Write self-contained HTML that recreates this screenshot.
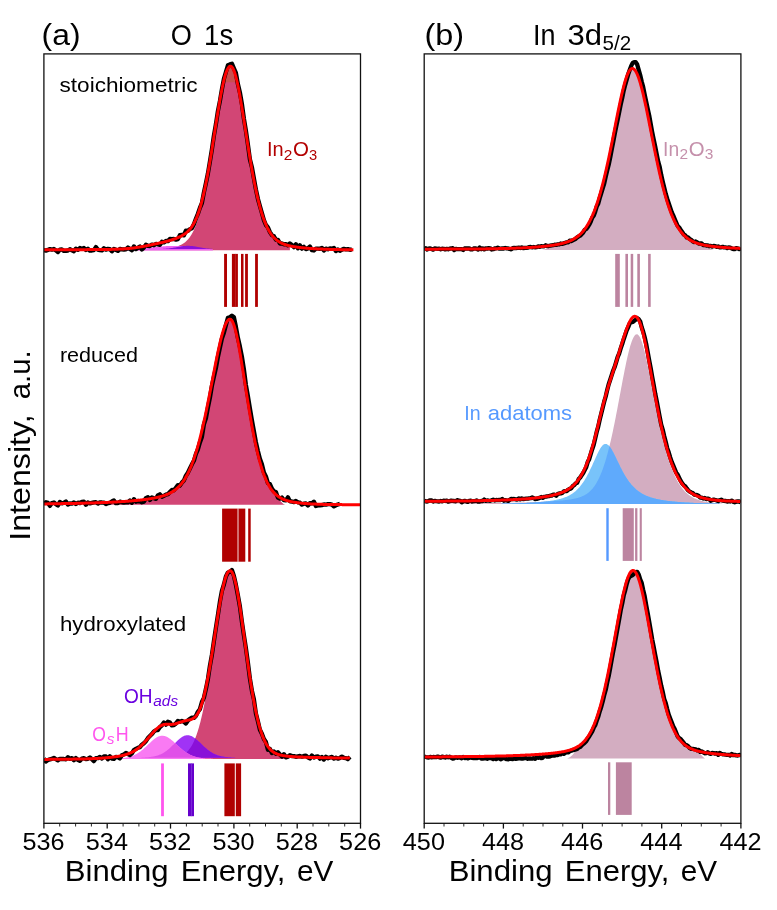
<!DOCTYPE html>
<html lang="en"><head><meta charset="utf-8"><title>XPS O 1s / In 3d5/2</title>
<style>
html,body{margin:0;padding:0;background:#fff;}
body{width:777px;height:910px;overflow:hidden;font-family:"Liberation Sans",sans-serif;}
svg{display:block;font-family:"Liberation Sans",sans-serif;}
</style></head><body>
<svg width="777" height="910" viewBox="0 0 777 910">
<rect width="777" height="910" fill="#ffffff"/>
<defs>
<clipPath id="ca"><rect x="43.9" y="53.9" width="316.6" height="769.4"/></clipPath>
<clipPath id="cb"><rect x="424.2" y="53.9" width="316.7" height="769.4"/></clipPath>
<clipPath id="top1"><rect x="150" y="50" width="160" height="32.3"/></clipPath>
<clipPath id="ov3"><path d="M148.9,758.5 L149.4,758.5 L149.9,758.5 L150.4,758.5 L150.9,758.5 L151.4,758.5 L151.9,758.5 L152.4,758.5 L152.9,758.4 L153.4,758.4 L153.9,758.4 L154.4,758.4 L154.9,758.4 L155.4,758.4 L155.9,758.4 L156.4,758.4 L156.9,758.4 L157.4,758.4 L157.9,758.4 L158.4,758.4 L158.9,758.3 L159.4,758.3 L159.9,758.3 L160.4,758.3 L160.9,758.3 L161.4,758.3 L161.9,758.3 L162.4,758.3 L162.9,758.2 L163.4,758.2 L163.9,758.2 L164.4,758.2 L164.9,758.2 L165.4,758.2 L165.9,758.1 L166.4,758.1 L166.9,758.1 L167.4,758.1 L167.9,758 L168.4,758 L168.9,758 L169.4,758 L169.9,757.9 L170.4,757.9 L170.9,757.8 L171.4,757.8 L171.9,757.7 L172.4,757.7 L172.9,757.6 L173.4,757.6 L173.9,757.5 L174.4,757.4 L174.9,757.4 L175.4,757.3 L175.9,757.2 L176.4,757.1 L176.9,757 L177.4,756.9 L177.9,756.8 L178.4,756.6 L178.9,756.5 L179.4,756.3 L179.9,756.2 L180.4,756 L180.9,755.8 L181.4,755.6 L181.9,755.4 L182.4,755.1 L182.9,754.9 L183.4,754.6 L183.9,754.3 L184.4,753.9 L184.9,753.6 L185.4,753.2 L185.9,752.8 L186.4,752.4 L186.9,751.9 L187.4,751.5 L187.9,750.9 L188.4,750.4 L188.9,749.8 L189.4,749.1 L189.9,748.5 L190.4,747.8 L190.9,747 L191.4,746.2 L191.9,745.4 L192.4,744.5 L192.9,743.5 L193.4,742.5 L193.9,741.4 L194.4,740.3 L194.9,739.1 L195.4,737.9 L195.9,736.6 L196.4,735.3 L196.9,733.8 L197.4,732.3 L197.9,730.8 L198.4,729.1 L198.9,727.4 L199.4,725.6 L199.9,723.8 L200.4,721.9 L200.9,719.8 L201.4,717.8 L201.9,715.6 L202.4,713.4 L202.9,711.1 L203.4,708.7 L203.9,706.2 L204.4,703.7 L204.9,701.1 L205.4,698.4 L205.9,695.7 L206.4,692.9 L206.9,690 L207.4,687.1 L207.9,684.1 L208.4,681 L208.9,677.9 L209.4,674.7 L209.9,671.5 L210.4,668.2 L210.9,664.9 L211.4,661.6 L211.9,658.2 L212.4,654.9 L212.9,651.5 L213.4,648 L213.9,644.6 L214.4,641.2 L214.9,637.8 L215.4,634.4 L215.9,631 L216.4,627.6 L216.9,624.3 L217.4,621 L217.9,617.8 L218.4,614.6 L218.9,611.5 L219.4,608.4 L219.9,605.5 L220.4,602.6 L220.9,599.8 L221.4,597.1 L221.9,594.5 L222.4,592 L222.9,589.7 L223.4,587.4 L223.9,585.3 L224.4,583.4 L224.9,581.5 L225.4,579.9 L225.9,578.4 L226.4,577 L226.9,575.8 L227.4,574.8 L227.9,573.9 L228.4,573.2 L228.9,572.7 L229.4,572.4 L229.9,572.2 L230.4,572.2 L230.9,572.5 L231.4,572.9 L231.9,573.6 L232.4,574.4 L232.9,575.5 L233.4,576.8 L233.9,578.2 L234.4,579.9 L234.9,581.7 L235.4,583.7 L235.9,585.9 L236.4,588.2 L236.9,590.7 L237.4,593.3 L237.9,596 L238.4,598.9 L238.9,601.9 L239.4,605 L239.9,608.2 L240.4,611.5 L240.9,614.8 L241.4,618.3 L241.9,621.7 L242.4,625.3 L242.9,628.8 L243.4,632.4 L243.9,636.1 L244.4,639.7 L244.9,643.3 L245.4,647 L245.9,650.6 L246.4,654.2 L246.9,657.8 L247.4,661.4 L247.9,664.9 L248.4,668.4 L248.9,671.8 L249.4,675.2 L249.9,678.5 L250.4,681.8 L250.9,685 L251.4,688.1 L251.9,691.2 L252.4,694.2 L252.9,697.1 L253.4,699.9 L253.9,702.6 L254.4,705.3 L254.9,707.9 L255.4,710.4 L255.9,712.8 L256.4,715.1 L256.9,717.3 L257.4,719.5 L257.9,721.5 L258.4,723.5 L258.9,725.4 L259.4,727.2 L259.9,729 L260.4,730.6 L260.9,732.2 L261.4,733.7 L261.9,735.2 L262.4,736.5 L262.9,737.8 L263.4,739 L263.9,740.2 L264.4,741.3 L264.9,742.3 L265.4,743.3 L265.9,744.2 L266.4,745.1 L266.9,745.9 L267.4,746.7 L267.9,747.4 L268.4,748.1 L268.9,748.7 L269.4,749.3 L269.9,749.9 L270.4,750.4 L270.9,750.9 L271.4,751.3 L271.9,751.8 L272.4,752.2 L272.9,752.5 L273.4,752.9 L273.9,753.2 L274.4,753.5 L274.9,753.8 L275.4,754 L275.9,754.3 L276.4,754.5 L276.9,754.7 L277.4,754.9 L277.9,755.1 L278.4,755.2 L278.9,755.4 L279.4,755.5 L279.9,755.7 L280.4,755.8 L280.9,755.9 L281.4,756 L281.9,756.1 L282.4,756.2 L282.9,756.3 L283.4,756.4 L283.9,756.5 L283.9,759 L148.9,759 Z"/></clipPath>
<clipPath id="ov3b"><path d="M141.4,757.5 L141.9,757.5 L142.4,757.5 L142.9,757.4 L143.4,757.4 L143.9,757.4 L144.4,757.4 L144.9,757.4 L145.4,757.3 L145.9,757.3 L146.4,757.3 L146.9,757.3 L147.4,757.2 L147.9,757.2 L148.4,757.2 L148.9,757.1 L149.4,757.1 L149.9,757 L150.4,757 L150.9,756.9 L151.4,756.8 L151.9,756.8 L152.4,756.7 L152.9,756.6 L153.4,756.5 L153.9,756.4 L154.4,756.3 L154.9,756.2 L155.4,756.1 L155.9,756 L156.4,755.8 L156.9,755.7 L157.4,755.6 L157.9,755.4 L158.4,755.2 L158.9,755 L159.4,754.8 L159.9,754.6 L160.4,754.4 L160.9,754.2 L161.4,754 L161.9,753.7 L162.4,753.5 L162.9,753.2 L163.4,752.9 L163.9,752.6 L164.4,752.3 L164.9,751.9 L165.4,751.6 L165.9,751.2 L166.4,750.9 L166.9,750.5 L167.4,750.1 L167.9,749.7 L168.4,749.3 L168.9,748.9 L169.4,748.4 L169.9,748 L170.4,747.5 L170.9,747.1 L171.4,746.6 L171.9,746.1 L172.4,745.6 L172.9,745.1 L173.4,744.7 L173.9,744.2 L174.4,743.7 L174.9,743.2 L175.4,742.7 L175.9,742.2 L176.4,741.7 L176.9,741.2 L177.4,740.8 L177.9,740.3 L178.4,739.8 L178.9,739.4 L179.4,739 L179.9,738.6 L180.4,738.2 L180.9,737.8 L181.4,737.4 L181.9,737.1 L182.4,736.8 L182.9,736.5 L183.4,736.2 L183.9,736 L184.4,735.8 L184.9,735.6 L185.4,735.5 L185.9,735.4 L186.4,735.3 L186.9,735.2 L187.4,735.2 L187.9,735.2 L188.4,735.2 L188.9,735.3 L189.4,735.4 L189.9,735.5 L190.4,735.7 L190.9,735.9 L191.4,736.1 L191.9,736.3 L192.4,736.6 L192.9,736.9 L193.4,737.2 L193.9,737.5 L194.4,737.9 L194.9,738.2 L195.4,738.6 L195.9,739 L196.4,739.4 L196.9,739.9 L197.4,740.3 L197.9,740.7 L198.4,741.2 L198.9,741.7 L199.4,742.1 L199.9,742.6 L200.4,743.1 L200.9,743.6 L201.4,744 L201.9,744.5 L202.4,745 L202.9,745.5 L203.4,745.9 L203.9,746.4 L204.4,746.9 L204.9,747.3 L205.4,747.8 L205.9,748.2 L206.4,748.6 L206.9,749 L207.4,749.5 L207.9,749.9 L208.4,750.2 L208.9,750.6 L209.4,751 L209.9,751.3 L210.4,751.7 L210.9,752 L211.4,752.3 L211.9,752.6 L212.4,752.9 L212.9,753.2 L213.4,753.5 L213.9,753.7 L214.4,754 L214.9,754.2 L215.4,754.4 L215.9,754.6 L216.4,754.8 L216.9,755 L217.4,755.2 L217.9,755.4 L218.4,755.5 L218.9,755.7 L219.4,755.8 L219.9,755.9 L220.4,756.1 L220.9,756.2 L221.4,756.3 L221.9,756.4 L222.4,756.5 L222.9,756.6 L223.4,756.6 L223.9,756.7 L224.4,756.8 L224.9,756.9 L225.4,756.9 L225.9,757 L226.4,757 L226.9,757.1 L227.4,757.1 L227.9,757.2 L228.4,757.2 L228.9,757.2 L229.4,757.3 L229.9,757.3 L230.4,757.3 L230.9,757.3 L231.4,757.4 L231.9,757.4 L232.4,757.4 L232.9,757.4 L233.4,757.4 L233.9,757.5 L234.4,757.5 L234.9,757.5 L234.9,757.8 L141.4,757.8 Z"/></clipPath>
<clipPath id="ov5"><path d="M446.7,503.5 L447.2,503.5 L447.7,503.5 L448.2,503.5 L448.7,503.5 L449.2,503.5 L449.7,503.5 L450.2,503.5 L450.7,503.5 L451.2,503.5 L451.7,503.5 L452.2,503.5 L452.7,503.5 L453.2,503.5 L453.7,503.5 L454.2,503.4 L454.7,503.4 L455.2,503.4 L455.7,503.4 L456.2,503.4 L456.7,503.4 L457.2,503.4 L457.7,503.4 L458.2,503.4 L458.7,503.4 L459.2,503.4 L459.7,503.4 L460.2,503.4 L460.7,503.4 L461.2,503.4 L461.7,503.4 L462.2,503.4 L462.7,503.4 L463.2,503.4 L463.7,503.4 L464.2,503.4 L464.7,503.4 L465.2,503.4 L465.7,503.4 L466.2,503.4 L466.7,503.4 L467.2,503.3 L467.7,503.3 L468.2,503.3 L468.7,503.3 L469.2,503.3 L469.7,503.3 L470.2,503.3 L470.7,503.3 L471.2,503.3 L471.7,503.3 L472.2,503.3 L472.7,503.3 L473.2,503.3 L473.7,503.3 L474.2,503.3 L474.7,503.3 L475.2,503.3 L475.7,503.3 L476.2,503.3 L476.7,503.3 L477.2,503.3 L477.7,503.2 L478.2,503.2 L478.7,503.2 L479.2,503.2 L479.7,503.2 L480.2,503.2 L480.7,503.2 L481.2,503.2 L481.7,503.2 L482.2,503.2 L482.7,503.2 L483.2,503.2 L483.7,503.2 L484.2,503.2 L484.7,503.2 L485.2,503.2 L485.7,503.2 L486.2,503.2 L486.7,503.1 L487.2,503.1 L487.7,503.1 L488.2,503.1 L488.7,503.1 L489.2,503.1 L489.7,503.1 L490.2,503.1 L490.7,503.1 L491.2,503.1 L491.7,503.1 L492.2,503.1 L492.7,503.1 L493.2,503.1 L493.7,503.1 L494.2,503 L494.7,503 L495.2,503 L495.7,503 L496.2,503 L496.7,503 L497.2,503 L497.7,503 L498.2,503 L498.7,503 L499.2,503 L499.7,503 L500.2,503 L500.7,502.9 L501.2,502.9 L501.7,502.9 L502.2,502.9 L502.7,502.9 L503.2,502.9 L503.7,502.9 L504.2,502.9 L504.7,502.9 L505.2,502.9 L505.7,502.9 L506.2,502.8 L506.7,502.8 L507.2,502.8 L507.7,502.8 L508.2,502.8 L508.7,502.8 L509.2,502.8 L509.7,502.8 L510.2,502.8 L510.7,502.8 L511.2,502.7 L511.7,502.7 L512.2,502.7 L512.7,502.7 L513.2,502.7 L513.7,502.7 L514.2,502.7 L514.7,502.7 L515.2,502.7 L515.7,502.6 L516.2,502.6 L516.7,502.6 L517.2,502.6 L517.7,502.6 L518.2,502.6 L518.7,502.6 L519.2,502.6 L519.7,502.5 L520.2,502.5 L520.7,502.5 L521.2,502.5 L521.7,502.5 L522.2,502.5 L522.7,502.5 L523.2,502.5 L523.7,502.4 L524.2,502.4 L524.7,502.4 L525.2,502.4 L525.7,502.4 L526.2,502.4 L526.7,502.4 L527.2,502.3 L527.7,502.3 L528.2,502.3 L528.7,502.3 L529.2,502.3 L529.7,502.3 L530.2,502.2 L530.7,502.2 L531.2,502.2 L531.7,502.2 L532.2,502.2 L532.7,502.2 L533.2,502.1 L533.7,502.1 L534.2,502.1 L534.7,502.1 L535.2,502.1 L535.7,502 L536.2,502 L536.7,502 L537.2,502 L537.7,502 L538.2,501.9 L538.7,501.9 L539.2,501.9 L539.7,501.9 L540.2,501.9 L540.7,501.8 L541.2,501.8 L541.7,501.8 L542.2,501.8 L542.7,501.7 L543.2,501.7 L543.7,501.7 L544.2,501.7 L544.7,501.6 L545.2,501.6 L545.7,501.6 L546.2,501.6 L546.7,501.5 L547.2,501.5 L547.7,501.5 L548.2,501.5 L548.7,501.4 L549.2,501.4 L549.7,501.4 L550.2,501.3 L550.7,501.3 L551.2,501.3 L551.7,501.2 L552.2,501.2 L552.7,501.2 L553.2,501.1 L553.7,501.1 L554.2,501.1 L554.7,501 L555.2,501 L555.7,501 L556.2,500.9 L556.7,500.9 L557.2,500.9 L557.7,500.8 L558.2,500.8 L558.7,500.7 L559.2,500.7 L559.7,500.7 L560.2,500.6 L560.7,500.6 L561.2,500.5 L561.7,500.5 L562.2,500.4 L562.7,500.4 L563.2,500.3 L563.7,500.3 L564.2,500.2 L564.7,500.2 L565.2,500.1 L565.7,500.1 L566.2,500 L566.7,499.9 L567.2,499.9 L567.7,499.8 L568.2,499.7 L568.7,499.7 L569.2,499.6 L569.7,499.5 L570.2,499.5 L570.7,499.4 L571.2,499.3 L571.7,499.2 L572.2,499.1 L572.7,499 L573.2,498.9 L573.7,498.8 L574.2,498.7 L574.7,498.6 L575.2,498.5 L575.7,498.4 L576.2,498.3 L576.7,498.2 L577.2,498 L577.7,497.9 L578.2,497.7 L578.7,497.6 L579.2,497.4 L579.7,497.3 L580.2,497.1 L580.7,496.9 L581.2,496.7 L581.7,496.5 L582.2,496.3 L582.7,496.1 L583.2,495.9 L583.7,495.6 L584.2,495.4 L584.7,495.1 L585.2,494.8 L585.7,494.5 L586.2,494.2 L586.7,493.9 L587.2,493.5 L587.7,493.2 L588.2,492.8 L588.7,492.4 L589.2,492 L589.7,491.5 L590.2,491 L590.7,490.6 L591.2,490 L591.7,489.5 L592.2,488.9 L592.7,488.4 L593.2,487.7 L593.7,487.1 L594.2,486.4 L594.7,485.7 L595.2,485 L595.7,484.2 L596.2,483.4 L596.7,482.5 L597.2,481.6 L597.7,480.7 L598.2,479.8 L598.7,478.8 L599.2,477.7 L599.7,476.6 L600.2,475.5 L600.7,474.3 L601.2,473.1 L601.7,471.9 L602.2,470.5 L602.7,469.2 L603.2,467.8 L603.7,466.3 L604.2,464.8 L604.7,463.3 L605.2,461.7 L605.7,460.1 L606.2,458.4 L606.7,456.6 L607.2,454.8 L607.7,453 L608.2,451.1 L608.7,449.1 L609.2,447.1 L609.7,445.1 L610.2,443 L610.7,440.9 L611.2,438.7 L611.7,436.4 L612.2,434.2 L612.7,431.9 L613.2,429.5 L613.7,427.1 L614.2,424.7 L614.7,422.2 L615.2,419.7 L615.7,417.2 L616.2,414.6 L616.7,412 L617.2,409.4 L617.7,406.8 L618.2,404.1 L618.7,401.5 L619.2,398.8 L619.7,396.1 L620.2,393.4 L620.7,390.8 L621.2,388.1 L621.7,385.4 L622.2,382.8 L622.7,380.1 L623.2,377.5 L623.7,374.9 L624.2,372.4 L624.7,369.8 L625.2,367.4 L625.7,364.9 L626.2,362.6 L626.7,360.2 L627.2,358 L627.7,355.8 L628.2,353.7 L628.7,351.7 L629.2,349.7 L629.7,347.9 L630.2,346.1 L630.7,344.5 L631.2,342.9 L631.7,341.5 L632.2,340.2 L632.7,339 L633.2,337.9 L633.7,337 L634.2,336.2 L634.7,335.6 L635.2,335 L635.7,334.6 L636.2,334.4 L636.7,334.3 L637.2,334.3 L637.7,334.6 L638.2,334.9 L638.7,335.4 L639.2,336.1 L639.7,336.9 L640.2,337.8 L640.7,338.9 L641.2,340.2 L641.7,341.5 L642.2,343 L642.7,344.6 L643.2,346.3 L643.7,348.1 L644.2,350 L644.7,352 L645.2,354.1 L645.7,356.3 L646.2,358.5 L646.7,360.8 L647.2,363.2 L647.7,365.6 L648.2,368.1 L648.7,370.6 L649.2,373.1 L649.7,375.7 L650.2,378.3 L650.7,380.9 L651.2,383.5 L651.7,386.1 L652.2,388.7 L652.7,391.3 L653.2,393.9 L653.7,396.5 L654.2,399.1 L654.7,401.7 L655.2,404.2 L655.7,406.8 L656.2,409.3 L656.7,411.8 L657.2,414.2 L657.7,416.6 L658.2,419 L658.7,421.4 L659.2,423.7 L659.7,426 L660.2,428.2 L660.7,430.5 L661.2,432.6 L661.7,434.8 L662.2,436.9 L662.7,438.9 L663.2,440.9 L663.7,442.9 L664.2,444.8 L664.7,446.7 L665.2,448.5 L665.7,450.3 L666.2,452.1 L666.7,453.8 L667.2,455.5 L667.7,457.1 L668.2,458.7 L668.7,460.2 L669.2,461.7 L669.7,463.2 L670.2,464.6 L670.7,466 L671.2,467.3 L671.7,468.6 L672.2,469.9 L672.7,471.1 L673.2,472.3 L673.7,473.5 L674.2,474.6 L674.7,475.7 L675.2,476.8 L675.7,477.8 L676.2,478.8 L676.7,479.7 L677.2,480.6 L677.7,481.5 L678.2,482.4 L678.7,483.2 L679.2,484 L679.7,484.8 L680.2,485.6 L680.7,486.3 L681.2,487 L681.7,487.6 L682.2,488.3 L682.7,488.9 L683.2,489.5 L683.7,490.1 L684.2,490.6 L684.7,491.2 L685.2,491.7 L685.7,492.2 L686.2,492.7 L686.7,493.1 L687.2,493.6 L687.7,494 L688.2,494.4 L688.7,494.8 L689.2,495.1 L689.7,495.5 L690.2,495.9 L690.7,496.2 L691.2,496.5 L691.7,496.8 L692.2,497.1 L692.7,497.4 L693.2,497.7 L693.7,497.9 L694.2,498.2 L694.7,498.4 L695.2,498.6 L695.7,498.8 L696.2,499.1 L696.7,499.3 L697.2,499.5 L697.7,499.6 L698.2,499.8 L698.7,500 L699.2,500.2 L699.7,500.3 L700.2,500.5 L700.7,500.6 L701.2,500.7 L701.7,500.9 L702.2,501 L702.7,501.1 L703.2,501.2 L703.7,501.4 L704.2,501.5 L704.7,501.6 L705.2,501.7 L705.7,501.8 L706.2,501.9 L706.7,501.9 L707.2,502 L707.7,502.1 L708.2,502.2 L708.7,502.3 L709.2,502.3 L709.7,502.4 L710.2,502.5 L710.7,502.5 L711.2,502.6 L711.7,502.7 L712.2,502.7 L712.7,502.8 L713.2,502.8 L713.7,502.9 L714.2,502.9 L714.7,503 L715.2,503 L715.7,503.1 L716.2,503.1 L716.7,503.1 L717.2,503.2 L717.7,503.2 L718.2,503.2 L718.7,503.3 L719.2,503.3 L719.7,503.3 L720.2,503.4 L720.7,503.4 L721.2,503.4 L721.7,503.5 L722.2,503.5 L722.2,504.1 L446.7,504.1 Z"/></clipPath>
</defs>
<path d="M95.4,249.7 L95.9,249.7 L96.4,249.7 L96.9,249.7 L97.4,249.7 L97.9,249.7 L98.4,249.7 L98.9,249.7 L99.4,249.7 L99.9,249.7 L100.4,249.7 L100.9,249.7 L101.4,249.7 L101.9,249.6 L102.4,249.6 L102.9,249.6 L103.4,249.6 L103.9,249.6 L104.4,249.6 L104.9,249.6 L105.4,249.6 L105.9,249.6 L106.4,249.6 L106.9,249.6 L107.4,249.6 L107.9,249.6 L108.4,249.6 L108.9,249.6 L109.4,249.6 L109.9,249.6 L110.4,249.6 L110.9,249.6 L111.4,249.6 L111.9,249.6 L112.4,249.5 L112.9,249.5 L113.4,249.5 L113.9,249.5 L114.4,249.5 L114.9,249.5 L115.4,249.5 L115.9,249.5 L116.4,249.5 L116.9,249.5 L117.4,249.5 L117.9,249.5 L118.4,249.5 L118.9,249.5 L119.4,249.5 L119.9,249.5 L120.4,249.5 L120.9,249.4 L121.4,249.4 L121.9,249.4 L122.4,249.4 L122.9,249.4 L123.4,249.4 L123.9,249.4 L124.4,249.4 L124.9,249.4 L125.4,249.4 L125.9,249.4 L126.4,249.4 L126.9,249.4 L127.4,249.4 L127.9,249.3 L128.4,249.3 L128.9,249.3 L129.4,249.3 L129.9,249.3 L130.4,249.3 L130.9,249.3 L131.4,249.3 L131.9,249.3 L132.4,249.3 L132.9,249.3 L133.4,249.2 L133.9,249.2 L134.4,249.2 L134.9,249.2 L135.4,249.2 L135.9,249.2 L136.4,249.2 L136.9,249.2 L137.4,249.2 L137.9,249.2 L138.4,249.1 L138.9,249.1 L139.4,249.1 L139.9,249.1 L140.4,249.1 L140.9,249.1 L141.4,249.1 L141.9,249.1 L142.4,249.1 L142.9,249 L143.4,249 L143.9,249 L144.4,249 L144.9,249 L145.4,249 L145.9,249 L146.4,248.9 L146.9,248.9 L147.4,248.9 L147.9,248.9 L148.4,248.9 L148.9,248.9 L149.4,248.9 L149.9,248.8 L150.4,248.8 L150.9,248.8 L151.4,248.8 L151.9,248.8 L152.4,248.8 L152.9,248.7 L153.4,248.7 L153.9,248.7 L154.4,248.7 L154.9,248.7 L155.4,248.6 L155.9,248.6 L156.4,248.6 L156.9,248.6 L157.4,248.6 L157.9,248.5 L158.4,248.5 L158.9,248.5 L159.4,248.5 L159.9,248.4 L160.4,248.4 L160.9,248.4 L161.4,248.4 L161.9,248.3 L162.4,248.3 L162.9,248.3 L163.4,248.2 L163.9,248.2 L164.4,248.2 L164.9,248.1 L165.4,248.1 L165.9,248.1 L166.4,248 L166.9,248 L167.4,247.9 L167.9,247.9 L168.4,247.8 L168.9,247.8 L169.4,247.7 L169.9,247.7 L170.4,247.6 L170.9,247.5 L171.4,247.5 L171.9,247.4 L172.4,247.3 L172.9,247.2 L173.4,247.1 L173.9,247.1 L174.4,247 L174.9,246.8 L175.4,246.7 L175.9,246.6 L176.4,246.5 L176.9,246.3 L177.4,246.2 L177.9,246 L178.4,245.9 L178.9,245.7 L179.4,245.5 L179.9,245.3 L180.4,245.1 L180.9,244.9 L181.4,244.6 L181.9,244.4 L182.4,244.1 L182.9,243.8 L183.4,243.5 L183.9,243.1 L184.4,242.8 L184.9,242.4 L185.4,242 L185.9,241.5 L186.4,241.1 L186.9,240.6 L187.4,240.1 L187.9,239.5 L188.4,238.9 L188.9,238.3 L189.4,237.7 L189.9,237 L190.4,236.2 L190.9,235.5 L191.4,234.7 L191.9,233.8 L192.4,232.9 L192.9,231.9 L193.4,230.9 L193.9,229.9 L194.4,228.8 L194.9,227.6 L195.4,226.4 L195.9,225.1 L196.4,223.8 L196.9,222.4 L197.4,221 L197.9,219.4 L198.4,217.9 L198.9,216.2 L199.4,214.5 L199.9,212.7 L200.4,210.9 L200.9,209 L201.4,207 L201.9,205 L202.4,202.8 L202.9,200.7 L203.4,198.4 L203.9,196.1 L204.4,193.7 L204.9,191.3 L205.4,188.7 L205.9,186.2 L206.4,183.5 L206.9,180.8 L207.4,178.1 L207.9,175.3 L208.4,172.4 L208.9,169.5 L209.4,166.5 L209.9,163.5 L210.4,160.4 L210.9,157.4 L211.4,154.2 L211.9,151.1 L212.4,147.9 L212.9,144.7 L213.4,141.5 L213.9,138.3 L214.4,135.1 L214.9,131.9 L215.4,128.6 L215.9,125.4 L216.4,122.3 L216.9,119.1 L217.4,116 L217.9,112.9 L218.4,109.8 L218.9,106.8 L219.4,103.9 L219.9,101 L220.4,98.2 L220.9,95.5 L221.4,92.9 L221.9,90.3 L222.4,87.9 L222.9,85.5 L223.4,83.3 L223.9,81.2 L224.4,79.2 L224.9,77.4 L225.4,75.6 L225.9,74.1 L226.4,72.6 L226.9,71.4 L227.4,70.3 L227.9,69.3 L228.4,68.5 L228.9,67.9 L229.4,67.4 L229.9,67.1 L230.4,67 L230.9,67.1 L231.4,67.3 L231.9,67.8 L232.4,68.4 L232.9,69.2 L233.4,70.2 L233.9,71.4 L234.4,72.7 L234.9,74.2 L235.4,75.9 L235.9,77.7 L236.4,79.7 L236.9,81.8 L237.4,84 L237.9,86.4 L238.4,88.8 L238.9,91.4 L239.4,94.1 L239.9,96.8 L240.4,99.6 L240.9,102.5 L241.4,105.5 L241.9,108.5 L242.4,111.6 L242.9,114.6 L243.4,117.8 L243.9,120.9 L244.4,124.1 L244.9,127.3 L245.4,130.5 L245.9,133.7 L246.4,136.8 L246.9,140 L247.4,143.2 L247.9,146.3 L248.4,149.4 L248.9,152.5 L249.4,155.6 L249.9,158.6 L250.4,161.5 L250.9,164.5 L251.4,167.4 L251.9,170.2 L252.4,173 L252.9,175.7 L253.4,178.4 L253.9,181 L254.4,183.6 L254.9,186.1 L255.4,188.5 L255.9,190.9 L256.4,193.2 L256.9,195.4 L257.4,197.6 L257.9,199.7 L258.4,201.8 L258.9,203.8 L259.4,205.7 L259.9,207.6 L260.4,209.4 L260.9,211.1 L261.4,212.8 L261.9,214.4 L262.4,216 L262.9,217.5 L263.4,218.9 L263.9,220.3 L264.4,221.7 L264.9,222.9 L265.4,224.2 L265.9,225.3 L266.4,226.5 L266.9,227.5 L267.4,228.5 L267.9,229.5 L268.4,230.5 L268.9,231.4 L269.4,232.2 L269.9,233 L270.4,233.8 L270.9,234.5 L271.4,235.2 L271.9,235.9 L272.4,236.5 L272.9,237.1 L273.4,237.7 L273.9,238.2 L274.4,238.7 L274.9,239.2 L275.4,239.7 L275.9,240.1 L276.4,240.6 L276.9,241 L277.4,241.3 L277.9,241.7 L278.4,242 L278.9,242.3 L279.4,242.7 L279.9,242.9 L280.4,243.2 L280.9,243.5 L281.4,243.7 L281.9,244 L282.4,244.2 L282.9,244.4 L283.4,244.6 L283.9,244.8 L284.4,245 L284.9,245.1 L285.4,245.3 L285.9,245.5 L286.4,245.6 L286.9,245.8 L287.4,245.9 L287.9,246 L288.4,246.2 L288.9,246.3 L289.4,246.4 L289.9,246.5 L289.9,250.2 L95.4,250.2 Z" fill="#d24675" stroke="none" clip-path="url(#ca)"/>
<g clip-path="url(#top1)">
<path d="M95.4,249.7 L95.9,249.7 L96.4,249.7 L96.9,249.7 L97.4,249.7 L97.9,249.7 L98.4,249.7 L98.9,249.7 L99.4,249.7 L99.9,249.7 L100.4,249.7 L100.9,249.7 L101.4,249.7 L101.9,249.6 L102.4,249.6 L102.9,249.6 L103.4,249.6 L103.9,249.6 L104.4,249.6 L104.9,249.6 L105.4,249.6 L105.9,249.6 L106.4,249.6 L106.9,249.6 L107.4,249.6 L107.9,249.6 L108.4,249.6 L108.9,249.6 L109.4,249.6 L109.9,249.6 L110.4,249.6 L110.9,249.6 L111.4,249.6 L111.9,249.6 L112.4,249.5 L112.9,249.5 L113.4,249.5 L113.9,249.5 L114.4,249.5 L114.9,249.5 L115.4,249.5 L115.9,249.5 L116.4,249.5 L116.9,249.5 L117.4,249.5 L117.9,249.5 L118.4,249.5 L118.9,249.5 L119.4,249.5 L119.9,249.5 L120.4,249.5 L120.9,249.4 L121.4,249.4 L121.9,249.4 L122.4,249.4 L122.9,249.4 L123.4,249.4 L123.9,249.4 L124.4,249.4 L124.9,249.4 L125.4,249.4 L125.9,249.4 L126.4,249.4 L126.9,249.4 L127.4,249.4 L127.9,249.3 L128.4,249.3 L128.9,249.3 L129.4,249.3 L129.9,249.3 L130.4,249.3 L130.9,249.3 L131.4,249.3 L131.9,249.3 L132.4,249.3 L132.9,249.3 L133.4,249.2 L133.9,249.2 L134.4,249.2 L134.9,249.2 L135.4,249.2 L135.9,249.2 L136.4,249.2 L136.9,249.2 L137.4,249.2 L137.9,249.2 L138.4,249.1 L138.9,249.1 L139.4,249.1 L139.9,249.1 L140.4,249.1 L140.9,249.1 L141.4,249.1 L141.9,249.1 L142.4,249.1 L142.9,249 L143.4,249 L143.9,249 L144.4,249 L144.9,249 L145.4,249 L145.9,249 L146.4,248.9 L146.9,248.9 L147.4,248.9 L147.9,248.9 L148.4,248.9 L148.9,248.9 L149.4,248.9 L149.9,248.8 L150.4,248.8 L150.9,248.8 L151.4,248.8 L151.9,248.8 L152.4,248.8 L152.9,248.7 L153.4,248.7 L153.9,248.7 L154.4,248.7 L154.9,248.7 L155.4,248.6 L155.9,248.6 L156.4,248.6 L156.9,248.6 L157.4,248.6 L157.9,248.5 L158.4,248.5 L158.9,248.5 L159.4,248.5 L159.9,248.4 L160.4,248.4 L160.9,248.4 L161.4,248.4 L161.9,248.3 L162.4,248.3 L162.9,248.3 L163.4,248.2 L163.9,248.2 L164.4,248.2 L164.9,248.1 L165.4,248.1 L165.9,248.1 L166.4,248 L166.9,248 L167.4,247.9 L167.9,247.9 L168.4,247.8 L168.9,247.8 L169.4,247.7 L169.9,247.7 L170.4,247.6 L170.9,247.5 L171.4,247.5 L171.9,247.4 L172.4,247.3 L172.9,247.2 L173.4,247.1 L173.9,247.1 L174.4,247 L174.9,246.8 L175.4,246.7 L175.9,246.6 L176.4,246.5 L176.9,246.3 L177.4,246.2 L177.9,246 L178.4,245.9 L178.9,245.7 L179.4,245.5 L179.9,245.3 L180.4,245.1 L180.9,244.9 L181.4,244.6 L181.9,244.4 L182.4,244.1 L182.9,243.8 L183.4,243.5 L183.9,243.1 L184.4,242.8 L184.9,242.4 L185.4,242 L185.9,241.5 L186.4,241.1 L186.9,240.6 L187.4,240.1 L187.9,239.5 L188.4,238.9 L188.9,238.3 L189.4,237.7 L189.9,237 L190.4,236.2 L190.9,235.5 L191.4,234.7 L191.9,233.8 L192.4,232.9 L192.9,231.9 L193.4,230.9 L193.9,229.9 L194.4,228.8 L194.9,227.6 L195.4,226.4 L195.9,225.1 L196.4,223.8 L196.9,222.4 L197.4,221 L197.9,219.4 L198.4,217.9 L198.9,216.2 L199.4,214.5 L199.9,212.7 L200.4,210.9 L200.9,209 L201.4,207 L201.9,205 L202.4,202.8 L202.9,200.7 L203.4,198.4 L203.9,196.1 L204.4,193.7 L204.9,191.3 L205.4,188.7 L205.9,186.2 L206.4,183.5 L206.9,180.8 L207.4,178.1 L207.9,175.3 L208.4,172.4 L208.9,169.5 L209.4,166.5 L209.9,163.5 L210.4,160.4 L210.9,157.4 L211.4,154.2 L211.9,151.1 L212.4,147.9 L212.9,144.7 L213.4,141.5 L213.9,138.3 L214.4,135.1 L214.9,131.9 L215.4,128.6 L215.9,125.4 L216.4,122.3 L216.9,119.1 L217.4,116 L217.9,112.9 L218.4,109.8 L218.9,106.8 L219.4,103.9 L219.9,101 L220.4,98.2 L220.9,95.5 L221.4,92.9 L221.9,90.3 L222.4,87.9 L222.9,85.5 L223.4,83.3 L223.9,81.2 L224.4,79.2 L224.9,77.4 L225.4,75.6 L225.9,74.1 L226.4,72.6 L226.9,71.4 L227.4,70.3 L227.9,69.3 L228.4,68.5 L228.9,67.9 L229.4,67.4 L229.9,67.1 L230.4,67 L230.9,67.1 L231.4,67.3 L231.9,67.8 L232.4,68.4 L232.9,69.2 L233.4,70.2 L233.9,71.4 L234.4,72.7 L234.9,74.2 L235.4,75.9 L235.9,77.7 L236.4,79.7 L236.9,81.8 L237.4,84 L237.9,86.4 L238.4,88.8 L238.9,91.4 L239.4,94.1 L239.9,96.8 L240.4,99.6 L240.9,102.5 L241.4,105.5 L241.9,108.5 L242.4,111.6 L242.9,114.6 L243.4,117.8 L243.9,120.9 L244.4,124.1 L244.9,127.3 L245.4,130.5 L245.9,133.7 L246.4,136.8 L246.9,140 L247.4,143.2 L247.9,146.3 L248.4,149.4 L248.9,152.5 L249.4,155.6 L249.9,158.6 L250.4,161.5 L250.9,164.5 L251.4,167.4 L251.9,170.2 L252.4,173 L252.9,175.7 L253.4,178.4 L253.9,181 L254.4,183.6 L254.9,186.1 L255.4,188.5 L255.9,190.9 L256.4,193.2 L256.9,195.4 L257.4,197.6 L257.9,199.7 L258.4,201.8 L258.9,203.8 L259.4,205.7 L259.9,207.6 L260.4,209.4 L260.9,211.1 L261.4,212.8 L261.9,214.4 L262.4,216 L262.9,217.5 L263.4,218.9 L263.9,220.3 L264.4,221.7 L264.9,222.9 L265.4,224.2 L265.9,225.3 L266.4,226.5 L266.9,227.5 L267.4,228.5 L267.9,229.5 L268.4,230.5 L268.9,231.4 L269.4,232.2 L269.9,233 L270.4,233.8 L270.9,234.5 L271.4,235.2 L271.9,235.9 L272.4,236.5 L272.9,237.1 L273.4,237.7 L273.9,238.2 L274.4,238.7 L274.9,239.2 L275.4,239.7 L275.9,240.1 L276.4,240.6 L276.9,241 L277.4,241.3 L277.9,241.7 L278.4,242 L278.9,242.3 L279.4,242.7 L279.9,242.9 L280.4,243.2 L280.9,243.5 L281.4,243.7 L281.9,244 L282.4,244.2 L282.9,244.4 L283.4,244.6 L283.9,244.8 L284.4,245 L284.9,245.1 L285.4,245.3 L285.9,245.5 L286.4,245.6 L286.9,245.8 L287.4,245.9 L287.9,246 L288.4,246.2 L288.9,246.3 L289.4,246.4 L289.9,246.5 L289.9,250.2 L95.4,250.2 Z" fill="#c8504f" stroke="none" clip-path="url(#ca)"/>
</g>
<path d="M120.4,249.9 L120.9,249.9 L121.4,249.9 L121.9,249.9 L122.4,249.9 L122.9,249.8 L123.4,249.8 L123.9,249.8 L124.4,249.8 L124.9,249.7 L125.4,249.7 L125.9,249.7 L126.4,249.7 L126.9,249.6 L127.4,249.6 L127.9,249.6 L128.4,249.6 L128.9,249.5 L129.4,249.5 L129.9,249.5 L130.4,249.4 L130.9,249.4 L131.4,249.4 L131.9,249.3 L132.4,249.3 L132.9,249.3 L133.4,249.2 L133.9,249.2 L134.4,249.1 L134.9,249.1 L135.4,249.1 L135.9,249 L136.4,249 L136.9,248.9 L137.4,248.9 L137.9,248.8 L138.4,248.8 L138.9,248.8 L139.4,248.7 L139.9,248.7 L140.4,248.6 L140.9,248.6 L141.4,248.5 L141.9,248.5 L142.4,248.4 L142.9,248.4 L143.4,248.3 L143.9,248.3 L144.4,248.2 L144.9,248.2 L145.4,248.1 L145.9,248.1 L146.4,248 L146.9,248 L147.4,247.9 L147.9,247.8 L148.4,247.8 L148.9,247.7 L149.4,247.7 L149.9,247.6 L150.4,247.6 L150.9,247.5 L151.4,247.5 L151.9,247.4 L152.4,247.4 L152.9,247.3 L153.4,247.3 L153.9,247.2 L154.4,247.2 L154.9,247.1 L155.4,247.1 L155.9,247 L156.4,247 L156.9,246.9 L157.4,246.9 L157.9,246.8 L158.4,246.8 L158.9,246.7 L159.4,246.7 L159.9,246.6 L160.4,246.6 L160.9,246.5 L161.4,246.5 L161.9,246.5 L162.4,246.4 L162.9,246.4 L163.4,246.3 L163.9,246.3 L164.4,246.3 L164.9,246.2 L165.4,246.2 L165.9,246.2 L166.4,246.1 L166.9,246.1 L167.4,246.1 L167.9,246.1 L168.4,246 L168.9,246 L169.4,246 L169.9,246 L170.4,246 L170.9,246 L171.4,245.9 L171.9,245.9 L172.4,245.9 L172.9,245.9 L173.4,245.9 L173.9,245.9 L174.4,245.9 L174.9,245.9 L175.4,245.9 L175.9,245.9 L176.4,245.9 L176.9,245.9 L177.4,245.9 L177.9,245.9 L178.4,246 L178.9,246 L179.4,246 L179.9,246 L180.4,246 L180.9,246.1 L181.4,246.1 L181.9,246.1 L182.4,246.1 L182.9,246.2 L183.4,246.2 L183.9,246.3 L184.4,246.3 L184.9,246.3 L185.4,246.4 L185.9,246.4 L186.4,246.5 L186.9,246.5 L187.4,246.6 L187.9,246.6 L188.4,246.7 L188.9,246.7 L189.4,246.8 L189.9,246.8 L190.4,246.9 L190.9,246.9 L191.4,247 L191.9,247 L192.4,247.1 L192.9,247.2 L193.4,247.2 L193.9,247.3 L194.4,247.3 L194.9,247.4 L195.4,247.5 L195.9,247.5 L196.4,247.6 L196.9,247.6 L197.4,247.7 L197.9,247.8 L198.4,247.8 L198.9,247.9 L199.4,248 L199.9,248 L200.4,248.1 L200.9,248.1 L201.4,248.2 L201.9,248.3 L202.4,248.3 L202.9,248.4 L203.4,248.4 L203.9,248.5 L204.4,248.5 L204.9,248.6 L205.4,248.7 L205.9,248.7 L206.4,248.8 L206.9,248.8 L207.4,248.9 L207.9,248.9 L208.4,249 L208.9,249 L209.4,249.1 L209.9,249.1 L210.4,249.2 L210.9,249.2 L211.4,249.2 L211.9,249.3 L212.4,249.3 L212.9,249.4 L212.9,250.4 L120.4,250.4 Z" fill="#f060f0" stroke="none" clip-path="url(#ca)"/>
<path d="M161.9,248.9 L162.4,248.9 L162.9,248.9 L163.4,248.8 L163.9,248.8 L164.4,248.8 L164.9,248.7 L165.4,248.7 L165.9,248.7 L166.4,248.6 L166.9,248.6 L167.4,248.5 L167.9,248.5 L168.4,248.4 L168.9,248.4 L169.4,248.3 L169.9,248.2 L170.4,248.2 L170.9,248.1 L171.4,248 L171.9,248 L172.4,247.9 L172.9,247.8 L173.4,247.7 L173.9,247.6 L174.4,247.6 L174.9,247.5 L175.4,247.4 L175.9,247.3 L176.4,247.2 L176.9,247.1 L177.4,247 L177.9,246.9 L178.4,246.8 L178.9,246.8 L179.4,246.7 L179.9,246.6 L180.4,246.5 L180.9,246.4 L181.4,246.3 L181.9,246.3 L182.4,246.2 L182.9,246.1 L183.4,246.1 L183.9,246 L184.4,246 L184.9,245.9 L185.4,245.9 L185.9,245.9 L186.4,245.8 L186.9,245.8 L187.4,245.8 L187.9,245.8 L188.4,245.8 L188.9,245.8 L189.4,245.8 L189.9,245.9 L190.4,245.9 L190.9,245.9 L191.4,246 L191.9,246 L192.4,246.1 L192.9,246.1 L193.4,246.2 L193.9,246.3 L194.4,246.3 L194.9,246.4 L195.4,246.5 L195.9,246.6 L196.4,246.7 L196.9,246.8 L197.4,246.9 L197.9,247 L198.4,247.1 L198.9,247.2 L199.4,247.2 L199.9,247.3 L200.4,247.4 L200.9,247.5 L201.4,247.6 L201.9,247.7 L202.4,247.8 L202.9,247.9 L203.4,247.9 L203.9,248 L204.4,248.1 L204.9,248.2 L205.4,248.2 L205.9,248.3 L206.4,248.4 L206.9,248.4 L207.4,248.5 L207.9,248.5 L208.4,248.6 L208.9,248.6 L209.4,248.7 L209.9,248.7 L210.4,248.7 L210.9,248.8 L211.4,248.8 L211.9,248.8 L212.4,248.9 L212.9,248.9 L212.9,249.1 L161.9,249.1 Z" fill="#8a10d8" stroke="none" clip-path="url(#ca)"/>
<path d="M43.9,250.2 L45.9,250.6 L47.9,249.9 L49.9,249.1 L51.9,249.7 L53.9,249 L55.9,250.4 L57.9,252 L59.9,249.7 L61.9,249.5 L63.9,250.9 L65.9,250.8 L67.9,250.5 L69.9,249.2 L71.9,250.3 L73.9,251.2 L75.9,248.7 L77.9,249.8 L79.9,248 L81.9,248.7 L83.9,248 L85.9,250 L87.9,248.7 L89.9,250.7 L91.9,250.5 L93.9,250.1 L95.9,247.1 L97.9,249.6 L99.9,250.2 L101.9,250.4 L103.9,248.3 L105.9,249.6 L107.9,248.9 L109.9,249.1 L111.9,251.3 L113.9,248.9 L115.9,249.8 L117.9,250.9 L119.9,248.9 L121.9,249.4 L123.9,249.5 L125.9,249.3 L127.9,247.5 L129.9,248.9 L131.9,250.3 L133.9,246.4 L135.9,249.1 L137.9,247.9 L139.9,246.6 L141.9,249.5 L143.9,247.6 L145.9,244.7 L147.9,245.8 L149.9,246 L151.9,244.6 L153.9,245.3 L155.9,243.9 L157.9,244.4 L159.9,244.9 L161.9,241.8 L163.9,242.4 L165.9,241 L167.9,241.2 L169.9,239 L171.9,239.2 L173.9,239 L175.9,239.6 L177.9,239.1 L179.9,235.1 L181.9,234.8 L183.9,235.4 L185.9,230.6 L187.9,230.8 L189.9,229.1 L191.9,228.2 L193.9,224.2 L195.9,218.8 L197.9,213.8 L199.9,207.9 L201.9,203.1 L203.9,192.4 L205.9,183.2 L207.9,173.5 L209.9,161.6 L211.9,149.3 L213.9,135.6 L215.9,124.2 L217.9,111.1 L219.9,101.1 L221.9,89.4 L223.9,78.9 L225.9,72 L227.9,65.3 L229.9,64.4 L231.9,63.7 L233.9,68.3 L235.9,72.8 L237.9,84.1 L239.9,92.4 L241.9,103.9 L243.9,118.6 L245.9,130.6 L247.9,144.5 L249.9,159.4 L251.9,167.2 L253.9,178.4 L255.9,189.4 L257.9,198.8 L259.9,206 L261.9,213 L263.9,220.1 L265.9,225 L267.9,227.4 L269.9,232.1 L271.9,235.2 L273.9,236.2 L275.9,239.8 L277.9,239.9 L279.9,243.5 L281.9,243.5 L283.9,244.3 L285.9,244.1 L287.9,245.3 L289.9,243.4 L291.9,244.9 L293.9,247.1 L295.9,244.3 L297.9,248.3 L299.9,245.3 L301.9,248.7 L303.9,246.9 L305.9,249.1 L307.9,248.4 L309.9,246.5 L311.9,250.1 L313.9,250.5 L315.9,248.7 L317.9,248.6 L319.9,248.8 L321.9,247.9 L323.9,250.5 L325.9,248.6 L327.9,249.3 L329.9,248.4 L331.9,248.7 L333.9,247.9 L335.9,251.1 L337.9,249.4 L339.9,250.8 L341.9,249.7 L343.9,248.8 L345.9,249.3 L347.9,249.1 L349.9,249.8 L351.9,249.4" fill="none" stroke="#000" stroke-width="4.3" stroke-linejoin="round" stroke-linecap="butt" clip-path="url(#ca)"/>
<path d="M43.9,249.8 L44.4,249.8 L44.9,249.8 L45.4,249.8 L45.9,249.8 L46.4,249.8 L46.9,249.8 L47.4,249.8 L47.9,249.8 L48.4,249.8 L48.9,249.8 L49.4,249.8 L49.9,249.8 L50.4,249.8 L50.9,249.8 L51.4,249.8 L51.9,249.8 L52.4,249.8 L52.9,249.8 L53.4,249.8 L53.9,249.8 L54.4,249.8 L54.9,249.8 L55.4,249.8 L55.9,249.8 L56.4,249.8 L56.9,249.8 L57.4,249.8 L57.9,249.8 L58.4,249.8 L58.9,249.8 L59.4,249.8 L59.9,249.8 L60.4,249.8 L60.9,249.8 L61.4,249.8 L61.9,249.8 L62.4,249.8 L62.9,249.8 L63.4,249.8 L63.9,249.8 L64.4,249.8 L64.9,249.8 L65.4,249.8 L65.9,249.8 L66.4,249.8 L66.9,249.8 L67.4,249.8 L67.9,249.7 L68.4,249.7 L68.9,249.7 L69.4,249.7 L69.9,249.7 L70.4,249.7 L70.9,249.7 L71.4,249.7 L71.9,249.7 L72.4,249.7 L72.9,249.7 L73.4,249.7 L73.9,249.7 L74.4,249.7 L74.9,249.7 L75.4,249.7 L75.9,249.7 L76.4,249.7 L76.9,249.7 L77.4,249.7 L77.9,249.7 L78.4,249.7 L78.9,249.7 L79.4,249.7 L79.9,249.7 L80.4,249.7 L80.9,249.7 L81.4,249.7 L81.9,249.7 L82.4,249.7 L82.9,249.7 L83.4,249.7 L83.9,249.7 L84.4,249.7 L84.9,249.7 L85.4,249.7 L85.9,249.7 L86.4,249.7 L86.9,249.6 L87.4,249.6 L87.9,249.6 L88.4,249.6 L88.9,249.6 L89.4,249.6 L89.9,249.6 L90.4,249.6 L90.9,249.6 L91.4,249.6 L91.9,249.6 L92.4,249.6 L92.9,249.6 L93.4,249.6 L93.9,249.6 L94.4,249.6 L94.9,249.6 L95.4,249.6 L95.9,249.6 L96.4,249.6 L96.9,249.6 L97.4,249.6 L97.9,249.6 L98.4,249.6 L98.9,249.5 L99.4,249.5 L99.9,249.5 L100.4,249.5 L100.9,249.5 L101.4,249.5 L101.9,249.5 L102.4,249.5 L102.9,249.5 L103.4,249.5 L103.9,249.5 L104.4,249.5 L104.9,249.5 L105.4,249.5 L105.9,249.5 L106.4,249.5 L106.9,249.4 L107.4,249.4 L107.9,249.4 L108.4,249.4 L108.9,249.4 L109.4,249.4 L109.9,249.4 L110.4,249.4 L110.9,249.4 L111.4,249.4 L111.9,249.3 L112.4,249.3 L112.9,249.3 L113.4,249.3 L113.9,249.3 L114.4,249.3 L114.9,249.3 L115.4,249.3 L115.9,249.2 L116.4,249.2 L116.9,249.2 L117.4,249.2 L117.9,249.2 L118.4,249.1 L118.9,249.1 L119.4,249.1 L119.9,249.1 L120.4,249.1 L120.9,249 L121.4,249 L121.9,249 L122.4,248.9 L122.9,248.9 L123.4,248.9 L123.9,248.9 L124.4,248.8 L124.9,248.8 L125.4,248.8 L125.9,248.7 L126.4,248.7 L126.9,248.6 L127.4,248.6 L127.9,248.6 L128.4,248.5 L128.9,248.5 L129.4,248.4 L129.9,248.4 L130.4,248.3 L130.9,248.3 L131.4,248.2 L131.9,248.2 L132.4,248.1 L132.9,248 L133.4,248 L133.9,247.9 L134.4,247.9 L134.9,247.8 L135.4,247.7 L135.9,247.6 L136.4,247.6 L136.9,247.5 L137.4,247.4 L137.9,247.3 L138.4,247.3 L138.9,247.2 L139.4,247.1 L139.9,247 L140.4,246.9 L140.9,246.8 L141.4,246.8 L141.9,246.7 L142.4,246.6 L142.9,246.5 L143.4,246.4 L143.9,246.3 L144.4,246.2 L144.9,246.1 L145.4,246 L145.9,245.9 L146.4,245.8 L146.9,245.7 L147.4,245.6 L147.9,245.5 L148.4,245.4 L148.9,245.3 L149.4,245.2 L149.9,245.1 L150.4,245 L150.9,244.9 L151.4,244.8 L151.9,244.7 L152.4,244.5 L152.9,244.4 L153.4,244.3 L153.9,244.2 L154.4,244.1 L154.9,244 L155.4,243.9 L155.9,243.8 L156.4,243.7 L156.9,243.6 L157.4,243.5 L157.9,243.4 L158.4,243.2 L158.9,243.1 L159.4,243 L159.9,242.9 L160.4,242.8 L160.9,242.7 L161.4,242.6 L161.9,242.5 L162.4,242.3 L162.9,242.2 L163.4,242.1 L163.9,242 L164.4,241.9 L164.9,241.7 L165.4,241.6 L165.9,241.5 L166.4,241.4 L166.9,241.2 L167.4,241.1 L167.9,241 L168.4,240.8 L168.9,240.7 L169.4,240.6 L169.9,240.4 L170.4,240.3 L170.9,240.1 L171.4,240 L171.9,239.8 L172.4,239.7 L172.9,239.5 L173.4,239.3 L173.9,239.2 L174.4,239 L174.9,238.8 L175.4,238.6 L175.9,238.5 L176.4,238.3 L176.9,238.1 L177.4,237.9 L177.9,237.7 L178.4,237.4 L178.9,237.2 L179.4,237 L179.9,236.8 L180.4,236.5 L180.9,236.3 L181.4,236 L181.9,235.7 L182.4,235.4 L182.9,235.2 L183.4,234.8 L183.9,234.5 L184.4,234.2 L184.9,233.8 L185.4,233.5 L185.9,233.1 L186.4,232.7 L186.9,232.3 L187.4,231.8 L187.9,231.4 L188.4,230.9 L188.9,230.3 L189.4,229.8 L189.9,229.2 L190.4,228.6 L190.9,228 L191.4,227.3 L191.9,226.6 L192.4,225.8 L192.9,225 L193.4,224.2 L193.9,223.3 L194.4,222.3 L194.9,221.4 L195.4,220.3 L195.9,219.2 L196.4,218.1 L196.9,216.9 L197.4,215.6 L197.9,214.2 L198.4,212.8 L198.9,211.4 L199.4,209.9 L199.9,208.3 L200.4,206.6 L200.9,204.8 L201.4,203 L201.9,201.2 L202.4,199.2 L202.9,197.2 L203.4,195.1 L203.9,192.9 L204.4,190.7 L204.9,188.4 L205.4,186 L205.9,183.5 L206.4,181 L206.9,178.4 L207.4,175.8 L207.9,173.1 L208.4,170.3 L208.9,167.5 L209.4,164.6 L209.9,161.7 L210.4,158.7 L210.9,155.7 L211.4,152.7 L211.9,149.6 L212.4,146.5 L212.9,143.3 L213.4,140.2 L213.9,137 L214.4,133.8 L214.9,130.7 L215.4,127.5 L215.9,124.3 L216.4,121.2 L216.9,118 L217.4,114.9 L217.9,111.9 L218.4,108.9 L218.9,105.9 L219.4,103 L219.9,100.1 L220.4,97.3 L220.9,94.6 L221.4,92 L221.9,89.5 L222.4,87 L222.9,84.7 L223.4,82.5 L223.9,80.4 L224.4,78.4 L224.9,76.5 L225.4,74.8 L225.9,73.3 L226.4,71.8 L226.9,70.6 L227.4,69.4 L227.9,68.5 L228.4,67.7 L228.9,67.1 L229.4,66.6 L229.9,66.3 L230.4,66.2 L230.9,66.3 L231.4,66.5 L231.9,67 L232.4,67.6 L232.9,68.4 L233.4,69.4 L233.9,70.6 L234.4,71.9 L234.9,73.4 L235.4,75.1 L235.9,76.9 L236.4,78.9 L236.9,81 L237.4,83.2 L237.9,85.6 L238.4,88 L238.9,90.6 L239.4,93.3 L239.9,96 L240.4,98.8 L240.9,101.7 L241.4,104.7 L241.9,107.7 L242.4,110.8 L242.9,113.8 L243.4,117 L243.9,120.1 L244.4,123.3 L244.9,126.5 L245.4,129.7 L245.9,132.9 L246.4,136.1 L246.9,139.2 L247.4,142.4 L247.9,145.5 L248.4,148.6 L248.9,151.7 L249.4,154.8 L249.9,157.8 L250.4,160.8 L250.9,163.7 L251.4,166.6 L251.9,169.4 L252.4,172.2 L252.9,174.9 L253.4,177.6 L253.9,180.2 L254.4,182.8 L254.9,185.3 L255.4,187.7 L255.9,190.1 L256.4,192.4 L256.9,194.7 L257.4,196.9 L257.9,199 L258.4,201 L258.9,203 L259.4,205 L259.9,206.8 L260.4,208.6 L260.9,210.4 L261.4,212.1 L261.9,213.7 L262.4,215.2 L262.9,216.8 L263.4,218.2 L263.9,219.6 L264.4,220.9 L264.9,222.2 L265.4,223.4 L265.9,224.6 L266.4,225.7 L266.9,226.8 L267.4,227.8 L267.9,228.8 L268.4,229.7 L268.9,230.6 L269.4,231.5 L269.9,232.3 L270.4,233.1 L270.9,233.8 L271.4,234.5 L271.9,235.2 L272.4,235.8 L272.9,236.4 L273.4,237 L273.9,237.5 L274.4,238.1 L274.9,238.5 L275.4,239 L275.9,239.5 L276.4,239.9 L276.9,240.3 L277.4,240.7 L277.9,241 L278.4,241.4 L278.9,241.7 L279.4,242 L279.9,242.3 L280.4,242.6 L280.9,242.8 L281.4,243.1 L281.9,243.3 L282.4,243.5 L282.9,243.8 L283.4,244 L283.9,244.2 L284.4,244.3 L284.9,244.5 L285.4,244.7 L285.9,244.8 L286.4,245 L286.9,245.1 L287.4,245.3 L287.9,245.4 L288.4,245.6 L288.9,245.7 L289.4,245.8 L289.9,245.9 L290.4,246 L290.9,246.1 L291.4,246.2 L291.9,246.3 L292.4,246.4 L292.9,246.5 L293.4,246.6 L293.9,246.7 L294.4,246.8 L294.9,246.8 L295.4,246.9 L295.9,247 L296.4,247.1 L296.9,247.1 L297.4,247.2 L297.9,247.3 L298.4,247.3 L298.9,247.4 L299.4,247.5 L299.9,247.5 L300.4,247.6 L300.9,247.6 L301.4,247.7 L301.9,247.7 L302.4,247.8 L302.9,247.8 L303.4,247.9 L303.9,247.9 L304.4,248 L304.9,248 L305.4,248.1 L305.9,248.1 L306.4,248.2 L306.9,248.2 L307.4,248.2 L307.9,248.3 L308.4,248.3 L308.9,248.4 L309.4,248.4 L309.9,248.4 L310.4,248.5 L310.9,248.5 L311.4,248.5 L311.9,248.6 L312.4,248.6 L312.9,248.6 L313.4,248.7 L313.9,248.7 L314.4,248.7 L314.9,248.7 L315.4,248.8 L315.9,248.8 L316.4,248.8 L316.9,248.9 L317.4,248.9 L317.9,248.9 L318.4,248.9 L318.9,249 L319.4,249 L319.9,249 L320.4,249 L320.9,249 L321.4,249.1 L321.9,249.1 L322.4,249.1 L322.9,249.1 L323.4,249.2 L323.9,249.2 L324.4,249.2 L324.9,249.2 L325.4,249.2 L325.9,249.2 L326.4,249.3 L326.9,249.3 L327.4,249.3 L327.9,249.3 L328.4,249.3 L328.9,249.3 L329.4,249.4 L329.9,249.4 L330.4,249.4 L330.9,249.4 L331.4,249.4 L331.9,249.4 L332.4,249.5 L332.9,249.5 L333.4,249.5 L333.9,249.5 L334.4,249.5 L334.9,249.5 L335.4,249.5 L335.9,249.5 L336.4,249.6 L336.9,249.6 L337.4,249.6 L337.9,249.6 L338.4,249.6 L338.9,249.6 L339.4,249.6 L339.9,249.6 L340.4,249.6 L340.9,249.7 L341.4,249.7 L341.9,249.7 L342.4,249.7 L342.9,249.7 L343.4,249.7 L343.9,249.7 L344.4,249.7 L344.9,249.7 L345.4,249.7 L345.9,249.7 L346.4,249.7 L346.9,249.8 L347.4,249.8 L347.9,249.8 L348.4,249.8 L348.9,249.8 L349.4,249.8 L349.9,249.8 L350.4,249.8 L350.9,249.8 L351.4,249.8 L351.9,249.8 L352.4,249.8 L352.9,249.8 L353.4,249.8" fill="none" stroke="#ff0000" stroke-width="3" stroke-linejoin="round" stroke-linecap="butt" clip-path="url(#ca)"/>
<rect x="224.1" y="253.9" width="2.9" height="53" fill="#b00000"/>
<rect x="231.9" y="253.9" width="6" height="53" fill="#b00000"/>
<rect x="241" y="253.9" width="2.5" height="53" fill="#b00000"/>
<rect x="245.1" y="253.9" width="2.8" height="53" fill="#b00000"/>
<rect x="255.1" y="253.9" width="2.8" height="53" fill="#b00000"/>
<rect x="235.1" y="253.9" width="0.5" height="53" fill="#c43c3c"/>
<path d="M102.9,504.7 L103.4,504.7 L103.9,504.7 L104.4,504.7 L104.9,504.6 L105.4,504.6 L105.9,504.6 L106.4,504.5 L106.9,504.5 L107.4,504.4 L107.9,504.4 L108.4,504.3 L108.9,504.3 L109.4,504.2 L109.9,504.2 L110.4,504.1 L110.9,504 L111.4,504 L111.9,503.9 L112.4,503.8 L112.9,503.7 L113.4,503.7 L113.9,503.6 L114.4,503.5 L114.9,503.4 L115.4,503.4 L115.9,503.3 L116.4,503.2 L116.9,503.1 L117.4,503 L117.9,502.9 L118.4,502.8 L118.9,502.8 L119.4,502.7 L119.9,502.6 L120.4,502.5 L120.9,502.4 L121.4,502.3 L121.9,502.3 L122.4,502.2 L122.9,502.1 L123.4,502 L123.9,502 L124.4,501.9 L124.9,501.8 L125.4,501.7 L125.9,501.7 L126.4,501.6 L126.9,501.6 L127.4,501.5 L127.9,501.5 L128.4,501.5 L128.9,501.4 L129.4,501.4 L129.9,501.3 L130.4,501.3 L130.9,501.3 L131.4,501.2 L131.9,501.2 L132.4,501.1 L132.9,501.1 L133.4,501 L133.9,501 L134.4,500.9 L134.9,500.9 L135.4,500.9 L135.9,500.8 L136.4,500.8 L136.9,500.7 L137.4,500.7 L137.9,500.6 L138.4,500.6 L138.9,500.5 L139.4,500.5 L139.9,500.4 L140.4,500.3 L140.9,500.3 L141.4,500.2 L141.9,500.2 L142.4,500.1 L142.9,500.1 L143.4,500 L143.9,499.9 L144.4,499.9 L144.9,499.8 L145.4,499.7 L145.9,499.7 L146.4,499.6 L146.9,499.5 L147.4,499.5 L147.9,499.4 L148.4,499.3 L148.9,499.2 L149.4,499.2 L149.9,499.1 L150.4,499 L150.9,498.9 L151.4,498.8 L151.9,498.8 L152.4,498.7 L152.9,498.6 L153.4,498.5 L153.9,498.4 L154.4,498.3 L154.9,498.2 L155.4,498.1 L155.9,498 L156.4,497.9 L156.9,497.8 L157.4,497.7 L157.9,497.6 L158.4,497.5 L158.9,497.3 L159.4,497.2 L159.9,497.1 L160.4,497 L160.9,496.8 L161.4,496.7 L161.9,496.5 L162.4,496.4 L162.9,496.2 L163.4,496.1 L163.9,495.9 L164.4,495.7 L164.9,495.6 L165.4,495.4 L165.9,495.2 L166.4,495 L166.9,494.8 L167.4,494.6 L167.9,494.4 L168.4,494.2 L168.9,493.9 L169.4,493.7 L169.9,493.4 L170.4,493.2 L170.9,492.9 L171.4,492.6 L171.9,492.4 L172.4,492 L172.9,491.7 L173.4,491.4 L173.9,491.1 L174.4,490.7 L174.9,490.4 L175.4,490 L175.9,489.6 L176.4,489.2 L176.9,488.7 L177.4,488.3 L177.9,487.8 L178.4,487.3 L178.9,486.8 L179.4,486.3 L179.9,485.8 L180.4,485.2 L180.9,484.6 L181.4,484 L181.9,483.4 L182.4,482.7 L182.9,482.1 L183.4,481.4 L183.9,480.6 L184.4,479.9 L184.9,479.1 L185.4,478.3 L185.9,477.4 L186.4,476.5 L186.9,475.6 L187.4,474.7 L187.9,473.7 L188.4,472.7 L188.9,471.7 L189.4,470.6 L189.9,469.5 L190.4,468.3 L190.9,467.1 L191.4,465.9 L191.9,464.6 L192.4,463.3 L192.9,462 L193.4,460.6 L193.9,459.2 L194.4,457.7 L194.9,456.2 L195.4,454.7 L195.9,453.1 L196.4,451.5 L196.9,449.8 L197.4,448.1 L197.9,446.4 L198.4,444.6 L198.9,442.7 L199.4,440.9 L199.9,438.9 L200.4,437 L200.9,435 L201.4,432.9 L201.9,430.9 L202.4,428.7 L202.9,426.6 L203.4,424.4 L203.9,422.2 L204.4,419.9 L204.9,417.6 L205.4,415.3 L205.9,412.9 L206.4,410.5 L206.9,408.1 L207.4,405.7 L207.9,403.2 L208.4,400.7 L208.9,398.2 L209.4,395.7 L209.9,393.1 L210.4,390.6 L210.9,388 L211.4,385.4 L211.9,382.9 L212.4,380.3 L212.9,377.7 L213.4,375.1 L213.9,372.5 L214.4,370 L214.9,367.4 L215.4,364.9 L215.9,362.4 L216.4,359.9 L216.9,357.4 L217.4,355 L217.9,352.6 L218.4,350.3 L218.9,348 L219.4,345.8 L219.9,343.6 L220.4,341.5 L220.9,339.5 L221.4,337.5 L221.9,335.6 L222.4,333.8 L222.9,332.1 L223.4,330.4 L223.9,328.9 L224.4,327.5 L224.9,326.2 L225.4,325 L225.9,323.9 L226.4,322.9 L226.9,322 L227.4,321.3 L227.9,320.7 L228.4,320.2 L228.9,319.8 L229.4,319.6 L229.9,319.5 L230.4,319.6 L230.9,319.8 L231.4,320.3 L231.9,320.9 L232.4,321.7 L232.9,322.8 L233.4,324 L233.9,325.3 L234.4,326.9 L234.9,328.6 L235.4,330.4 L235.9,332.4 L236.4,334.6 L236.9,336.8 L237.4,339.2 L237.9,341.7 L238.4,344.3 L238.9,347 L239.4,349.8 L239.9,352.7 L240.4,355.6 L240.9,358.6 L241.4,361.6 L241.9,364.7 L242.4,367.8 L242.9,370.9 L243.4,374.1 L243.9,377.3 L244.4,380.5 L244.9,383.6 L245.4,386.8 L245.9,390 L246.4,393.2 L246.9,396.3 L247.4,399.5 L247.9,402.6 L248.4,405.6 L248.9,408.7 L249.4,411.7 L249.9,414.6 L250.4,417.5 L250.9,420.4 L251.4,423.2 L251.9,426 L252.4,428.7 L252.9,431.4 L253.4,434 L253.9,436.5 L254.4,439 L254.9,441.5 L255.4,443.8 L255.9,446.1 L256.4,448.4 L256.9,450.6 L257.4,452.7 L257.9,454.8 L258.4,456.8 L258.9,458.7 L259.4,460.6 L259.9,462.4 L260.4,464.2 L260.9,465.9 L261.4,467.6 L261.9,469.1 L262.4,470.7 L262.9,472.2 L263.4,473.6 L263.9,474.9 L264.4,476.3 L264.9,477.5 L265.4,478.7 L265.9,479.9 L266.4,481 L266.9,482.1 L267.4,483.1 L267.9,484.1 L268.4,485 L268.9,485.9 L269.4,486.8 L269.9,487.6 L270.4,488.4 L270.9,489.1 L271.4,489.8 L271.9,490.5 L272.4,491.1 L272.9,491.8 L273.4,492.3 L273.9,492.9 L274.4,493.4 L274.9,493.9 L275.4,494.4 L275.9,494.9 L276.4,495.4 L276.9,495.9 L277.4,496.6 L277.9,497.3 L278.4,498 L278.9,498.7 L279.4,499.5 L279.9,500.2 L280.4,500.9 L280.9,501.5 L281.4,502.1 L281.9,502.6 L282.4,503.1 L282.9,503.6 L283.4,503.9 L283.9,504.2 L284.4,504.5 L284.9,504.6 L284.9,504.8 L102.9,504.8 Z" fill="#d24675" stroke="none" clip-path="url(#ca)"/>
<path d="M43.9,503.5 L45.9,502.2 L47.9,502.9 L49.9,505.9 L51.9,503 L53.9,502.5 L55.9,504.2 L57.9,505.5 L59.9,501.9 L61.9,503.4 L63.9,502.8 L65.9,501.4 L67.9,504.5 L69.9,503.5 L71.9,503.6 L73.9,502.5 L75.9,504 L77.9,502.7 L79.9,503.1 L81.9,501.9 L83.9,501.7 L85.9,504.8 L87.9,502.5 L89.9,503.4 L91.9,502.9 L93.9,502.4 L95.9,502.2 L97.9,503.6 L99.9,502.3 L101.9,502.5 L103.9,502.6 L105.9,504 L107.9,503.2 L109.9,502.8 L111.9,501.5 L113.9,500.4 L115.9,503.2 L117.9,503.1 L119.9,501.6 L121.9,502.3 L123.9,502.5 L125.9,502.4 L127.9,502.4 L129.9,500.5 L131.9,502.8 L133.9,499.2 L135.9,501.7 L137.9,501 L139.9,501.3 L141.9,502.3 L143.9,501.6 L145.9,498.1 L147.9,497.1 L149.9,500 L151.9,497.4 L153.9,498.3 L155.9,498.9 L157.9,495.4 L159.9,494.3 L161.9,496.7 L163.9,495.8 L165.9,494.7 L167.9,494.2 L169.9,492 L171.9,490 L173.9,490.3 L175.9,487.7 L177.9,485.1 L179.9,485.7 L181.9,482.6 L183.9,480.5 L185.9,475.7 L187.9,472.7 L189.9,468.5 L191.9,464.3 L193.9,460.8 L195.9,454 L197.9,449.3 L199.9,442.4 L201.9,436.9 L203.9,424.4 L205.9,418.3 L207.9,407.7 L209.9,397.9 L211.9,385.9 L213.9,376.8 L215.9,368 L217.9,357 L219.9,347.8 L221.9,338.6 L223.9,332.8 L225.9,325.1 L227.9,317.8 L229.9,317.2 L231.9,315.6 L233.9,317.2 L235.9,326.8 L237.9,337.8 L239.9,346.6 L241.9,356.7 L243.9,369.4 L245.9,384.8 L247.9,396.2 L249.9,408.4 L251.9,420 L253.9,431.1 L255.9,442.2 L257.9,451 L259.9,458.7 L261.9,464.3 L263.9,472.5 L265.9,476.4 L267.9,483.1 L269.9,484 L271.9,488.6 L273.9,491.4 L275.9,492 L277.9,497.6 L279.9,498.7 L281.9,497.5 L283.9,500.1 L285.9,500.4 L287.9,497.3 L289.9,501.4 L291.9,501.5 L293.9,502.1 L295.9,501 L297.9,502.3 L299.9,502.7 L301.9,504.6 L303.9,503.7 L305.9,503.5 L307.9,505.5 L309.9,503.1 L311.9,503.4 L313.9,501.7 L315.9,506 L317.9,505.4 L319.9,505.4 L321.9,505.1 L323.9,504.5 L325.9,504.7 L327.9,504.1 L329.9,504.2 L331.9,504.6 L333.9,506.4 L335.9,505.3 L337.9,504.5 L339.9,503.9" fill="none" stroke="#000" stroke-width="4.3" stroke-linejoin="round" stroke-linecap="butt" clip-path="url(#ca)"/>
<path d="M43.9,503.9 L44.4,503.9 L44.9,503.9 L45.4,503.9 L45.9,503.9 L46.4,503.9 L46.9,503.9 L47.4,503.9 L47.9,503.8 L48.4,503.8 L48.9,503.8 L49.4,503.8 L49.9,503.8 L50.4,503.8 L50.9,503.8 L51.4,503.8 L51.9,503.8 L52.4,503.8 L52.9,503.8 L53.4,503.8 L53.9,503.8 L54.4,503.8 L54.9,503.7 L55.4,503.7 L55.9,503.7 L56.4,503.7 L56.9,503.7 L57.4,503.7 L57.9,503.7 L58.4,503.7 L58.9,503.7 L59.4,503.7 L59.9,503.7 L60.4,503.7 L60.9,503.7 L61.4,503.6 L61.9,503.6 L62.4,503.6 L62.9,503.6 L63.4,503.6 L63.9,503.6 L64.4,503.6 L64.9,503.6 L65.4,503.6 L65.9,503.6 L66.4,503.6 L66.9,503.5 L67.4,503.5 L67.9,503.5 L68.4,503.5 L68.9,503.5 L69.4,503.5 L69.9,503.5 L70.4,503.5 L70.9,503.5 L71.4,503.5 L71.9,503.4 L72.4,503.4 L72.9,503.4 L73.4,503.4 L73.9,503.4 L74.4,503.4 L74.9,503.4 L75.4,503.4 L75.9,503.4 L76.4,503.4 L76.9,503.3 L77.4,503.3 L77.9,503.3 L78.4,503.3 L78.9,503.3 L79.4,503.3 L79.9,503.3 L80.4,503.3 L80.9,503.2 L81.4,503.2 L81.9,503.2 L82.4,503.2 L82.9,503.2 L83.4,503.2 L83.9,503.2 L84.4,503.2 L84.9,503.1 L85.4,503.1 L85.9,503.1 L86.4,503.1 L86.9,503.1 L87.4,503.1 L87.9,503.1 L88.4,503 L88.9,503 L89.4,503 L89.9,503 L90.4,503 L90.9,503 L91.4,503 L91.9,502.9 L92.4,502.9 L92.9,502.9 L93.4,502.9 L93.9,502.9 L94.4,502.9 L94.9,502.9 L95.4,502.8 L95.9,502.8 L96.4,502.8 L96.9,502.8 L97.4,502.8 L97.9,502.7 L98.4,502.7 L98.9,502.7 L99.4,502.7 L99.9,502.7 L100.4,502.7 L100.9,502.6 L101.4,502.6 L101.9,502.6 L102.4,502.6 L102.9,502.6 L103.4,502.5 L103.9,502.5 L104.4,502.5 L104.9,502.5 L105.4,502.5 L105.9,502.4 L106.4,502.4 L106.9,502.4 L107.4,502.4 L107.9,502.4 L108.4,502.3 L108.9,502.3 L109.4,502.3 L109.9,502.3 L110.4,502.2 L110.9,502.2 L111.4,502.2 L111.9,502.2 L112.4,502.1 L112.9,502.1 L113.4,502.1 L113.9,502.1 L114.4,502 L114.9,502 L115.4,502 L115.9,502 L116.4,501.9 L116.9,501.9 L117.4,501.9 L117.9,501.8 L118.4,501.8 L118.9,501.8 L119.4,501.8 L119.9,501.7 L120.4,501.7 L120.9,501.7 L121.4,501.6 L121.9,501.6 L122.4,501.6 L122.9,501.5 L123.4,501.5 L123.9,501.5 L124.4,501.4 L124.9,501.4 L125.4,501.4 L125.9,501.3 L126.4,501.3 L126.9,501.3 L127.4,501.2 L127.9,501.2 L128.4,501.2 L128.9,501.1 L129.4,501.1 L129.9,501 L130.4,501 L130.9,501 L131.4,500.9 L131.9,500.9 L132.4,500.8 L132.9,500.8 L133.4,500.7 L133.9,500.7 L134.4,500.6 L134.9,500.6 L135.4,500.6 L135.9,500.5 L136.4,500.5 L136.9,500.4 L137.4,500.4 L137.9,500.3 L138.4,500.3 L138.9,500.2 L139.4,500.2 L139.9,500.1 L140.4,500 L140.9,500 L141.4,499.9 L141.9,499.9 L142.4,499.8 L142.9,499.8 L143.4,499.7 L143.9,499.6 L144.4,499.6 L144.9,499.5 L145.4,499.4 L145.9,499.4 L146.4,499.3 L146.9,499.2 L147.4,499.2 L147.9,499.1 L148.4,499 L148.9,498.9 L149.4,498.9 L149.9,498.8 L150.4,498.7 L150.9,498.6 L151.4,498.5 L151.9,498.5 L152.4,498.4 L152.9,498.3 L153.4,498.2 L153.9,498.1 L154.4,498 L154.9,497.9 L155.4,497.8 L155.9,497.7 L156.4,497.6 L156.9,497.5 L157.4,497.4 L157.9,497.3 L158.4,497.2 L158.9,497 L159.4,496.9 L159.9,496.8 L160.4,496.7 L160.9,496.5 L161.4,496.4 L161.9,496.2 L162.4,496.1 L162.9,495.9 L163.4,495.8 L163.9,495.6 L164.4,495.4 L164.9,495.3 L165.4,495.1 L165.9,494.9 L166.4,494.7 L166.9,494.5 L167.4,494.3 L167.9,494.1 L168.4,493.9 L168.9,493.6 L169.4,493.4 L169.9,493.1 L170.4,492.9 L170.9,492.6 L171.4,492.3 L171.9,492.1 L172.4,491.7 L172.9,491.4 L173.4,491.1 L173.9,490.8 L174.4,490.4 L174.9,490.1 L175.4,489.7 L175.9,489.3 L176.4,488.9 L176.9,488.4 L177.4,488 L177.9,487.5 L178.4,487 L178.9,486.5 L179.4,486 L179.9,485.5 L180.4,484.9 L180.9,484.3 L181.4,483.7 L181.9,483.1 L182.4,482.4 L182.9,481.8 L183.4,481.1 L183.9,480.3 L184.4,479.6 L184.9,478.8 L185.4,478 L185.9,477.1 L186.4,476.2 L186.9,475.3 L187.4,474.4 L187.9,473.4 L188.4,472.4 L188.9,471.4 L189.4,470.3 L189.9,469.2 L190.4,468 L190.9,466.8 L191.4,465.6 L191.9,464.3 L192.4,463 L192.9,461.7 L193.4,460.3 L193.9,458.9 L194.4,457.4 L194.9,455.9 L195.4,454.4 L195.9,452.8 L196.4,451.2 L196.9,449.5 L197.4,447.8 L197.9,446.1 L198.4,444.3 L198.9,442.4 L199.4,440.6 L199.9,438.6 L200.4,436.7 L200.9,434.7 L201.4,432.6 L201.9,430.6 L202.4,428.4 L202.9,426.3 L203.4,424.1 L203.9,421.9 L204.4,419.6 L204.9,417.3 L205.4,415 L205.9,412.6 L206.4,410.2 L206.9,407.8 L207.4,405.4 L207.9,402.9 L208.4,400.4 L208.9,397.9 L209.4,395.4 L209.9,392.8 L210.4,390.3 L210.9,387.7 L211.4,385.1 L211.9,382.6 L212.4,380 L212.9,377.4 L213.4,374.8 L213.9,372.2 L214.4,369.7 L214.9,367.1 L215.4,364.6 L215.9,362.1 L216.4,359.6 L216.9,357.1 L217.4,354.7 L217.9,352.3 L218.4,350 L218.9,347.7 L219.4,345.5 L219.9,343.3 L220.4,341.2 L220.9,339.2 L221.4,337.2 L221.9,335.3 L222.4,333.5 L222.9,331.8 L223.4,330.1 L223.9,328.6 L224.4,327.2 L224.9,325.9 L225.4,324.7 L225.9,323.6 L226.4,322.6 L226.9,321.7 L227.4,321 L227.9,320.4 L228.4,319.9 L228.9,319.5 L229.4,319.3 L229.9,319.2 L230.4,319.3 L230.9,319.5 L231.4,320 L231.9,320.6 L232.4,321.4 L232.9,322.5 L233.4,323.7 L233.9,325 L234.4,326.6 L234.9,328.3 L235.4,330.1 L235.9,332.1 L236.4,334.3 L236.9,336.5 L237.4,338.9 L237.9,341.4 L238.4,344 L238.9,346.7 L239.4,349.5 L239.9,352.4 L240.4,355.3 L240.9,358.3 L241.4,361.3 L241.9,364.4 L242.4,367.5 L242.9,370.6 L243.4,373.8 L243.9,377 L244.4,380.2 L244.9,383.3 L245.4,386.5 L245.9,389.7 L246.4,392.9 L246.9,396 L247.4,399.2 L247.9,402.3 L248.4,405.3 L248.9,408.4 L249.4,411.4 L249.9,414.3 L250.4,417.2 L250.9,420.1 L251.4,422.9 L251.9,425.7 L252.4,428.4 L252.9,431.1 L253.4,433.7 L253.9,436.2 L254.4,438.7 L254.9,441.2 L255.4,443.5 L255.9,445.8 L256.4,448.1 L256.9,450.3 L257.4,452.4 L257.9,454.5 L258.4,456.5 L258.9,458.4 L259.4,460.3 L259.9,462.1 L260.4,463.9 L260.9,465.6 L261.4,467.3 L261.9,468.8 L262.4,470.4 L262.9,471.9 L263.4,473.3 L263.9,474.6 L264.4,476 L264.9,477.2 L265.4,478.4 L265.9,479.6 L266.4,480.7 L266.9,481.8 L267.4,482.8 L267.9,483.8 L268.4,484.7 L268.9,485.6 L269.4,486.5 L269.9,487.3 L270.4,488.1 L270.9,488.8 L271.4,489.5 L271.9,490.2 L272.4,490.8 L272.9,491.5 L273.4,492 L273.9,492.6 L274.4,493.1 L274.9,493.6 L275.4,494.1 L275.9,494.6 L276.4,495 L276.9,495.4 L277.4,495.8 L277.9,496.2 L278.4,496.6 L278.9,496.9 L279.4,497.2 L279.9,497.5 L280.4,497.8 L280.9,498.1 L281.4,498.4 L281.9,498.6 L282.4,498.9 L282.9,499.1 L283.4,499.3 L283.9,499.5 L284.4,499.7 L284.9,499.9 L285.4,500.1 L285.9,500.3 L286.4,500.4 L286.9,500.6 L287.4,500.7 L287.9,500.9 L288.4,501 L288.9,501.1 L289.4,501.3 L289.9,501.4 L290.4,501.5 L290.9,501.6 L291.4,501.7 L291.9,501.8 L292.4,501.9 L292.9,502 L293.4,502.1 L293.9,502.2 L294.4,502.3 L294.9,502.3 L295.4,502.4 L295.9,502.5 L296.4,502.6 L296.9,502.6 L297.4,502.7 L297.9,502.8 L298.4,502.8 L298.9,502.9 L299.4,503 L299.9,503 L300.4,503.1 L300.9,503.1 L301.4,503.2 L301.9,503.2 L302.4,503.3 L302.9,503.3 L303.4,503.4 L303.9,503.4 L304.4,503.4 L304.9,503.5 L305.4,503.5 L305.9,503.6 L306.4,503.6 L306.9,503.6 L307.4,503.7 L307.9,503.7 L308.4,503.7 L308.9,503.8 L309.4,503.8 L309.9,503.8 L310.4,503.9 L310.9,503.9 L311.4,503.9 L311.9,503.9 L312.4,504 L312.9,504 L313.4,504 L313.9,504 L314.4,504.1 L314.9,504.1 L315.4,504.1 L315.9,504.1 L316.4,504.1 L316.9,504.2 L317.4,504.2 L317.9,504.2 L318.4,504.2 L318.9,504.2 L319.4,504.3 L319.9,504.3 L320.4,504.3 L320.9,504.3 L321.4,504.3 L321.9,504.3 L322.4,504.3 L322.9,504.4 L323.4,504.4 L323.9,504.4 L324.4,504.4 L324.9,504.4 L325.4,504.4 L325.9,504.4 L326.4,504.4 L326.9,504.5 L327.4,504.5 L327.9,504.5 L328.4,504.5 L328.9,504.5 L329.4,504.5 L329.9,504.5 L330.4,504.5 L330.9,504.5 L331.4,504.5 L331.9,504.5 L332.4,504.5 L332.9,504.6 L333.4,504.6 L333.9,504.6 L334.4,504.6 L334.9,504.6 L335.4,504.6 L335.9,504.6 L336.4,504.6 L336.9,504.6 L337.4,504.6 L337.9,504.6 L338.4,504.6 L338.9,504.6 L339.4,504.6 L339.9,504.6 L340.4,504.6 L340.9,504.6 L341.4,504.6 L341.9,504.6 L342.4,504.7 L342.9,504.7 L343.4,504.7 L343.9,504.7 L344.4,504.7 L344.9,504.7 L345.4,504.7 L345.9,504.7 L346.4,504.7 L346.9,504.7 L347.4,504.7 L347.9,504.7 L348.4,504.7 L348.9,504.7 L349.4,504.7 L349.9,504.7 L350.4,504.7 L350.9,504.7 L351.4,504.7 L351.9,504.7 L352.4,504.7 L352.9,504.7 L353.4,504.7 L353.9,504.7 L354.4,504.7 L354.9,504.7 L355.4,504.7 L355.9,504.7 L356.4,504.7 L356.9,504.7 L357.4,504.7 L357.9,504.7 L358.4,504.7 L358.9,504.7 L359.4,504.7 L359.9,504.7 L360.4,504.7" fill="none" stroke="#ff0000" stroke-width="3" stroke-linejoin="round" stroke-linecap="butt" clip-path="url(#ca)"/>
<rect x="222.1" y="508.6" width="15.1" height="53.1" fill="#b00000"/>
<rect x="238.6" y="508.6" width="6.7" height="53.1" fill="#b00000"/>
<rect x="248.2" y="508.6" width="2.5" height="53.1" fill="#b00000"/>
<rect x="237.2" y="508.6" width="1.4" height="53.1" fill="#cc5555"/>
<path d="M148.9,758.5 L149.4,758.5 L149.9,758.5 L150.4,758.5 L150.9,758.5 L151.4,758.5 L151.9,758.5 L152.4,758.5 L152.9,758.4 L153.4,758.4 L153.9,758.4 L154.4,758.4 L154.9,758.4 L155.4,758.4 L155.9,758.4 L156.4,758.4 L156.9,758.4 L157.4,758.4 L157.9,758.4 L158.4,758.4 L158.9,758.3 L159.4,758.3 L159.9,758.3 L160.4,758.3 L160.9,758.3 L161.4,758.3 L161.9,758.3 L162.4,758.3 L162.9,758.2 L163.4,758.2 L163.9,758.2 L164.4,758.2 L164.9,758.2 L165.4,758.2 L165.9,758.1 L166.4,758.1 L166.9,758.1 L167.4,758.1 L167.9,758 L168.4,758 L168.9,758 L169.4,758 L169.9,757.9 L170.4,757.9 L170.9,757.8 L171.4,757.8 L171.9,757.7 L172.4,757.7 L172.9,757.6 L173.4,757.6 L173.9,757.5 L174.4,757.4 L174.9,757.4 L175.4,757.3 L175.9,757.2 L176.4,757.1 L176.9,757 L177.4,756.9 L177.9,756.8 L178.4,756.6 L178.9,756.5 L179.4,756.3 L179.9,756.2 L180.4,756 L180.9,755.8 L181.4,755.6 L181.9,755.4 L182.4,755.1 L182.9,754.9 L183.4,754.6 L183.9,754.3 L184.4,753.9 L184.9,753.6 L185.4,753.2 L185.9,752.8 L186.4,752.4 L186.9,751.9 L187.4,751.5 L187.9,750.9 L188.4,750.4 L188.9,749.8 L189.4,749.1 L189.9,748.5 L190.4,747.8 L190.9,747 L191.4,746.2 L191.9,745.4 L192.4,744.5 L192.9,743.5 L193.4,742.5 L193.9,741.4 L194.4,740.3 L194.9,739.1 L195.4,737.9 L195.9,736.6 L196.4,735.3 L196.9,733.8 L197.4,732.3 L197.9,730.8 L198.4,729.1 L198.9,727.4 L199.4,725.6 L199.9,723.8 L200.4,721.9 L200.9,719.8 L201.4,717.8 L201.9,715.6 L202.4,713.4 L202.9,711.1 L203.4,708.7 L203.9,706.2 L204.4,703.7 L204.9,701.1 L205.4,698.4 L205.9,695.7 L206.4,692.9 L206.9,690 L207.4,687.1 L207.9,684.1 L208.4,681 L208.9,677.9 L209.4,674.7 L209.9,671.5 L210.4,668.2 L210.9,664.9 L211.4,661.6 L211.9,658.2 L212.4,654.9 L212.9,651.5 L213.4,648 L213.9,644.6 L214.4,641.2 L214.9,637.8 L215.4,634.4 L215.9,631 L216.4,627.6 L216.9,624.3 L217.4,621 L217.9,617.8 L218.4,614.6 L218.9,611.5 L219.4,608.4 L219.9,605.5 L220.4,602.6 L220.9,599.8 L221.4,597.1 L221.9,594.5 L222.4,592 L222.9,589.7 L223.4,587.4 L223.9,585.3 L224.4,583.4 L224.9,581.5 L225.4,579.9 L225.9,578.4 L226.4,577 L226.9,575.8 L227.4,574.8 L227.9,573.9 L228.4,573.2 L228.9,572.7 L229.4,572.4 L229.9,572.2 L230.4,572.2 L230.9,572.5 L231.4,572.9 L231.9,573.6 L232.4,574.4 L232.9,575.5 L233.4,576.8 L233.9,578.2 L234.4,579.9 L234.9,581.7 L235.4,583.7 L235.9,585.9 L236.4,588.2 L236.9,590.7 L237.4,593.3 L237.9,596 L238.4,598.9 L238.9,601.9 L239.4,605 L239.9,608.2 L240.4,611.5 L240.9,614.8 L241.4,618.3 L241.9,621.7 L242.4,625.3 L242.9,628.8 L243.4,632.4 L243.9,636.1 L244.4,639.7 L244.9,643.3 L245.4,647 L245.9,650.6 L246.4,654.2 L246.9,657.8 L247.4,661.4 L247.9,664.9 L248.4,668.4 L248.9,671.8 L249.4,675.2 L249.9,678.5 L250.4,681.8 L250.9,685 L251.4,688.1 L251.9,691.2 L252.4,694.2 L252.9,697.1 L253.4,699.9 L253.9,702.6 L254.4,705.3 L254.9,707.9 L255.4,710.4 L255.9,712.8 L256.4,715.1 L256.9,717.3 L257.4,719.5 L257.9,721.5 L258.4,723.5 L258.9,725.4 L259.4,727.2 L259.9,729 L260.4,730.6 L260.9,732.2 L261.4,733.7 L261.9,735.2 L262.4,736.5 L262.9,737.8 L263.4,739 L263.9,740.2 L264.4,741.3 L264.9,742.3 L265.4,743.3 L265.9,744.2 L266.4,745.1 L266.9,745.9 L267.4,746.7 L267.9,747.4 L268.4,748.1 L268.9,748.7 L269.4,749.3 L269.9,749.9 L270.4,750.4 L270.9,750.9 L271.4,751.3 L271.9,751.8 L272.4,752.2 L272.9,752.5 L273.4,752.9 L273.9,753.2 L274.4,753.5 L274.9,753.8 L275.4,754 L275.9,754.3 L276.4,754.5 L276.9,754.7 L277.4,754.9 L277.9,755.1 L278.4,755.2 L278.9,755.4 L279.4,755.5 L279.9,755.7 L280.4,755.8 L280.9,755.9 L281.4,756 L281.9,756.1 L282.4,756.2 L282.9,756.3 L283.4,756.4 L283.9,756.5 L283.9,759 L148.9,759 Z" fill="#d24675" stroke="none" clip-path="url(#ca)"/>
<path d="M141.4,757.5 L141.9,757.5 L142.4,757.5 L142.9,757.4 L143.4,757.4 L143.9,757.4 L144.4,757.4 L144.9,757.4 L145.4,757.3 L145.9,757.3 L146.4,757.3 L146.9,757.3 L147.4,757.2 L147.9,757.2 L148.4,757.2 L148.9,757.1 L149.4,757.1 L149.9,757 L150.4,757 L150.9,756.9 L151.4,756.8 L151.9,756.8 L152.4,756.7 L152.9,756.6 L153.4,756.5 L153.9,756.4 L154.4,756.3 L154.9,756.2 L155.4,756.1 L155.9,756 L156.4,755.8 L156.9,755.7 L157.4,755.6 L157.9,755.4 L158.4,755.2 L158.9,755 L159.4,754.8 L159.9,754.6 L160.4,754.4 L160.9,754.2 L161.4,754 L161.9,753.7 L162.4,753.5 L162.9,753.2 L163.4,752.9 L163.9,752.6 L164.4,752.3 L164.9,751.9 L165.4,751.6 L165.9,751.2 L166.4,750.9 L166.9,750.5 L167.4,750.1 L167.9,749.7 L168.4,749.3 L168.9,748.9 L169.4,748.4 L169.9,748 L170.4,747.5 L170.9,747.1 L171.4,746.6 L171.9,746.1 L172.4,745.6 L172.9,745.1 L173.4,744.7 L173.9,744.2 L174.4,743.7 L174.9,743.2 L175.4,742.7 L175.9,742.2 L176.4,741.7 L176.9,741.2 L177.4,740.8 L177.9,740.3 L178.4,739.8 L178.9,739.4 L179.4,739 L179.9,738.6 L180.4,738.2 L180.9,737.8 L181.4,737.4 L181.9,737.1 L182.4,736.8 L182.9,736.5 L183.4,736.2 L183.9,736 L184.4,735.8 L184.9,735.6 L185.4,735.5 L185.9,735.4 L186.4,735.3 L186.9,735.2 L187.4,735.2 L187.9,735.2 L188.4,735.2 L188.9,735.3 L189.4,735.4 L189.9,735.5 L190.4,735.7 L190.9,735.9 L191.4,736.1 L191.9,736.3 L192.4,736.6 L192.9,736.9 L193.4,737.2 L193.9,737.5 L194.4,737.9 L194.9,738.2 L195.4,738.6 L195.9,739 L196.4,739.4 L196.9,739.9 L197.4,740.3 L197.9,740.7 L198.4,741.2 L198.9,741.7 L199.4,742.1 L199.9,742.6 L200.4,743.1 L200.9,743.6 L201.4,744 L201.9,744.5 L202.4,745 L202.9,745.5 L203.4,745.9 L203.9,746.4 L204.4,746.9 L204.9,747.3 L205.4,747.8 L205.9,748.2 L206.4,748.6 L206.9,749 L207.4,749.5 L207.9,749.9 L208.4,750.2 L208.9,750.6 L209.4,751 L209.9,751.3 L210.4,751.7 L210.9,752 L211.4,752.3 L211.9,752.6 L212.4,752.9 L212.9,753.2 L213.4,753.5 L213.9,753.7 L214.4,754 L214.9,754.2 L215.4,754.4 L215.9,754.6 L216.4,754.8 L216.9,755 L217.4,755.2 L217.9,755.4 L218.4,755.5 L218.9,755.7 L219.4,755.8 L219.9,755.9 L220.4,756.1 L220.9,756.2 L221.4,756.3 L221.9,756.4 L222.4,756.5 L222.9,756.6 L223.4,756.6 L223.9,756.7 L224.4,756.8 L224.9,756.9 L225.4,756.9 L225.9,757 L226.4,757 L226.9,757.1 L227.4,757.1 L227.9,757.2 L228.4,757.2 L228.9,757.2 L229.4,757.3 L229.9,757.3 L230.4,757.3 L230.9,757.3 L231.4,757.4 L231.9,757.4 L232.4,757.4 L232.9,757.4 L233.4,757.4 L233.9,757.5 L234.4,757.5 L234.9,757.5 L234.9,757.8 L141.4,757.8 Z" fill="#a033f5" stroke="none" clip-path="url(#ca)"/>
<g clip-path="url(#ov3)">
<path d="M141.4,757.5 L141.9,757.5 L142.4,757.5 L142.9,757.4 L143.4,757.4 L143.9,757.4 L144.4,757.4 L144.9,757.4 L145.4,757.3 L145.9,757.3 L146.4,757.3 L146.9,757.3 L147.4,757.2 L147.9,757.2 L148.4,757.2 L148.9,757.1 L149.4,757.1 L149.9,757 L150.4,757 L150.9,756.9 L151.4,756.8 L151.9,756.8 L152.4,756.7 L152.9,756.6 L153.4,756.5 L153.9,756.4 L154.4,756.3 L154.9,756.2 L155.4,756.1 L155.9,756 L156.4,755.8 L156.9,755.7 L157.4,755.6 L157.9,755.4 L158.4,755.2 L158.9,755 L159.4,754.8 L159.9,754.6 L160.4,754.4 L160.9,754.2 L161.4,754 L161.9,753.7 L162.4,753.5 L162.9,753.2 L163.4,752.9 L163.9,752.6 L164.4,752.3 L164.9,751.9 L165.4,751.6 L165.9,751.2 L166.4,750.9 L166.9,750.5 L167.4,750.1 L167.9,749.7 L168.4,749.3 L168.9,748.9 L169.4,748.4 L169.9,748 L170.4,747.5 L170.9,747.1 L171.4,746.6 L171.9,746.1 L172.4,745.6 L172.9,745.1 L173.4,744.7 L173.9,744.2 L174.4,743.7 L174.9,743.2 L175.4,742.7 L175.9,742.2 L176.4,741.7 L176.9,741.2 L177.4,740.8 L177.9,740.3 L178.4,739.8 L178.9,739.4 L179.4,739 L179.9,738.6 L180.4,738.2 L180.9,737.8 L181.4,737.4 L181.9,737.1 L182.4,736.8 L182.9,736.5 L183.4,736.2 L183.9,736 L184.4,735.8 L184.9,735.6 L185.4,735.5 L185.9,735.4 L186.4,735.3 L186.9,735.2 L187.4,735.2 L187.9,735.2 L188.4,735.2 L188.9,735.3 L189.4,735.4 L189.9,735.5 L190.4,735.7 L190.9,735.9 L191.4,736.1 L191.9,736.3 L192.4,736.6 L192.9,736.9 L193.4,737.2 L193.9,737.5 L194.4,737.9 L194.9,738.2 L195.4,738.6 L195.9,739 L196.4,739.4 L196.9,739.9 L197.4,740.3 L197.9,740.7 L198.4,741.2 L198.9,741.7 L199.4,742.1 L199.9,742.6 L200.4,743.1 L200.9,743.6 L201.4,744 L201.9,744.5 L202.4,745 L202.9,745.5 L203.4,745.9 L203.9,746.4 L204.4,746.9 L204.9,747.3 L205.4,747.8 L205.9,748.2 L206.4,748.6 L206.9,749 L207.4,749.5 L207.9,749.9 L208.4,750.2 L208.9,750.6 L209.4,751 L209.9,751.3 L210.4,751.7 L210.9,752 L211.4,752.3 L211.9,752.6 L212.4,752.9 L212.9,753.2 L213.4,753.5 L213.9,753.7 L214.4,754 L214.9,754.2 L215.4,754.4 L215.9,754.6 L216.4,754.8 L216.9,755 L217.4,755.2 L217.9,755.4 L218.4,755.5 L218.9,755.7 L219.4,755.8 L219.9,755.9 L220.4,756.1 L220.9,756.2 L221.4,756.3 L221.9,756.4 L222.4,756.5 L222.9,756.6 L223.4,756.6 L223.9,756.7 L224.4,756.8 L224.9,756.9 L225.4,756.9 L225.9,757 L226.4,757 L226.9,757.1 L227.4,757.1 L227.9,757.2 L228.4,757.2 L228.9,757.2 L229.4,757.3 L229.9,757.3 L230.4,757.3 L230.9,757.3 L231.4,757.4 L231.9,757.4 L232.4,757.4 L232.9,757.4 L233.4,757.4 L233.9,757.5 L234.4,757.5 L234.9,757.5 L234.9,757.8 L141.4,757.8 Z" fill="#8a10d8" stroke="none" clip-path="url(#ca)"/>
</g>
<path d="M112.9,758.7 L113.4,758.7 L113.9,758.7 L114.4,758.7 L114.9,758.6 L115.4,758.6 L115.9,758.6 L116.4,758.6 L116.9,758.6 L117.4,758.5 L117.9,758.5 L118.4,758.5 L118.9,758.5 L119.4,758.4 L119.9,758.4 L120.4,758.4 L120.9,758.3 L121.4,758.3 L121.9,758.2 L122.4,758.2 L122.9,758.1 L123.4,758.1 L123.9,758 L124.4,757.9 L124.9,757.9 L125.4,757.8 L125.9,757.7 L126.4,757.6 L126.9,757.5 L127.4,757.4 L127.9,757.3 L128.4,757.2 L128.9,757.1 L129.4,756.9 L129.9,756.8 L130.4,756.6 L130.9,756.5 L131.4,756.3 L131.9,756.1 L132.4,755.9 L132.9,755.7 L133.4,755.5 L133.9,755.3 L134.4,755.1 L134.9,754.8 L135.4,754.6 L135.9,754.3 L136.4,754 L136.9,753.8 L137.4,753.5 L137.9,753.1 L138.4,752.8 L138.9,752.5 L139.4,752.1 L139.9,751.8 L140.4,751.4 L140.9,751 L141.4,750.6 L141.9,750.2 L142.4,749.8 L142.9,749.4 L143.4,749 L143.9,748.5 L144.4,748.1 L144.9,747.6 L145.4,747.2 L145.9,746.7 L146.4,746.2 L146.9,745.8 L147.4,745.3 L147.9,744.8 L148.4,744.3 L148.9,743.8 L149.4,743.4 L149.9,742.9 L150.4,742.4 L150.9,741.9 L151.4,741.5 L151.9,741 L152.4,740.6 L152.9,740.2 L153.4,739.7 L153.9,739.3 L154.4,739 L154.9,738.6 L155.4,738.2 L155.9,737.9 L156.4,737.6 L156.9,737.3 L157.4,737 L157.9,736.7 L158.4,736.5 L158.9,736.3 L159.4,736.2 L159.9,736 L160.4,735.9 L160.9,735.8 L161.4,735.7 L161.9,735.7 L162.4,735.7 L162.9,735.7 L163.4,735.8 L163.9,735.9 L164.4,736 L164.9,736.1 L165.4,736.3 L165.9,736.4 L166.4,736.6 L166.9,736.9 L167.4,737.1 L167.9,737.4 L168.4,737.7 L168.9,738 L169.4,738.4 L169.9,738.7 L170.4,739.1 L170.9,739.5 L171.4,739.9 L171.9,740.3 L172.4,740.7 L172.9,741.1 L173.4,741.6 L173.9,742 L174.4,742.5 L174.9,742.9 L175.4,743.4 L175.9,743.8 L176.4,744.3 L176.9,744.8 L177.4,745.2 L177.9,745.7 L178.4,746.2 L178.9,746.6 L179.4,747.1 L179.9,747.5 L180.4,748 L180.9,748.4 L181.4,748.8 L181.9,749.3 L182.4,749.7 L182.9,750.1 L183.4,750.5 L183.9,750.9 L184.4,751.2 L184.9,751.6 L185.4,752 L185.9,752.3 L186.4,752.6 L186.9,753 L187.4,753.3 L187.9,753.6 L188.4,753.8 L188.9,754.1 L189.4,754.4 L189.9,754.6 L190.4,754.9 L190.9,755.1 L191.4,755.3 L191.9,755.6 L192.4,755.8 L192.9,755.9 L193.4,756.1 L193.9,756.3 L194.4,756.5 L194.9,756.6 L195.4,756.8 L195.9,756.9 L196.4,757 L196.9,757.2 L197.4,757.3 L197.9,757.4 L198.4,757.5 L198.9,757.6 L199.4,757.7 L199.9,757.7 L200.4,757.8 L200.9,757.9 L201.4,758 L201.9,758 L202.4,758.1 L202.9,758.1 L203.4,758.2 L203.9,758.2 L204.4,758.3 L204.9,758.3 L205.4,758.4 L205.9,758.4 L206.4,758.4 L206.9,758.5 L207.4,758.5 L207.9,758.5 L208.4,758.5 L208.9,758.6 L209.4,758.6 L209.9,758.6 L210.4,758.6 L210.9,758.6 L211.4,758.7 L211.9,758.7 L212.4,758.7 L212.9,758.7 L212.9,759 L112.9,759 Z" fill="#f97af3" stroke="none" clip-path="url(#ca)"/>
<g clip-path="url(#ov3b)">
<path d="M112.9,758.7 L113.4,758.7 L113.9,758.7 L114.4,758.7 L114.9,758.6 L115.4,758.6 L115.9,758.6 L116.4,758.6 L116.9,758.6 L117.4,758.5 L117.9,758.5 L118.4,758.5 L118.9,758.5 L119.4,758.4 L119.9,758.4 L120.4,758.4 L120.9,758.3 L121.4,758.3 L121.9,758.2 L122.4,758.2 L122.9,758.1 L123.4,758.1 L123.9,758 L124.4,757.9 L124.9,757.9 L125.4,757.8 L125.9,757.7 L126.4,757.6 L126.9,757.5 L127.4,757.4 L127.9,757.3 L128.4,757.2 L128.9,757.1 L129.4,756.9 L129.9,756.8 L130.4,756.6 L130.9,756.5 L131.4,756.3 L131.9,756.1 L132.4,755.9 L132.9,755.7 L133.4,755.5 L133.9,755.3 L134.4,755.1 L134.9,754.8 L135.4,754.6 L135.9,754.3 L136.4,754 L136.9,753.8 L137.4,753.5 L137.9,753.1 L138.4,752.8 L138.9,752.5 L139.4,752.1 L139.9,751.8 L140.4,751.4 L140.9,751 L141.4,750.6 L141.9,750.2 L142.4,749.8 L142.9,749.4 L143.4,749 L143.9,748.5 L144.4,748.1 L144.9,747.6 L145.4,747.2 L145.9,746.7 L146.4,746.2 L146.9,745.8 L147.4,745.3 L147.9,744.8 L148.4,744.3 L148.9,743.8 L149.4,743.4 L149.9,742.9 L150.4,742.4 L150.9,741.9 L151.4,741.5 L151.9,741 L152.4,740.6 L152.9,740.2 L153.4,739.7 L153.9,739.3 L154.4,739 L154.9,738.6 L155.4,738.2 L155.9,737.9 L156.4,737.6 L156.9,737.3 L157.4,737 L157.9,736.7 L158.4,736.5 L158.9,736.3 L159.4,736.2 L159.9,736 L160.4,735.9 L160.9,735.8 L161.4,735.7 L161.9,735.7 L162.4,735.7 L162.9,735.7 L163.4,735.8 L163.9,735.9 L164.4,736 L164.9,736.1 L165.4,736.3 L165.9,736.4 L166.4,736.6 L166.9,736.9 L167.4,737.1 L167.9,737.4 L168.4,737.7 L168.9,738 L169.4,738.4 L169.9,738.7 L170.4,739.1 L170.9,739.5 L171.4,739.9 L171.9,740.3 L172.4,740.7 L172.9,741.1 L173.4,741.6 L173.9,742 L174.4,742.5 L174.9,742.9 L175.4,743.4 L175.9,743.8 L176.4,744.3 L176.9,744.8 L177.4,745.2 L177.9,745.7 L178.4,746.2 L178.9,746.6 L179.4,747.1 L179.9,747.5 L180.4,748 L180.9,748.4 L181.4,748.8 L181.9,749.3 L182.4,749.7 L182.9,750.1 L183.4,750.5 L183.9,750.9 L184.4,751.2 L184.9,751.6 L185.4,752 L185.9,752.3 L186.4,752.6 L186.9,753 L187.4,753.3 L187.9,753.6 L188.4,753.8 L188.9,754.1 L189.4,754.4 L189.9,754.6 L190.4,754.9 L190.9,755.1 L191.4,755.3 L191.9,755.6 L192.4,755.8 L192.9,755.9 L193.4,756.1 L193.9,756.3 L194.4,756.5 L194.9,756.6 L195.4,756.8 L195.9,756.9 L196.4,757 L196.9,757.2 L197.4,757.3 L197.9,757.4 L198.4,757.5 L198.9,757.6 L199.4,757.7 L199.9,757.7 L200.4,757.8 L200.9,757.9 L201.4,758 L201.9,758 L202.4,758.1 L202.9,758.1 L203.4,758.2 L203.9,758.2 L204.4,758.3 L204.9,758.3 L205.4,758.4 L205.9,758.4 L206.4,758.4 L206.9,758.5 L207.4,758.5 L207.9,758.5 L208.4,758.5 L208.9,758.6 L209.4,758.6 L209.9,758.6 L210.4,758.6 L210.9,758.6 L211.4,758.7 L211.9,758.7 L212.4,758.7 L212.9,758.7 L212.9,759 L112.9,759 Z" fill="#e050e8" stroke="none" clip-path="url(#ca)"/>
</g>
<path d="M43.9,758.6 L45.9,761.4 L47.9,760 L49.9,759.4 L51.9,758.9 L53.9,757.9 L55.9,759.2 L57.9,760.4 L59.9,758.8 L61.9,759 L63.9,759 L65.9,759.4 L67.9,757.2 L69.9,758.9 L71.9,758.1 L73.9,760.2 L75.9,758.1 L77.9,759.8 L79.9,760.9 L81.9,758.6 L83.9,758.2 L85.9,759.1 L87.9,758.8 L89.9,757.5 L91.9,759.2 L93.9,761.1 L95.9,758.2 L97.9,758.1 L99.9,756.9 L101.9,758.5 L103.9,756.4 L105.9,756.4 L107.9,759.2 L109.9,756.3 L111.9,758.6 L113.9,758.9 L115.9,757 L117.9,757.1 L119.9,758.4 L121.9,755.3 L123.9,754.4 L125.9,752.9 L127.9,754 L129.9,755 L131.9,753.4 L133.9,750 L135.9,748.8 L137.9,747.8 L139.9,747.2 L141.9,744.7 L143.9,743.2 L145.9,741.2 L147.9,738.1 L149.9,736.1 L151.9,734.1 L153.9,731.5 L155.9,730.2 L157.9,730.1 L159.9,727.1 L161.9,725.3 L163.9,722.4 L165.9,724.7 L167.9,721.8 L169.9,722.6 L171.9,725.4 L173.9,725.1 L175.9,723.5 L177.9,720.9 L179.9,721.9 L181.9,720.9 L183.9,721.9 L185.9,723.5 L187.9,720.5 L189.9,718.8 L191.9,717.7 L193.9,717.9 L195.9,715.9 L197.9,711.8 L199.9,709.2 L201.9,702 L203.9,697.8 L205.9,689.1 L207.9,679.1 L209.9,665.8 L211.9,654.8 L213.9,641.1 L215.9,627.7 L217.9,615 L219.9,601.7 L221.9,590.8 L223.9,584.5 L225.9,576.5 L227.9,572.6 L229.9,572 L231.9,570 L233.9,575.9 L235.9,584.8 L237.9,595.3 L239.9,606.5 L241.9,621.8 L243.9,635.2 L245.9,648 L247.9,662.6 L249.9,678.5 L251.9,690.7 L253.9,699.3 L255.9,713.5 L257.9,721.3 L259.9,729.7 L261.9,733.8 L263.9,739 L265.9,742 L267.9,749.8 L269.9,748.9 L271.9,753 L273.9,751.6 L275.9,753.7 L277.9,752.2 L279.9,754.5 L281.9,756.6 L283.9,754.2 L285.9,757.4 L287.9,756.7 L289.9,755.1 L291.9,756 L293.9,756.1 L295.9,756.8 L297.9,756.3 L299.9,756 L301.9,756.7 L303.9,755.9 L305.9,755.6 L307.9,757.3 L309.9,758.5 L311.9,755.5 L313.9,757.5 L315.9,756.7 L317.9,756.4 L319.9,758.7 L321.9,757 L323.9,759.6 L325.9,756.8 L327.9,758.3 L329.9,757.5 L331.9,756.9 L333.9,758.6 L335.9,757.7 L337.9,758.7 L339.9,757.9 L341.9,756.6 L343.9,757.9 L345.9,758.1 L347.9,759.2 L349.9,756.9" fill="none" stroke="#000" stroke-width="4.3" stroke-linejoin="round" stroke-linecap="butt" clip-path="url(#ca)"/>
<path d="M43.9,759.4 L44.4,759.4 L44.9,759.4 L45.4,759.4 L45.9,759.4 L46.4,759.4 L46.9,759.4 L47.4,759.4 L47.9,759.4 L48.4,759.4 L48.9,759.3 L49.4,759.3 L49.9,759.3 L50.4,759.3 L50.9,759.3 L51.4,759.3 L51.9,759.3 L52.4,759.3 L52.9,759.3 L53.4,759.3 L53.9,759.3 L54.4,759.3 L54.9,759.3 L55.4,759.3 L55.9,759.3 L56.4,759.3 L56.9,759.3 L57.4,759.3 L57.9,759.3 L58.4,759.3 L58.9,759.3 L59.4,759.3 L59.9,759.3 L60.4,759.3 L60.9,759.3 L61.4,759.3 L61.9,759.3 L62.4,759.3 L62.9,759.3 L63.4,759.3 L63.9,759.3 L64.4,759.2 L64.9,759.2 L65.4,759.2 L65.9,759.2 L66.4,759.2 L66.9,759.2 L67.4,759.2 L67.9,759.2 L68.4,759.2 L68.9,759.2 L69.4,759.2 L69.9,759.2 L70.4,759.2 L70.9,759.2 L71.4,759.2 L71.9,759.2 L72.4,759.2 L72.9,759.1 L73.4,759.1 L73.9,759.1 L74.4,759.1 L74.9,759.1 L75.4,759.1 L75.9,759.1 L76.4,759.1 L76.9,759.1 L77.4,759.1 L77.9,759.1 L78.4,759.1 L78.9,759 L79.4,759 L79.9,759 L80.4,759 L80.9,759 L81.4,759 L81.9,759 L82.4,759 L82.9,759 L83.4,758.9 L83.9,758.9 L84.4,758.9 L84.9,758.9 L85.4,758.9 L85.9,758.9 L86.4,758.9 L86.9,758.8 L87.4,758.8 L87.9,758.8 L88.4,758.8 L88.9,758.8 L89.4,758.8 L89.9,758.7 L90.4,758.7 L90.9,758.7 L91.4,758.7 L91.9,758.7 L92.4,758.6 L92.9,758.6 L93.4,758.6 L93.9,758.6 L94.4,758.6 L94.9,758.5 L95.4,758.5 L95.9,758.5 L96.4,758.5 L96.9,758.4 L97.4,758.4 L97.9,758.4 L98.4,758.3 L98.9,758.3 L99.4,758.3 L99.9,758.3 L100.4,758.2 L100.9,758.2 L101.4,758.2 L101.9,758.1 L102.4,758.1 L102.9,758 L103.4,758 L103.9,758 L104.4,757.9 L104.9,757.9 L105.4,757.9 L105.9,757.8 L106.4,757.8 L106.9,757.7 L107.4,757.7 L107.9,757.6 L108.4,757.6 L108.9,757.5 L109.4,757.5 L109.9,757.4 L110.4,757.4 L110.9,757.3 L111.4,757.3 L111.9,757.2 L112.4,757.1 L112.9,757.1 L113.4,757 L113.9,757 L114.4,756.9 L114.9,756.8 L115.4,756.7 L115.9,756.7 L116.4,756.6 L116.9,756.5 L117.4,756.4 L117.9,756.4 L118.4,756.3 L118.9,756.2 L119.4,756.1 L119.9,756 L120.4,755.9 L120.9,755.8 L121.4,755.7 L121.9,755.6 L122.4,755.5 L122.9,755.4 L123.4,755.2 L123.9,755.1 L124.4,755 L124.9,754.9 L125.4,754.7 L125.9,754.6 L126.4,754.4 L126.9,754.3 L127.4,754.1 L127.9,753.9 L128.4,753.7 L128.9,753.5 L129.4,753.3 L129.9,753.1 L130.4,752.9 L130.9,752.7 L131.4,752.5 L131.9,752.2 L132.4,752 L132.9,751.7 L133.4,751.4 L133.9,751.2 L134.4,750.9 L134.9,750.6 L135.4,750.2 L135.9,749.9 L136.4,749.6 L136.9,749.2 L137.4,748.9 L137.9,748.5 L138.4,748.1 L138.9,747.7 L139.4,747.3 L139.9,746.8 L140.4,746.4 L140.9,745.9 L141.4,745.5 L141.9,745 L142.4,744.5 L142.9,744 L143.4,743.5 L143.9,743 L144.4,742.4 L144.9,741.9 L145.4,741.3 L145.9,740.8 L146.4,740.2 L146.9,739.6 L147.4,739.1 L147.9,738.5 L148.4,737.9 L148.9,737.3 L149.4,736.7 L149.9,736.1 L150.4,735.6 L150.9,735 L151.4,734.4 L151.9,733.8 L152.4,733.2 L152.9,732.7 L153.4,732.1 L153.9,731.6 L154.4,731.1 L154.9,730.5 L155.4,730 L155.9,729.5 L156.4,729.1 L156.9,728.6 L157.4,728.2 L157.9,727.8 L158.4,727.4 L158.9,727 L159.4,726.6 L159.9,726.3 L160.4,726 L160.9,725.7 L161.4,725.5 L161.9,725.2 L162.4,725 L162.9,724.8 L163.4,724.7 L163.9,724.5 L164.4,724.4 L164.9,724.4 L165.4,724.3 L165.9,724.3 L166.4,724.2 L166.9,724.2 L167.4,724.2 L167.9,724.3 L168.4,724.3 L168.9,724.3 L169.4,724.3 L169.9,724.3 L170.4,724.4 L170.9,724.4 L171.4,724.4 L171.9,724.4 L172.4,724.3 L172.9,724.3 L173.4,724.2 L173.9,724.2 L174.4,724.1 L174.9,724 L175.4,723.8 L175.9,723.7 L176.4,723.5 L176.9,723.4 L177.4,723.2 L177.9,723 L178.4,722.9 L178.9,722.7 L179.4,722.5 L179.9,722.4 L180.4,722.2 L180.9,722 L181.4,721.9 L181.9,721.7 L182.4,721.6 L182.9,721.4 L183.4,721.3 L183.9,721.1 L184.4,721 L184.9,720.9 L185.4,720.8 L185.9,720.6 L186.4,720.5 L186.9,720.4 L187.4,720.3 L187.9,720.2 L188.4,720.1 L188.9,720 L189.4,719.9 L189.9,719.8 L190.4,719.6 L190.9,719.5 L191.4,719.3 L191.9,719.1 L192.4,718.9 L192.9,718.6 L193.4,718.3 L193.9,718 L194.4,717.6 L194.9,717.2 L195.4,716.7 L195.9,716.1 L196.4,715.5 L196.9,714.8 L197.4,714.1 L197.9,713.2 L198.4,712.3 L198.9,711.3 L199.4,710.2 L199.9,709.1 L200.4,707.8 L200.9,706.5 L201.4,705 L201.9,703.5 L202.4,701.9 L202.9,700.1 L203.4,698.3 L203.9,696.4 L204.4,694.4 L204.9,692.3 L205.4,690.1 L205.9,687.8 L206.4,685.4 L206.9,682.9 L207.4,680.4 L207.9,677.7 L208.4,675 L208.9,672.2 L209.4,669.4 L209.9,666.4 L210.4,663.4 L210.9,660.4 L211.4,657.3 L211.9,654.2 L212.4,651 L212.9,647.8 L213.4,644.5 L213.9,641.3 L214.4,638 L214.9,634.7 L215.4,631.5 L215.9,628.2 L216.4,625 L216.9,621.7 L217.4,618.5 L217.9,615.4 L218.4,612.3 L218.9,609.2 L219.4,606.3 L219.9,603.4 L220.4,600.5 L220.9,597.8 L221.4,595.1 L221.9,592.6 L222.4,590.1 L222.9,587.8 L223.4,585.6 L223.9,583.6 L224.4,581.6 L224.9,579.8 L225.4,578.2 L225.9,576.7 L226.4,575.4 L226.9,574.2 L227.4,573.2 L227.9,572.3 L228.4,571.7 L228.9,571.2 L229.4,570.9 L229.9,570.7 L230.4,570.8 L230.9,571 L231.4,571.5 L231.9,572.1 L232.4,573 L232.9,574.1 L233.4,575.4 L233.9,576.8 L234.4,578.5 L234.9,580.3 L235.4,582.4 L235.9,584.5 L236.4,586.9 L236.9,589.4 L237.4,592 L237.9,594.8 L238.4,597.7 L238.9,600.7 L239.4,603.8 L239.9,607 L240.4,610.3 L240.9,613.6 L241.4,617.1 L241.9,620.5 L242.4,624.1 L242.9,627.7 L243.4,631.3 L243.9,634.9 L244.4,638.5 L244.9,642.2 L245.4,645.8 L245.9,649.5 L246.4,653.1 L246.9,656.7 L247.4,660.3 L247.9,663.8 L248.4,667.3 L248.9,670.7 L249.4,674.1 L249.9,677.5 L250.4,680.7 L250.9,683.9 L251.4,687.1 L251.9,690.1 L252.4,693.1 L252.9,696 L253.4,698.9 L253.9,701.6 L254.4,704.3 L254.9,706.9 L255.4,709.4 L255.9,711.8 L256.4,714.1 L256.9,716.4 L257.4,718.5 L257.9,720.6 L258.4,722.6 L258.9,724.5 L259.4,726.3 L259.9,728.1 L260.4,729.7 L260.9,731.3 L261.4,732.8 L261.9,734.3 L262.4,735.6 L262.9,736.9 L263.4,738.2 L263.9,739.3 L264.4,740.4 L264.9,741.5 L265.4,742.5 L265.9,743.4 L266.4,744.3 L266.9,745.1 L267.4,745.9 L267.9,746.6 L268.4,747.3 L268.9,747.9 L269.4,748.5 L269.9,749.1 L270.4,749.6 L270.9,750.1 L271.4,750.6 L271.9,751 L272.4,751.4 L272.9,751.8 L273.4,752.1 L273.9,752.4 L274.4,752.7 L274.9,753 L275.4,753.3 L275.9,753.5 L276.4,753.7 L276.9,754 L277.4,754.2 L277.9,754.3 L278.4,754.5 L278.9,754.7 L279.4,754.8 L279.9,755 L280.4,755.1 L280.9,755.2 L281.4,755.3 L281.9,755.4 L282.4,755.5 L282.9,755.6 L283.4,755.7 L283.9,755.8 L284.4,755.8 L284.9,755.9 L285.4,756 L285.9,756 L286.4,756.1 L286.9,756.2 L287.4,756.2 L287.9,756.3 L288.4,756.3 L288.9,756.4 L289.4,756.4 L289.9,756.4 L290.4,756.5 L290.9,756.5 L291.4,756.6 L291.9,756.6 L292.4,756.6 L292.9,756.7 L293.4,756.7 L293.9,756.7 L294.4,756.8 L294.9,756.8 L295.4,756.8 L295.9,756.8 L296.4,756.9 L296.9,756.9 L297.4,756.9 L297.9,756.9 L298.4,757 L298.9,757 L299.4,757 L299.9,757 L300.4,757 L300.9,757.1 L301.4,757.1 L301.9,757.1 L302.4,757.1 L302.9,757.1 L303.4,757.2 L303.9,757.2 L304.4,757.2 L304.9,757.2 L305.4,757.2 L305.9,757.3 L306.4,757.3 L306.9,757.3 L307.4,757.3 L307.9,757.3 L308.4,757.3 L308.9,757.4 L309.4,757.4 L309.9,757.4 L310.4,757.4 L310.9,757.4 L311.4,757.4 L311.9,757.4 L312.4,757.5 L312.9,757.5 L313.4,757.5 L313.9,757.5 L314.4,757.5 L314.9,757.5 L315.4,757.5 L315.9,757.5 L316.4,757.6 L316.9,757.6 L317.4,757.6 L317.9,757.6 L318.4,757.6 L318.9,757.6 L319.4,757.6 L319.9,757.6 L320.4,757.6 L320.9,757.7 L321.4,757.7 L321.9,757.7 L322.4,757.7 L322.9,757.7 L323.4,757.7 L323.9,757.7 L324.4,757.7 L324.9,757.7 L325.4,757.7 L325.9,757.7 L326.4,757.8 L326.9,757.8 L327.4,757.8 L327.9,757.8 L328.4,757.8 L328.9,757.8 L329.4,757.8 L329.9,757.8 L330.4,757.8 L330.9,757.8 L331.4,757.8 L331.9,757.8 L332.4,757.9 L332.9,757.9 L333.4,757.9 L333.9,757.9 L334.4,757.9 L334.9,757.9 L335.4,757.9 L335.9,757.9 L336.4,757.9 L336.9,757.9 L337.4,757.9 L337.9,757.9 L338.4,757.9 L338.9,757.9 L339.4,757.9 L339.9,757.9 L340.4,758 L340.9,758 L341.4,758 L341.9,758 L342.4,758 L342.9,758 L343.4,758 L343.9,758 L344.4,758 L344.9,758 L345.4,758 L345.9,758 L346.4,758 L346.9,758 L347.4,758 L347.9,758 L348.4,758 L348.9,758 L349.4,758 L349.9,758.1" fill="none" stroke="#ff0000" stroke-width="3" stroke-linejoin="round" stroke-linecap="butt" clip-path="url(#ca)"/>
<rect x="224.4" y="763.4" width="10.4" height="52.8" fill="#b00000"/>
<rect x="235.8" y="763.4" width="5.3" height="52.8" fill="#b00000"/>
<rect x="161.1" y="763.4" width="2.8" height="52.8" fill="#ff55ee"/>
<rect x="188" y="763.4" width="6" height="52.8" fill="#6600cc"/>
<rect x="191.1" y="763.4" width="0.6" height="52.8" fill="#8844e0"/>
<path d="M541.2,250 L541.7,250 L542.2,249.9 L542.7,249.8 L543.2,249.7 L543.7,249.6 L544.2,249.5 L544.7,249.4 L545.2,249.2 L545.7,249 L546.2,248.9 L546.7,248.7 L547.2,248.5 L547.7,248.3 L548.2,248.1 L548.7,247.8 L549.2,247.6 L549.7,247.4 L550.2,247.2 L550.7,246.9 L551.2,246.7 L551.7,246.5 L552.2,246.3 L552.7,246.1 L553.2,245.9 L553.7,245.7 L554.2,245.5 L554.7,245.3 L555.2,245.2 L555.7,245.1 L556.2,245 L556.7,244.9 L557.2,244.8 L557.7,244.7 L558.2,244.6 L558.7,244.5 L559.2,244.4 L559.7,244.3 L560.2,244.2 L560.7,244.1 L561.2,244 L561.7,243.9 L562.2,243.7 L562.7,243.6 L563.2,243.5 L563.7,243.3 L564.2,243.2 L564.7,243 L565.2,242.9 L565.7,242.7 L566.2,242.6 L566.7,242.4 L567.2,242.2 L567.7,242.1 L568.2,241.9 L568.7,241.7 L569.2,241.5 L569.7,241.3 L570.2,241.1 L570.7,240.9 L571.2,240.6 L571.7,240.4 L572.2,240.1 L572.7,239.9 L573.2,239.6 L573.7,239.3 L574.2,239 L574.7,238.7 L575.2,238.4 L575.7,238.1 L576.2,237.8 L576.7,237.4 L577.2,237.1 L577.7,236.7 L578.2,236.3 L578.7,235.9 L579.2,235.4 L579.7,235 L580.2,234.5 L580.7,234.1 L581.2,233.6 L581.7,233 L582.2,232.5 L582.7,231.9 L583.2,231.4 L583.7,230.7 L584.2,230.1 L584.7,229.5 L585.2,228.8 L585.7,228.1 L586.2,227.4 L586.7,226.6 L587.2,225.8 L587.7,225 L588.2,224.2 L588.7,223.3 L589.2,222.4 L589.7,221.5 L590.2,220.5 L590.7,219.5 L591.2,218.5 L591.7,217.4 L592.2,216.3 L592.7,215.2 L593.2,214 L593.7,212.8 L594.2,211.6 L594.7,210.3 L595.2,209 L595.7,207.6 L596.2,206.2 L596.7,204.8 L597.2,203.3 L597.7,201.8 L598.2,200.2 L598.7,198.6 L599.2,197 L599.7,195.3 L600.2,193.6 L600.7,191.8 L601.2,190 L601.7,188.2 L602.2,186.3 L602.7,184.4 L603.2,182.5 L603.7,180.5 L604.2,178.4 L604.7,176.3 L605.2,174.2 L605.7,172.1 L606.2,169.9 L606.7,167.7 L607.2,165.4 L607.7,163.2 L608.2,160.9 L608.7,158.5 L609.2,156.1 L609.7,153.8 L610.2,151.3 L610.7,148.9 L611.2,146.4 L611.7,144 L612.2,141.5 L612.7,138.9 L613.2,136.4 L613.7,133.9 L614.2,131.4 L614.7,128.8 L615.2,126.3 L615.7,123.7 L616.2,121.2 L616.7,118.7 L617.2,116.2 L617.7,113.7 L618.2,111.2 L618.7,108.8 L619.2,106.3 L619.7,104 L620.2,101.6 L620.7,99.3 L621.2,97 L621.7,94.8 L622.2,92.7 L622.7,90.6 L623.2,88.6 L623.7,86.6 L624.2,84.8 L624.7,83 L625.2,81.3 L625.7,79.7 L626.2,78.1 L626.7,76.7 L627.2,75.4 L627.7,74.2 L628.2,73.1 L628.7,72.1 L629.2,71.3 L629.7,70.6 L630.2,69.9 L630.7,69.5 L631.2,69.1 L631.7,68.9 L632.2,68.8 L632.7,68.8 L633.2,69 L633.7,69.3 L634.2,69.7 L634.7,70.2 L635.2,70.8 L635.7,71.6 L636.2,72.4 L636.7,73.4 L637.2,74.5 L637.7,75.7 L638.2,76.9 L638.7,78.3 L639.2,79.8 L639.7,81.4 L640.2,83 L640.7,84.8 L641.2,86.6 L641.7,88.5 L642.2,90.4 L642.7,92.4 L643.2,94.5 L643.7,96.7 L644.2,98.9 L644.7,101.1 L645.2,103.4 L645.7,105.7 L646.2,108.1 L646.7,110.5 L647.2,112.9 L647.7,115.4 L648.2,117.9 L648.7,120.3 L649.2,122.9 L649.7,125.4 L650.2,127.9 L650.7,130.4 L651.2,133 L651.7,135.5 L652.2,138 L652.7,140.5 L653.2,143.1 L653.7,145.6 L654.2,148 L654.7,150.5 L655.2,153 L655.7,155.4 L656.2,157.8 L656.7,160.2 L657.2,162.5 L657.7,164.9 L658.2,167.2 L658.7,169.4 L659.2,171.7 L659.7,173.9 L660.2,176 L660.7,178.2 L661.2,180.3 L661.7,182.3 L662.2,184.4 L662.7,186.4 L663.2,188.3 L663.7,190.2 L664.2,192.1 L664.7,193.9 L665.2,195.7 L665.7,197.4 L666.2,199.1 L666.7,200.8 L667.2,202.4 L667.7,204 L668.2,205.5 L668.7,207 L669.2,208.5 L669.7,209.9 L670.2,211.2 L670.7,212.6 L671.2,213.9 L671.7,215.1 L672.2,216.3 L672.7,217.5 L673.2,218.7 L673.7,219.8 L674.2,220.8 L674.7,221.9 L675.2,222.9 L675.7,223.8 L676.2,224.8 L676.7,225.7 L677.2,226.5 L677.7,227.4 L678.2,228.2 L678.7,229 L679.2,229.7 L679.7,230.4 L680.2,231.1 L680.7,231.8 L681.2,232.4 L681.7,233.1 L682.2,233.6 L682.7,234.2 L683.2,234.8 L683.7,235.3 L684.2,235.8 L684.7,236.3 L685.2,236.7 L685.7,237.2 L686.2,237.6 L686.7,238 L687.2,238.4 L687.7,238.8 L688.2,239.1 L688.7,239.5 L689.2,239.8 L689.7,240.1 L690.2,240.4 L690.7,240.7 L691.2,241 L691.7,241.3 L692.2,241.5 L692.7,241.8 L693.2,242 L693.7,242.2 L694.2,242.5 L694.7,242.7 L695.2,242.9 L695.7,243.1 L696.2,243.2 L696.7,243.4 L697.2,243.6 L697.7,243.7 L698.2,243.9 L698.7,244.1 L699.2,244.2 L699.7,244.3 L700.2,244.5 L700.7,244.6 L701.2,244.7 L701.7,244.8 L702.2,245 L702.7,245.1 L703.2,245.3 L703.7,245.5 L704.2,245.7 L704.7,245.9 L705.2,246.2 L705.7,246.4 L706.2,246.7 L706.7,247 L707.2,247.2 L707.7,247.5 L708.2,247.7 L708.7,248 L709.2,248.2 L709.7,248.5 L710.2,248.7 L710.7,248.9 L711.2,249.1 L711.7,249.3 L712.2,249.5 L712.7,249.6 L713.2,249.8 L713.7,249.9 L714.2,250 L714.7,250 L714.7,250.1 L541.2,250.1 Z" fill="#d3adc1" stroke="none" clip-path="url(#cb)"/>
<path d="M424.2,249.2 L425.7,248.3 L427.2,249.5 L428.7,248.6 L430.2,248.3 L431.7,249.1 L433.2,249.7 L434.7,248.4 L436.2,248.6 L437.7,248.8 L439.2,248.6 L440.7,249.3 L442.2,248.7 L443.7,248.8 L445.2,249.4 L446.7,248.8 L448.2,249.3 L449.7,248.6 L451.2,248.5 L452.7,248.2 L454.2,250 L455.7,248.9 L457.2,249.2 L458.7,249.1 L460.2,249.2 L461.7,249.1 L463.2,250 L464.7,248.5 L466.2,248.3 L467.7,248.5 L469.2,248.4 L470.7,249.4 L472.2,249.4 L473.7,248.5 L475.2,248.3 L476.7,248.8 L478.2,249.6 L479.7,247.5 L481.2,249.2 L482.7,248.4 L484.2,249.4 L485.7,248.3 L487.2,248.7 L488.7,248.1 L490.2,248.3 L491.7,249.5 L493.2,249.2 L494.7,248.5 L496.2,248.3 L497.7,247.7 L499.2,248.5 L500.7,248.6 L502.2,248.5 L503.7,248.5 L505.2,248 L506.7,248.4 L508.2,248.4 L509.7,249 L511.2,249.3 L512.7,248.2 L514.2,247.9 L515.7,248.2 L517.2,247.8 L518.7,247.7 L520.2,248 L521.7,247.4 L523.2,248.2 L524.7,247.8 L526.2,247.9 L527.7,247.6 L529.2,247.2 L530.7,247 L532.2,247.3 L533.7,247 L535.2,247.3 L536.7,247.1 L538.2,246.3 L539.7,246.9 L541.2,246.1 L542.7,246.3 L544.2,246.3 L545.7,245.3 L547.2,246.2 L548.7,246 L550.2,245.7 L551.7,245.4 L553.2,245.2 L554.7,244.7 L556.2,244.8 L557.7,244.4 L559.2,244.4 L560.7,243.5 L562.2,243.8 L563.7,243.4 L565.2,242.9 L566.7,242.3 L568.2,242.3 L569.7,240.6 L571.2,241.1 L572.7,240.3 L574.2,239.6 L575.7,238.8 L577.2,237.3 L578.7,236.4 L580.2,235.6 L581.7,234.2 L583.2,232.5 L584.7,229.9 L586.2,229 L587.7,227.2 L589.2,224.7 L590.7,221.7 L592.2,217.8 L593.7,215.8 L595.2,211.7 L596.7,206.6 L598.2,203.8 L599.7,198.2 L601.2,193.3 L602.7,188.3 L604.2,183.6 L605.7,176.7 L607.2,170.6 L608.7,164.7 L610.2,157.6 L611.7,149.5 L613.2,142 L614.7,134 L616.2,126.6 L617.7,119.6 L619.2,112.1 L620.7,104.6 L622.2,98.1 L623.7,90.6 L625.2,84.8 L626.7,79.6 L628.2,74.3 L629.7,70 L631.2,65.9 L632.7,62.9 L634.2,62.1 L635.7,62.2 L637.2,64.5 L638.7,69.9 L640.2,75.1 L641.7,81.5 L643.2,87.1 L644.7,94.7 L646.2,101.6 L647.7,108.7 L649.2,115.4 L650.7,123.9 L652.2,132.1 L653.7,139.4 L655.2,146.4 L656.7,154.1 L658.2,161.7 L659.7,166.9 L661.2,174.8 L662.7,181.5 L664.2,187.6 L665.7,193.7 L667.2,198.7 L668.7,203.2 L670.2,207.7 L671.7,212.1 L673.2,215.3 L674.7,219 L676.2,222.6 L677.7,226 L679.2,227.5 L680.7,229.8 L682.2,232 L683.7,234.4 L685.2,235.3 L686.7,237.4 L688.2,237.5 L689.7,239 L691.2,239.9 L692.7,241.3 L694.2,242.1 L695.7,241.5 L697.2,242.4 L698.7,243.6 L700.2,243.5 L701.7,243.5 L703.2,245.1 L704.7,245.2 L706.2,245.5 L707.7,245.3 L709.2,246.3 L710.7,245.8 L712.2,246.7 L713.7,245.9 L715.2,246.1 L716.7,246.8 L718.2,246.5 L719.7,247.3 L721.2,247.3 L722.7,246.8 L724.2,247.4 L725.7,247.3 L727.2,248.1 L728.7,247.4 L730.2,247.6 L731.7,248.5 L733.2,249.1 L734.7,249.1 L736.2,248.2 L737.7,248.3 L739.2,249.1 L740.7,248.3" fill="none" stroke="#000" stroke-width="4.3" stroke-linejoin="round" stroke-linecap="butt" clip-path="url(#cb)"/>
<path d="M424.2,249.2 L424.7,249.2 L425.2,249.2 L425.7,249.2 L426.2,249.2 L426.7,249.2 L427.2,249.2 L427.7,249.2 L428.2,249.2 L428.7,249.2 L429.2,249.2 L429.7,249.2 L430.2,249.2 L430.7,249.2 L431.2,249.2 L431.7,249.2 L432.2,249.2 L432.7,249.2 L433.2,249.2 L433.7,249.2 L434.2,249.2 L434.7,249.2 L435.2,249.2 L435.7,249.2 L436.2,249.2 L436.7,249.2 L437.2,249.2 L437.7,249.2 L438.2,249.2 L438.7,249.1 L439.2,249.1 L439.7,249.1 L440.2,249.1 L440.7,249.1 L441.2,249.1 L441.7,249.1 L442.2,249.1 L442.7,249.1 L443.2,249.1 L443.7,249.1 L444.2,249.1 L444.7,249.1 L445.2,249.1 L445.7,249.1 L446.2,249.1 L446.7,249.1 L447.2,249.1 L447.7,249.1 L448.2,249.1 L448.7,249.1 L449.2,249.1 L449.7,249.1 L450.2,249.1 L450.7,249.1 L451.2,249.1 L451.7,249.1 L452.2,249.1 L452.7,249.1 L453.2,249.1 L453.7,249.1 L454.2,249.1 L454.7,249.1 L455.2,249.1 L455.7,249.1 L456.2,249.1 L456.7,249.1 L457.2,249.1 L457.7,249.1 L458.2,249.1 L458.7,249.1 L459.2,249.1 L459.7,249.1 L460.2,249.1 L460.7,249.1 L461.2,249.1 L461.7,249.1 L462.2,249.1 L462.7,249.1 L463.2,249.1 L463.7,249.1 L464.2,249.1 L464.7,249 L465.2,249 L465.7,249 L466.2,249 L466.7,249 L467.2,249 L467.7,249 L468.2,249 L468.7,249 L469.2,249 L469.7,249 L470.2,249 L470.7,249 L471.2,249 L471.7,249 L472.2,249 L472.7,249 L473.2,249 L473.7,249 L474.2,249 L474.7,249 L475.2,249 L475.7,249 L476.2,249 L476.7,249 L477.2,249 L477.7,248.9 L478.2,248.9 L478.7,248.9 L479.2,248.9 L479.7,248.9 L480.2,248.9 L480.7,248.9 L481.2,248.9 L481.7,248.9 L482.2,248.9 L482.7,248.9 L483.2,248.9 L483.7,248.9 L484.2,248.9 L484.7,248.9 L485.2,248.9 L485.7,248.9 L486.2,248.8 L486.7,248.8 L487.2,248.8 L487.7,248.8 L488.2,248.8 L488.7,248.8 L489.2,248.8 L489.7,248.8 L490.2,248.8 L490.7,248.8 L491.2,248.8 L491.7,248.8 L492.2,248.8 L492.7,248.8 L493.2,248.7 L493.7,248.7 L494.2,248.7 L494.7,248.7 L495.2,248.7 L495.7,248.7 L496.2,248.7 L496.7,248.7 L497.2,248.7 L497.7,248.7 L498.2,248.6 L498.7,248.6 L499.2,248.6 L499.7,248.6 L500.2,248.6 L500.7,248.6 L501.2,248.6 L501.7,248.6 L502.2,248.6 L502.7,248.5 L503.2,248.5 L503.7,248.5 L504.2,248.5 L504.7,248.5 L505.2,248.5 L505.7,248.5 L506.2,248.5 L506.7,248.4 L507.2,248.4 L507.7,248.4 L508.2,248.4 L508.7,248.4 L509.2,248.4 L509.7,248.4 L510.2,248.3 L510.7,248.3 L511.2,248.3 L511.7,248.3 L512.2,248.3 L512.7,248.3 L513.2,248.2 L513.7,248.2 L514.2,248.2 L514.7,248.2 L515.2,248.2 L515.7,248.2 L516.2,248.1 L516.7,248.1 L517.2,248.1 L517.7,248.1 L518.2,248.1 L518.7,248 L519.2,248 L519.7,248 L520.2,248 L520.7,248 L521.2,247.9 L521.7,247.9 L522.2,247.9 L522.7,247.9 L523.2,247.8 L523.7,247.8 L524.2,247.8 L524.7,247.8 L525.2,247.7 L525.7,247.7 L526.2,247.7 L526.7,247.7 L527.2,247.6 L527.7,247.6 L528.2,247.6 L528.7,247.5 L529.2,247.5 L529.7,247.5 L530.2,247.5 L530.7,247.4 L531.2,247.4 L531.7,247.4 L532.2,247.3 L532.7,247.3 L533.2,247.3 L533.7,247.2 L534.2,247.2 L534.7,247.2 L535.2,247.1 L535.7,247.1 L536.2,247 L536.7,247 L537.2,247 L537.7,246.9 L538.2,246.9 L538.7,246.8 L539.2,246.8 L539.7,246.8 L540.2,246.7 L540.7,246.7 L541.2,246.6 L541.7,246.6 L542.2,246.5 L542.7,246.5 L543.2,246.4 L543.7,246.4 L544.2,246.3 L544.7,246.3 L545.2,246.2 L545.7,246.2 L546.2,246.1 L546.7,246.1 L547.2,246 L547.7,245.9 L548.2,245.9 L548.7,245.8 L549.2,245.7 L549.7,245.7 L550.2,245.6 L550.7,245.6 L551.2,245.5 L551.7,245.4 L552.2,245.3 L552.7,245.3 L553.2,245.2 L553.7,245.1 L554.2,245 L554.7,245 L555.2,244.9 L555.7,244.8 L556.2,244.7 L556.7,244.6 L557.2,244.5 L557.7,244.4 L558.2,244.3 L558.7,244.2 L559.2,244.1 L559.7,244 L560.2,243.9 L560.7,243.8 L561.2,243.7 L561.7,243.6 L562.2,243.4 L562.7,243.3 L563.2,243.2 L563.7,243 L564.2,242.9 L564.7,242.7 L565.2,242.6 L565.7,242.4 L566.2,242.3 L566.7,242.1 L567.2,241.9 L567.7,241.8 L568.2,241.6 L568.7,241.4 L569.2,241.2 L569.7,241 L570.2,240.8 L570.7,240.6 L571.2,240.3 L571.7,240.1 L572.2,239.8 L572.7,239.6 L573.2,239.3 L573.7,239 L574.2,238.7 L574.7,238.4 L575.2,238.1 L575.7,237.8 L576.2,237.5 L576.7,237.1 L577.2,236.8 L577.7,236.4 L578.2,236 L578.7,235.6 L579.2,235.1 L579.7,234.7 L580.2,234.2 L580.7,233.8 L581.2,233.3 L581.7,232.7 L582.2,232.2 L582.7,231.6 L583.2,231.1 L583.7,230.4 L584.2,229.8 L584.7,229.2 L585.2,228.5 L585.7,227.8 L586.2,227.1 L586.7,226.3 L587.2,225.5 L587.7,224.7 L588.2,223.9 L588.7,223 L589.2,222.1 L589.7,221.2 L590.2,220.2 L590.7,219.2 L591.2,218.2 L591.7,217.1 L592.2,216 L592.7,214.9 L593.2,213.7 L593.7,212.5 L594.2,211.3 L594.7,210 L595.2,208.7 L595.7,207.3 L596.2,205.9 L596.7,204.5 L597.2,203 L597.7,201.5 L598.2,199.9 L598.7,198.3 L599.2,196.7 L599.7,195 L600.2,193.3 L600.7,191.5 L601.2,189.7 L601.7,187.9 L602.2,186 L602.7,184.1 L603.2,182.2 L603.7,180.2 L604.2,178.1 L604.7,176 L605.2,173.9 L605.7,171.8 L606.2,169.6 L606.7,167.4 L607.2,165.1 L607.7,162.9 L608.2,160.6 L608.7,158.2 L609.2,155.8 L609.7,153.5 L610.2,151 L610.7,148.6 L611.2,146.1 L611.7,143.7 L612.2,141.2 L612.7,138.6 L613.2,136.1 L613.7,133.6 L614.2,131.1 L614.7,128.5 L615.2,126 L615.7,123.4 L616.2,120.9 L616.7,118.4 L617.2,115.9 L617.7,113.4 L618.2,110.9 L618.7,108.5 L619.2,106 L619.7,103.7 L620.2,101.3 L620.7,99 L621.2,96.7 L621.7,94.5 L622.2,92.4 L622.7,90.3 L623.2,88.3 L623.7,86.3 L624.2,84.5 L624.7,82.7 L625.2,81 L625.7,79.4 L626.2,77.8 L626.7,76.4 L627.2,75.1 L627.7,73.9 L628.2,72.8 L628.7,71.8 L629.2,71 L629.7,70.3 L630.2,69.6 L630.7,69.2 L631.2,68.8 L631.7,68.6 L632.2,68.5 L632.7,68.5 L633.2,68.7 L633.7,69 L634.2,69.4 L634.7,69.9 L635.2,70.5 L635.7,71.3 L636.2,72.1 L636.7,73.1 L637.2,74.2 L637.7,75.4 L638.2,76.6 L638.7,78 L639.2,79.5 L639.7,81.1 L640.2,82.7 L640.7,84.5 L641.2,86.3 L641.7,88.2 L642.2,90.1 L642.7,92.1 L643.2,94.2 L643.7,96.4 L644.2,98.6 L644.7,100.8 L645.2,103.1 L645.7,105.4 L646.2,107.8 L646.7,110.2 L647.2,112.6 L647.7,115.1 L648.2,117.6 L648.7,120 L649.2,122.6 L649.7,125.1 L650.2,127.6 L650.7,130.1 L651.2,132.7 L651.7,135.2 L652.2,137.7 L652.7,140.2 L653.2,142.8 L653.7,145.3 L654.2,147.7 L654.7,150.2 L655.2,152.7 L655.7,155.1 L656.2,157.5 L656.7,159.9 L657.2,162.2 L657.7,164.6 L658.2,166.9 L658.7,169.1 L659.2,171.4 L659.7,173.6 L660.2,175.7 L660.7,177.9 L661.2,180 L661.7,182 L662.2,184.1 L662.7,186.1 L663.2,188 L663.7,189.9 L664.2,191.8 L664.7,193.6 L665.2,195.4 L665.7,197.1 L666.2,198.8 L666.7,200.5 L667.2,202.1 L667.7,203.7 L668.2,205.2 L668.7,206.7 L669.2,208.2 L669.7,209.6 L670.2,210.9 L670.7,212.3 L671.2,213.6 L671.7,214.8 L672.2,216 L672.7,217.2 L673.2,218.4 L673.7,219.5 L674.2,220.5 L674.7,221.6 L675.2,222.6 L675.7,223.5 L676.2,224.5 L676.7,225.4 L677.2,226.2 L677.7,227.1 L678.2,227.9 L678.7,228.7 L679.2,229.4 L679.7,230.1 L680.2,230.8 L680.7,231.5 L681.2,232.1 L681.7,232.8 L682.2,233.3 L682.7,233.9 L683.2,234.5 L683.7,235 L684.2,235.5 L684.7,236 L685.2,236.4 L685.7,236.9 L686.2,237.3 L686.7,237.7 L687.2,238.1 L687.7,238.5 L688.2,238.8 L688.7,239.2 L689.2,239.5 L689.7,239.8 L690.2,240.1 L690.7,240.4 L691.2,240.7 L691.7,241 L692.2,241.2 L692.7,241.5 L693.2,241.7 L693.7,241.9 L694.2,242.2 L694.7,242.4 L695.2,242.6 L695.7,242.8 L696.2,242.9 L696.7,243.1 L697.2,243.3 L697.7,243.4 L698.2,243.6 L698.7,243.8 L699.2,243.9 L699.7,244 L700.2,244.2 L700.7,244.3 L701.2,244.4 L701.7,244.5 L702.2,244.7 L702.7,244.8 L703.2,244.9 L703.7,245 L704.2,245.1 L704.7,245.2 L705.2,245.3 L705.7,245.4 L706.2,245.5 L706.7,245.5 L707.2,245.6 L707.7,245.7 L708.2,245.8 L708.7,245.9 L709.2,245.9 L709.7,246 L710.2,246.1 L710.7,246.1 L711.2,246.2 L711.7,246.3 L712.2,246.3 L712.7,246.4 L713.2,246.4 L713.7,246.5 L714.2,246.6 L714.7,246.6 L715.2,246.7 L715.7,246.7 L716.2,246.8 L716.7,246.8 L717.2,246.9 L717.7,246.9 L718.2,247 L718.7,247 L719.2,247.1 L719.7,247.1 L720.2,247.2 L720.7,247.2 L721.2,247.2 L721.7,247.3 L722.2,247.3 L722.7,247.4 L723.2,247.4 L723.7,247.4 L724.2,247.5 L724.7,247.5 L725.2,247.6 L725.7,247.6 L726.2,247.6 L726.7,247.7 L727.2,247.7 L727.7,247.7 L728.2,247.8 L728.7,247.8 L729.2,247.8 L729.7,247.9 L730.2,247.9 L730.7,247.9 L731.2,247.9 L731.7,248 L732.2,248 L732.7,248 L733.2,248.1 L733.7,248.1 L734.2,248.1 L734.7,248.1 L735.2,248.2 L735.7,248.2 L736.2,248.2 L736.7,248.2 L737.2,248.3 L737.7,248.3 L738.2,248.3 L738.7,248.3 L739.2,248.4 L739.7,248.4 L740.2,248.4 L740.7,248.4" fill="none" stroke="#ff0000" stroke-width="3" stroke-linejoin="round" stroke-linecap="butt" clip-path="url(#cb)"/>
<rect x="615.2" y="253.9" width="4.6" height="53" fill="#bc84a0"/>
<rect x="625.4" y="253.9" width="2.6" height="53" fill="#bc84a0"/>
<rect x="630.7" y="253.9" width="2.5" height="53" fill="#bc84a0"/>
<rect x="637.3" y="253.9" width="2.6" height="53" fill="#bc84a0"/>
<rect x="648.1" y="253.9" width="2.6" height="53" fill="#bc84a0"/>
<path d="M446.7,503.5 L447.2,503.5 L447.7,503.5 L448.2,503.5 L448.7,503.5 L449.2,503.5 L449.7,503.5 L450.2,503.5 L450.7,503.5 L451.2,503.5 L451.7,503.5 L452.2,503.5 L452.7,503.5 L453.2,503.5 L453.7,503.5 L454.2,503.4 L454.7,503.4 L455.2,503.4 L455.7,503.4 L456.2,503.4 L456.7,503.4 L457.2,503.4 L457.7,503.4 L458.2,503.4 L458.7,503.4 L459.2,503.4 L459.7,503.4 L460.2,503.4 L460.7,503.4 L461.2,503.4 L461.7,503.4 L462.2,503.4 L462.7,503.4 L463.2,503.4 L463.7,503.4 L464.2,503.4 L464.7,503.4 L465.2,503.4 L465.7,503.4 L466.2,503.4 L466.7,503.4 L467.2,503.3 L467.7,503.3 L468.2,503.3 L468.7,503.3 L469.2,503.3 L469.7,503.3 L470.2,503.3 L470.7,503.3 L471.2,503.3 L471.7,503.3 L472.2,503.3 L472.7,503.3 L473.2,503.3 L473.7,503.3 L474.2,503.3 L474.7,503.3 L475.2,503.3 L475.7,503.3 L476.2,503.3 L476.7,503.3 L477.2,503.3 L477.7,503.2 L478.2,503.2 L478.7,503.2 L479.2,503.2 L479.7,503.2 L480.2,503.2 L480.7,503.2 L481.2,503.2 L481.7,503.2 L482.2,503.2 L482.7,503.2 L483.2,503.2 L483.7,503.2 L484.2,503.2 L484.7,503.2 L485.2,503.2 L485.7,503.2 L486.2,503.2 L486.7,503.1 L487.2,503.1 L487.7,503.1 L488.2,503.1 L488.7,503.1 L489.2,503.1 L489.7,503.1 L490.2,503.1 L490.7,503.1 L491.2,503.1 L491.7,503.1 L492.2,503.1 L492.7,503.1 L493.2,503.1 L493.7,503.1 L494.2,503 L494.7,503 L495.2,503 L495.7,503 L496.2,503 L496.7,503 L497.2,503 L497.7,503 L498.2,503 L498.7,503 L499.2,503 L499.7,503 L500.2,503 L500.7,502.9 L501.2,502.9 L501.7,502.9 L502.2,502.9 L502.7,502.9 L503.2,502.9 L503.7,502.9 L504.2,502.9 L504.7,502.9 L505.2,502.9 L505.7,502.9 L506.2,502.8 L506.7,502.8 L507.2,502.8 L507.7,502.8 L508.2,502.8 L508.7,502.8 L509.2,502.8 L509.7,502.8 L510.2,502.8 L510.7,502.8 L511.2,502.7 L511.7,502.7 L512.2,502.7 L512.7,502.7 L513.2,502.7 L513.7,502.7 L514.2,502.7 L514.7,502.7 L515.2,502.7 L515.7,502.6 L516.2,502.6 L516.7,502.6 L517.2,502.6 L517.7,502.6 L518.2,502.6 L518.7,502.6 L519.2,502.6 L519.7,502.5 L520.2,502.5 L520.7,502.5 L521.2,502.5 L521.7,502.5 L522.2,502.5 L522.7,502.5 L523.2,502.5 L523.7,502.4 L524.2,502.4 L524.7,502.4 L525.2,502.4 L525.7,502.4 L526.2,502.4 L526.7,502.4 L527.2,502.3 L527.7,502.3 L528.2,502.3 L528.7,502.3 L529.2,502.3 L529.7,502.3 L530.2,502.2 L530.7,502.2 L531.2,502.2 L531.7,502.2 L532.2,502.2 L532.7,502.2 L533.2,502.1 L533.7,502.1 L534.2,502.1 L534.7,502.1 L535.2,502.1 L535.7,502 L536.2,502 L536.7,502 L537.2,502 L537.7,502 L538.2,501.9 L538.7,501.9 L539.2,501.9 L539.7,501.9 L540.2,501.9 L540.7,501.8 L541.2,501.8 L541.7,501.8 L542.2,501.8 L542.7,501.7 L543.2,501.7 L543.7,501.7 L544.2,501.7 L544.7,501.6 L545.2,501.6 L545.7,501.6 L546.2,501.6 L546.7,501.5 L547.2,501.5 L547.7,501.5 L548.2,501.5 L548.7,501.4 L549.2,501.4 L549.7,501.4 L550.2,501.3 L550.7,501.3 L551.2,501.3 L551.7,501.2 L552.2,501.2 L552.7,501.2 L553.2,501.1 L553.7,501.1 L554.2,501.1 L554.7,501 L555.2,501 L555.7,501 L556.2,500.9 L556.7,500.9 L557.2,500.9 L557.7,500.8 L558.2,500.8 L558.7,500.7 L559.2,500.7 L559.7,500.7 L560.2,500.6 L560.7,500.6 L561.2,500.5 L561.7,500.5 L562.2,500.4 L562.7,500.4 L563.2,500.3 L563.7,500.3 L564.2,500.2 L564.7,500.2 L565.2,500.1 L565.7,500.1 L566.2,500 L566.7,499.9 L567.2,499.9 L567.7,499.8 L568.2,499.7 L568.7,499.7 L569.2,499.6 L569.7,499.5 L570.2,499.5 L570.7,499.4 L571.2,499.3 L571.7,499.2 L572.2,499.1 L572.7,499 L573.2,498.9 L573.7,498.8 L574.2,498.7 L574.7,498.6 L575.2,498.5 L575.7,498.4 L576.2,498.3 L576.7,498.2 L577.2,498 L577.7,497.9 L578.2,497.7 L578.7,497.6 L579.2,497.4 L579.7,497.3 L580.2,497.1 L580.7,496.9 L581.2,496.7 L581.7,496.5 L582.2,496.3 L582.7,496.1 L583.2,495.9 L583.7,495.6 L584.2,495.4 L584.7,495.1 L585.2,494.8 L585.7,494.5 L586.2,494.2 L586.7,493.9 L587.2,493.5 L587.7,493.2 L588.2,492.8 L588.7,492.4 L589.2,492 L589.7,491.5 L590.2,491 L590.7,490.6 L591.2,490 L591.7,489.5 L592.2,488.9 L592.7,488.4 L593.2,487.7 L593.7,487.1 L594.2,486.4 L594.7,485.7 L595.2,485 L595.7,484.2 L596.2,483.4 L596.7,482.5 L597.2,481.6 L597.7,480.7 L598.2,479.8 L598.7,478.8 L599.2,477.7 L599.7,476.6 L600.2,475.5 L600.7,474.3 L601.2,473.1 L601.7,471.9 L602.2,470.5 L602.7,469.2 L603.2,467.8 L603.7,466.3 L604.2,464.8 L604.7,463.3 L605.2,461.7 L605.7,460.1 L606.2,458.4 L606.7,456.6 L607.2,454.8 L607.7,453 L608.2,451.1 L608.7,449.1 L609.2,447.1 L609.7,445.1 L610.2,443 L610.7,440.9 L611.2,438.7 L611.7,436.4 L612.2,434.2 L612.7,431.9 L613.2,429.5 L613.7,427.1 L614.2,424.7 L614.7,422.2 L615.2,419.7 L615.7,417.2 L616.2,414.6 L616.7,412 L617.2,409.4 L617.7,406.8 L618.2,404.1 L618.7,401.5 L619.2,398.8 L619.7,396.1 L620.2,393.4 L620.7,390.8 L621.2,388.1 L621.7,385.4 L622.2,382.8 L622.7,380.1 L623.2,377.5 L623.7,374.9 L624.2,372.4 L624.7,369.8 L625.2,367.4 L625.7,364.9 L626.2,362.6 L626.7,360.2 L627.2,358 L627.7,355.8 L628.2,353.7 L628.7,351.7 L629.2,349.7 L629.7,347.9 L630.2,346.1 L630.7,344.5 L631.2,342.9 L631.7,341.5 L632.2,340.2 L632.7,339 L633.2,337.9 L633.7,337 L634.2,336.2 L634.7,335.6 L635.2,335 L635.7,334.6 L636.2,334.4 L636.7,334.3 L637.2,334.3 L637.7,334.6 L638.2,334.9 L638.7,335.4 L639.2,336.1 L639.7,336.9 L640.2,337.8 L640.7,338.9 L641.2,340.2 L641.7,341.5 L642.2,343 L642.7,344.6 L643.2,346.3 L643.7,348.1 L644.2,350 L644.7,352 L645.2,354.1 L645.7,356.3 L646.2,358.5 L646.7,360.8 L647.2,363.2 L647.7,365.6 L648.2,368.1 L648.7,370.6 L649.2,373.1 L649.7,375.7 L650.2,378.3 L650.7,380.9 L651.2,383.5 L651.7,386.1 L652.2,388.7 L652.7,391.3 L653.2,393.9 L653.7,396.5 L654.2,399.1 L654.7,401.7 L655.2,404.2 L655.7,406.8 L656.2,409.3 L656.7,411.8 L657.2,414.2 L657.7,416.6 L658.2,419 L658.7,421.4 L659.2,423.7 L659.7,426 L660.2,428.2 L660.7,430.5 L661.2,432.6 L661.7,434.8 L662.2,436.9 L662.7,438.9 L663.2,440.9 L663.7,442.9 L664.2,444.8 L664.7,446.7 L665.2,448.5 L665.7,450.3 L666.2,452.1 L666.7,453.8 L667.2,455.5 L667.7,457.1 L668.2,458.7 L668.7,460.2 L669.2,461.7 L669.7,463.2 L670.2,464.6 L670.7,466 L671.2,467.3 L671.7,468.6 L672.2,469.9 L672.7,471.1 L673.2,472.3 L673.7,473.5 L674.2,474.6 L674.7,475.7 L675.2,476.8 L675.7,477.8 L676.2,478.8 L676.7,479.7 L677.2,480.6 L677.7,481.5 L678.2,482.4 L678.7,483.2 L679.2,484 L679.7,484.8 L680.2,485.6 L680.7,486.3 L681.2,487 L681.7,487.6 L682.2,488.3 L682.7,488.9 L683.2,489.5 L683.7,490.1 L684.2,490.6 L684.7,491.2 L685.2,491.7 L685.7,492.2 L686.2,492.7 L686.7,493.1 L687.2,493.6 L687.7,494 L688.2,494.4 L688.7,494.8 L689.2,495.1 L689.7,495.5 L690.2,495.9 L690.7,496.2 L691.2,496.5 L691.7,496.8 L692.2,497.1 L692.7,497.4 L693.2,497.7 L693.7,497.9 L694.2,498.2 L694.7,498.4 L695.2,498.6 L695.7,498.8 L696.2,499.1 L696.7,499.3 L697.2,499.5 L697.7,499.6 L698.2,499.8 L698.7,500 L699.2,500.2 L699.7,500.3 L700.2,500.5 L700.7,500.6 L701.2,500.7 L701.7,500.9 L702.2,501 L702.7,501.1 L703.2,501.2 L703.7,501.4 L704.2,501.5 L704.7,501.6 L705.2,501.7 L705.7,501.8 L706.2,501.9 L706.7,501.9 L707.2,502 L707.7,502.1 L708.2,502.2 L708.7,502.3 L709.2,502.3 L709.7,502.4 L710.2,502.5 L710.7,502.5 L711.2,502.6 L711.7,502.7 L712.2,502.7 L712.7,502.8 L713.2,502.8 L713.7,502.9 L714.2,502.9 L714.7,503 L715.2,503 L715.7,503.1 L716.2,503.1 L716.7,503.1 L717.2,503.2 L717.7,503.2 L718.2,503.2 L718.7,503.3 L719.2,503.3 L719.7,503.3 L720.2,503.4 L720.7,503.4 L721.2,503.4 L721.7,503.5 L722.2,503.5 L722.2,504.1 L446.7,504.1 Z" fill="#d3adc1" stroke="none" clip-path="url(#cb)"/>
<path d="M501.7,503.6 L502.2,503.6 L502.7,503.6 L503.2,503.6 L503.7,503.6 L504.2,503.5 L504.7,503.5 L505.2,503.5 L505.7,503.5 L506.2,503.5 L506.7,503.5 L507.2,503.5 L507.7,503.5 L508.2,503.5 L508.7,503.4 L509.2,503.4 L509.7,503.4 L510.2,503.4 L510.7,503.4 L511.2,503.4 L511.7,503.4 L512.2,503.4 L512.7,503.3 L513.2,503.3 L513.7,503.3 L514.2,503.3 L514.7,503.3 L515.2,503.3 L515.7,503.3 L516.2,503.2 L516.7,503.2 L517.2,503.2 L517.7,503.2 L518.2,503.2 L518.7,503.2 L519.2,503.1 L519.7,503.1 L520.2,503.1 L520.7,503.1 L521.2,503.1 L521.7,503 L522.2,503 L522.7,503 L523.2,503 L523.7,503 L524.2,502.9 L524.7,502.9 L525.2,502.9 L525.7,502.9 L526.2,502.9 L526.7,502.8 L527.2,502.8 L527.7,502.8 L528.2,502.8 L528.7,502.7 L529.2,502.7 L529.7,502.7 L530.2,502.6 L530.7,502.6 L531.2,502.6 L531.7,502.6 L532.2,502.5 L532.7,502.5 L533.2,502.5 L533.7,502.4 L534.2,502.4 L534.7,502.4 L535.2,502.3 L535.7,502.3 L536.2,502.3 L536.7,502.2 L537.2,502.2 L537.7,502.2 L538.2,502.1 L538.7,502.1 L539.2,502 L539.7,502 L540.2,501.9 L540.7,501.9 L541.2,501.9 L541.7,501.8 L542.2,501.8 L542.7,501.7 L543.2,501.7 L543.7,501.6 L544.2,501.6 L544.7,501.5 L545.2,501.5 L545.7,501.4 L546.2,501.3 L546.7,501.3 L547.2,501.2 L547.7,501.2 L548.2,501.1 L548.7,501 L549.2,501 L549.7,500.9 L550.2,500.8 L550.7,500.8 L551.2,500.7 L551.7,500.6 L552.2,500.5 L552.7,500.5 L553.2,500.4 L553.7,500.3 L554.2,500.2 L554.7,500.1 L555.2,500 L555.7,499.9 L556.2,499.8 L556.7,499.7 L557.2,499.6 L557.7,499.5 L558.2,499.4 L558.7,499.3 L559.2,499.1 L559.7,499 L560.2,498.9 L560.7,498.7 L561.2,498.6 L561.7,498.5 L562.2,498.3 L562.7,498.2 L563.2,498 L563.7,497.8 L564.2,497.6 L564.7,497.5 L565.2,497.3 L565.7,497.1 L566.2,496.9 L566.7,496.7 L567.2,496.4 L567.7,496.2 L568.2,496 L568.7,495.7 L569.2,495.5 L569.7,495.2 L570.2,494.9 L570.7,494.6 L571.2,494.3 L571.7,494 L572.2,493.7 L572.7,493.3 L573.2,493 L573.7,492.6 L574.2,492.2 L574.7,491.8 L575.2,491.4 L575.7,491 L576.2,490.5 L576.7,490 L577.2,489.6 L577.7,489.1 L578.2,488.5 L578.7,488 L579.2,487.4 L579.7,486.9 L580.2,486.3 L580.7,485.6 L581.2,485 L581.7,484.3 L582.2,483.6 L582.7,482.9 L583.2,482.2 L583.7,481.5 L584.2,480.7 L584.7,479.9 L585.2,479.1 L585.7,478.2 L586.2,477.4 L586.7,476.5 L587.2,475.6 L587.7,474.6 L588.2,473.7 L588.7,472.7 L589.2,471.7 L589.7,470.7 L590.2,469.6 L590.7,468.6 L591.2,467.5 L591.7,466.4 L592.2,465.4 L592.7,464.2 L593.2,463.1 L593.7,462 L594.2,460.9 L594.7,459.8 L595.2,458.7 L595.7,457.5 L596.2,456.4 L596.7,455.4 L597.2,454.3 L597.7,453.2 L598.2,452.2 L598.7,451.3 L599.2,450.3 L599.7,449.4 L600.2,448.6 L600.7,447.8 L601.2,447.1 L601.7,446.4 L602.2,445.8 L602.7,445.3 L603.2,444.8 L603.7,444.5 L604.2,444.2 L604.7,444 L605.2,443.9 L605.7,443.9 L606.2,444 L606.7,444.1 L607.2,444.4 L607.7,444.7 L608.2,445.1 L608.7,445.5 L609.2,446.1 L609.7,446.7 L610.2,447.3 L610.7,448 L611.2,448.8 L611.7,449.6 L612.2,450.5 L612.7,451.4 L613.2,452.3 L613.7,453.3 L614.2,454.2 L614.7,455.2 L615.2,456.3 L615.7,457.3 L616.2,458.3 L616.7,459.4 L617.2,460.4 L617.7,461.5 L618.2,462.5 L618.7,463.6 L619.2,464.6 L619.7,465.6 L620.2,466.7 L620.7,467.7 L621.2,468.6 L621.7,469.6 L622.2,470.6 L622.7,471.5 L623.2,472.4 L623.7,473.3 L624.2,474.2 L624.7,475 L625.2,475.9 L625.7,476.7 L626.2,477.5 L626.7,478.3 L627.2,479 L627.7,479.8 L628.2,480.5 L628.7,481.2 L629.2,481.9 L629.7,482.5 L630.2,483.1 L630.7,483.8 L631.2,484.4 L631.7,485 L632.2,485.5 L632.7,486.1 L633.2,486.6 L633.7,487.1 L634.2,487.6 L634.7,488.1 L635.2,488.6 L635.7,489 L636.2,489.4 L636.7,489.9 L637.2,490.3 L637.7,490.7 L638.2,491 L638.7,491.4 L639.2,491.8 L639.7,492.1 L640.2,492.4 L640.7,492.8 L641.2,493.1 L641.7,493.4 L642.2,493.7 L642.7,493.9 L643.2,494.2 L643.7,494.5 L644.2,494.7 L644.7,495 L645.2,495.2 L645.7,495.4 L646.2,495.7 L646.7,495.9 L647.2,496.1 L647.7,496.3 L648.2,496.5 L648.7,496.7 L649.2,496.8 L649.7,497 L650.2,497.2 L650.7,497.4 L651.2,497.5 L651.7,497.7 L652.2,497.8 L652.7,498 L653.2,498.1 L653.7,498.2 L654.2,498.4 L654.7,498.5 L655.2,498.6 L655.7,498.7 L656.2,498.9 L656.7,499 L657.2,499.1 L657.7,499.2 L658.2,499.3 L658.7,499.4 L659.2,499.5 L659.7,499.6 L660.2,499.7 L660.7,499.8 L661.2,499.9 L661.7,500 L662.2,500 L662.7,500.1 L663.2,500.2 L663.7,500.3 L664.2,500.4 L664.7,500.4 L665.2,500.5 L665.7,500.6 L666.2,500.7 L666.7,500.7 L667.2,500.8 L667.7,500.9 L668.2,500.9 L668.7,501 L669.2,501 L669.7,501.1 L670.2,501.2 L670.7,501.2 L671.2,501.3 L671.7,501.3 L672.2,501.4 L672.7,501.4 L673.2,501.5 L673.7,501.5 L674.2,501.6 L674.7,501.6 L675.2,501.7 L675.7,501.7 L676.2,501.8 L676.7,501.8 L677.2,501.8 L677.7,501.9 L678.2,501.9 L678.7,502 L679.2,502 L679.7,502 L680.2,502.1 L680.7,502.1 L681.2,502.1 L681.7,502.2 L682.2,502.2 L682.7,502.3 L683.2,502.3 L683.7,502.3 L684.2,502.3 L684.7,502.4 L685.2,502.4 L685.7,502.4 L686.2,502.5 L686.7,502.5 L687.2,502.5 L687.7,502.6 L688.2,502.6 L688.7,502.6 L689.2,502.6 L689.7,502.7 L690.2,502.7 L690.7,502.7 L691.2,502.7 L691.7,502.8 L692.2,502.8 L692.7,502.8 L693.2,502.8 L693.7,502.9 L694.2,502.9 L694.7,502.9 L695.2,502.9 L695.7,502.9 L696.2,503 L696.7,503 L697.2,503 L697.7,503 L698.2,503 L698.7,503.1 L699.2,503.1 L699.7,503.1 L700.2,503.1 L700.7,503.1 L701.2,503.1 L701.7,503.2 L702.2,503.2 L702.7,503.2 L703.2,503.2 L703.7,503.2 L704.2,503.2 L704.7,503.2 L705.2,503.3 L705.7,503.3 L706.2,503.3 L706.7,503.3 L707.2,503.3 L707.7,503.3 L708.2,503.3 L708.7,503.4 L709.2,503.4 L709.7,503.4 L710.2,503.4 L710.7,503.4 L711.2,503.4 L711.7,503.4 L712.2,503.4 L712.7,503.5 L713.2,503.5 L713.7,503.5 L714.2,503.5 L714.7,503.5 L715.2,503.5 L715.7,503.5 L716.2,503.5 L716.7,503.5 L717.2,503.5 L717.7,503.6 L718.2,503.6 L718.7,503.6 L719.2,503.6 L719.7,503.6 L719.7,504.1 L501.7,504.1 Z" fill="#78c3fa" stroke="none" clip-path="url(#cb)"/>
<g clip-path="url(#ov5)">
<path d="M501.7,503.6 L502.2,503.6 L502.7,503.6 L503.2,503.6 L503.7,503.6 L504.2,503.5 L504.7,503.5 L505.2,503.5 L505.7,503.5 L506.2,503.5 L506.7,503.5 L507.2,503.5 L507.7,503.5 L508.2,503.5 L508.7,503.4 L509.2,503.4 L509.7,503.4 L510.2,503.4 L510.7,503.4 L511.2,503.4 L511.7,503.4 L512.2,503.4 L512.7,503.3 L513.2,503.3 L513.7,503.3 L514.2,503.3 L514.7,503.3 L515.2,503.3 L515.7,503.3 L516.2,503.2 L516.7,503.2 L517.2,503.2 L517.7,503.2 L518.2,503.2 L518.7,503.2 L519.2,503.1 L519.7,503.1 L520.2,503.1 L520.7,503.1 L521.2,503.1 L521.7,503 L522.2,503 L522.7,503 L523.2,503 L523.7,503 L524.2,502.9 L524.7,502.9 L525.2,502.9 L525.7,502.9 L526.2,502.9 L526.7,502.8 L527.2,502.8 L527.7,502.8 L528.2,502.8 L528.7,502.7 L529.2,502.7 L529.7,502.7 L530.2,502.6 L530.7,502.6 L531.2,502.6 L531.7,502.6 L532.2,502.5 L532.7,502.5 L533.2,502.5 L533.7,502.4 L534.2,502.4 L534.7,502.4 L535.2,502.3 L535.7,502.3 L536.2,502.3 L536.7,502.2 L537.2,502.2 L537.7,502.2 L538.2,502.1 L538.7,502.1 L539.2,502 L539.7,502 L540.2,501.9 L540.7,501.9 L541.2,501.9 L541.7,501.8 L542.2,501.8 L542.7,501.7 L543.2,501.7 L543.7,501.6 L544.2,501.6 L544.7,501.5 L545.2,501.5 L545.7,501.4 L546.2,501.3 L546.7,501.3 L547.2,501.2 L547.7,501.2 L548.2,501.1 L548.7,501 L549.2,501 L549.7,500.9 L550.2,500.8 L550.7,500.8 L551.2,500.7 L551.7,500.6 L552.2,500.5 L552.7,500.5 L553.2,500.4 L553.7,500.3 L554.2,500.2 L554.7,500.1 L555.2,500 L555.7,499.9 L556.2,499.8 L556.7,499.7 L557.2,499.6 L557.7,499.5 L558.2,499.4 L558.7,499.3 L559.2,499.1 L559.7,499 L560.2,498.9 L560.7,498.7 L561.2,498.6 L561.7,498.5 L562.2,498.3 L562.7,498.2 L563.2,498 L563.7,497.8 L564.2,497.6 L564.7,497.5 L565.2,497.3 L565.7,497.1 L566.2,496.9 L566.7,496.7 L567.2,496.4 L567.7,496.2 L568.2,496 L568.7,495.7 L569.2,495.5 L569.7,495.2 L570.2,494.9 L570.7,494.6 L571.2,494.3 L571.7,494 L572.2,493.7 L572.7,493.3 L573.2,493 L573.7,492.6 L574.2,492.2 L574.7,491.8 L575.2,491.4 L575.7,491 L576.2,490.5 L576.7,490 L577.2,489.6 L577.7,489.1 L578.2,488.5 L578.7,488 L579.2,487.4 L579.7,486.9 L580.2,486.3 L580.7,485.6 L581.2,485 L581.7,484.3 L582.2,483.6 L582.7,482.9 L583.2,482.2 L583.7,481.5 L584.2,480.7 L584.7,479.9 L585.2,479.1 L585.7,478.2 L586.2,477.4 L586.7,476.5 L587.2,475.6 L587.7,474.6 L588.2,473.7 L588.7,472.7 L589.2,471.7 L589.7,470.7 L590.2,469.6 L590.7,468.6 L591.2,467.5 L591.7,466.4 L592.2,465.4 L592.7,464.2 L593.2,463.1 L593.7,462 L594.2,460.9 L594.7,459.8 L595.2,458.7 L595.7,457.5 L596.2,456.4 L596.7,455.4 L597.2,454.3 L597.7,453.2 L598.2,452.2 L598.7,451.3 L599.2,450.3 L599.7,449.4 L600.2,448.6 L600.7,447.8 L601.2,447.1 L601.7,446.4 L602.2,445.8 L602.7,445.3 L603.2,444.8 L603.7,444.5 L604.2,444.2 L604.7,444 L605.2,443.9 L605.7,443.9 L606.2,444 L606.7,444.1 L607.2,444.4 L607.7,444.7 L608.2,445.1 L608.7,445.5 L609.2,446.1 L609.7,446.7 L610.2,447.3 L610.7,448 L611.2,448.8 L611.7,449.6 L612.2,450.5 L612.7,451.4 L613.2,452.3 L613.7,453.3 L614.2,454.2 L614.7,455.2 L615.2,456.3 L615.7,457.3 L616.2,458.3 L616.7,459.4 L617.2,460.4 L617.7,461.5 L618.2,462.5 L618.7,463.6 L619.2,464.6 L619.7,465.6 L620.2,466.7 L620.7,467.7 L621.2,468.6 L621.7,469.6 L622.2,470.6 L622.7,471.5 L623.2,472.4 L623.7,473.3 L624.2,474.2 L624.7,475 L625.2,475.9 L625.7,476.7 L626.2,477.5 L626.7,478.3 L627.2,479 L627.7,479.8 L628.2,480.5 L628.7,481.2 L629.2,481.9 L629.7,482.5 L630.2,483.1 L630.7,483.8 L631.2,484.4 L631.7,485 L632.2,485.5 L632.7,486.1 L633.2,486.6 L633.7,487.1 L634.2,487.6 L634.7,488.1 L635.2,488.6 L635.7,489 L636.2,489.4 L636.7,489.9 L637.2,490.3 L637.7,490.7 L638.2,491 L638.7,491.4 L639.2,491.8 L639.7,492.1 L640.2,492.4 L640.7,492.8 L641.2,493.1 L641.7,493.4 L642.2,493.7 L642.7,493.9 L643.2,494.2 L643.7,494.5 L644.2,494.7 L644.7,495 L645.2,495.2 L645.7,495.4 L646.2,495.7 L646.7,495.9 L647.2,496.1 L647.7,496.3 L648.2,496.5 L648.7,496.7 L649.2,496.8 L649.7,497 L650.2,497.2 L650.7,497.4 L651.2,497.5 L651.7,497.7 L652.2,497.8 L652.7,498 L653.2,498.1 L653.7,498.2 L654.2,498.4 L654.7,498.5 L655.2,498.6 L655.7,498.7 L656.2,498.9 L656.7,499 L657.2,499.1 L657.7,499.2 L658.2,499.3 L658.7,499.4 L659.2,499.5 L659.7,499.6 L660.2,499.7 L660.7,499.8 L661.2,499.9 L661.7,500 L662.2,500 L662.7,500.1 L663.2,500.2 L663.7,500.3 L664.2,500.4 L664.7,500.4 L665.2,500.5 L665.7,500.6 L666.2,500.7 L666.7,500.7 L667.2,500.8 L667.7,500.9 L668.2,500.9 L668.7,501 L669.2,501 L669.7,501.1 L670.2,501.2 L670.7,501.2 L671.2,501.3 L671.7,501.3 L672.2,501.4 L672.7,501.4 L673.2,501.5 L673.7,501.5 L674.2,501.6 L674.7,501.6 L675.2,501.7 L675.7,501.7 L676.2,501.8 L676.7,501.8 L677.2,501.8 L677.7,501.9 L678.2,501.9 L678.7,502 L679.2,502 L679.7,502 L680.2,502.1 L680.7,502.1 L681.2,502.1 L681.7,502.2 L682.2,502.2 L682.7,502.3 L683.2,502.3 L683.7,502.3 L684.2,502.3 L684.7,502.4 L685.2,502.4 L685.7,502.4 L686.2,502.5 L686.7,502.5 L687.2,502.5 L687.7,502.6 L688.2,502.6 L688.7,502.6 L689.2,502.6 L689.7,502.7 L690.2,502.7 L690.7,502.7 L691.2,502.7 L691.7,502.8 L692.2,502.8 L692.7,502.8 L693.2,502.8 L693.7,502.9 L694.2,502.9 L694.7,502.9 L695.2,502.9 L695.7,502.9 L696.2,503 L696.7,503 L697.2,503 L697.7,503 L698.2,503 L698.7,503.1 L699.2,503.1 L699.7,503.1 L700.2,503.1 L700.7,503.1 L701.2,503.1 L701.7,503.2 L702.2,503.2 L702.7,503.2 L703.2,503.2 L703.7,503.2 L704.2,503.2 L704.7,503.2 L705.2,503.3 L705.7,503.3 L706.2,503.3 L706.7,503.3 L707.2,503.3 L707.7,503.3 L708.2,503.3 L708.7,503.4 L709.2,503.4 L709.7,503.4 L710.2,503.4 L710.7,503.4 L711.2,503.4 L711.7,503.4 L712.2,503.4 L712.7,503.5 L713.2,503.5 L713.7,503.5 L714.2,503.5 L714.7,503.5 L715.2,503.5 L715.7,503.5 L716.2,503.5 L716.7,503.5 L717.2,503.5 L717.7,503.6 L718.2,503.6 L718.7,503.6 L719.2,503.6 L719.7,503.6 L719.7,504.1 L501.7,504.1 Z" fill="#5faafc" stroke="none" clip-path="url(#cb)"/>
</g>
<path d="M424.2,500.8 L425.7,501.3 L427.2,501.5 L428.7,500.9 L430.2,500.4 L431.7,500.5 L433.2,501.6 L434.7,500.9 L436.2,501.2 L437.7,501.3 L439.2,501.5 L440.7,501 L442.2,501.4 L443.7,500.7 L445.2,501 L446.7,500.6 L448.2,501.7 L449.7,501.1 L451.2,500.7 L452.7,500.9 L454.2,501 L455.7,501.4 L457.2,500.2 L458.7,500.5 L460.2,500.8 L461.7,502.3 L463.2,501.4 L464.7,500.9 L466.2,501.3 L467.7,501.9 L469.2,500.8 L470.7,500.7 L472.2,501.5 L473.7,501.1 L475.2,501.1 L476.7,500.5 L478.2,501.7 L479.7,501.6 L481.2,501 L482.7,501 L484.2,499.6 L485.7,500.9 L487.2,500.5 L488.7,500.7 L490.2,500.8 L491.7,500.3 L493.2,499.6 L494.7,500.5 L496.2,500 L497.7,500.1 L499.2,499.9 L500.7,500 L502.2,499 L503.7,500.7 L505.2,500.1 L506.7,500.5 L508.2,500.9 L509.7,499.8 L511.2,498.9 L512.7,499.2 L514.2,499 L515.7,499.3 L517.2,499.5 L518.7,498.4 L520.2,499.4 L521.7,498.4 L523.2,499.2 L524.7,498.9 L526.2,498.7 L527.7,498.7 L529.2,498.4 L530.7,498.2 L532.2,497.5 L533.7,498.2 L535.2,499 L536.7,498.9 L538.2,498.4 L539.7,497.9 L541.2,497 L542.7,497.9 L544.2,496.9 L545.7,496.7 L547.2,496.3 L548.7,496.2 L550.2,495.7 L551.7,495.5 L553.2,494.7 L554.7,494.7 L556.2,495.7 L557.7,494.1 L559.2,493.5 L560.7,493.4 L562.2,492.9 L563.7,491.4 L565.2,491.2 L566.7,491 L568.2,489.8 L569.7,488.8 L571.2,488.4 L572.7,486.1 L574.2,485.2 L575.7,483.4 L577.2,482.7 L578.7,479 L580.2,477.5 L581.7,475.2 L583.2,473.1 L584.7,470.1 L586.2,467.2 L587.7,462.1 L589.2,459.2 L590.7,454.2 L592.2,449.2 L593.7,444.7 L595.2,438.4 L596.7,431.9 L598.2,426.6 L599.7,419.7 L601.2,413.7 L602.7,407.8 L604.2,401.7 L605.7,396.5 L607.2,390.1 L608.7,384.2 L610.2,379.8 L611.7,375.1 L613.2,370.5 L614.7,366.9 L616.2,362 L617.7,356.8 L619.2,353.5 L620.7,348.4 L622.2,344 L623.7,339.2 L625.2,334.9 L626.7,330.4 L628.2,327.1 L629.7,323.5 L631.2,321.9 L632.7,322.1 L634.2,320.9 L635.7,319.6 L637.2,318.1 L638.7,319.3 L640.2,321.4 L641.7,327.2 L643.2,331.7 L644.7,337.3 L646.2,344 L647.7,352.2 L649.2,360.3 L650.7,368.1 L652.2,376.8 L653.7,384.8 L655.2,393.5 L656.7,400.9 L658.2,408.9 L659.7,416.8 L661.2,424.7 L662.7,429.6 L664.2,436.1 L665.7,441.8 L667.2,448.1 L668.7,452.3 L670.2,457.3 L671.7,461.9 L673.2,465.4 L674.7,469.1 L676.2,472.6 L677.7,474.8 L679.2,477.9 L680.7,480.9 L682.2,483.4 L683.7,485.2 L685.2,486.2 L686.7,488.4 L688.2,490.4 L689.7,491.6 L691.2,492.4 L692.7,493 L694.2,494.6 L695.7,494.8 L697.2,495.2 L698.7,496 L700.2,497.7 L701.7,497.6 L703.2,498.5 L704.7,498 L706.2,499.1 L707.7,498.6 L709.2,499.1 L710.7,500.7 L712.2,500.1 L713.7,499.6 L715.2,500 L716.7,500.4 L718.2,501 L719.7,500.2 L721.2,499.7 L722.7,500.6 L724.2,500.8 L725.7,501 L727.2,501.6 L728.7,501.2 L730.2,501.5 L731.7,500.6 L733.2,501.7 L734.7,502.3 L736.2,501.7 L737.7,501.5 L739.2,501.5 L740.7,502.3" fill="none" stroke="#000" stroke-width="4.3" stroke-linejoin="round" stroke-linecap="butt" clip-path="url(#cb)"/>
<path d="M424.2,501.3 L424.7,501.3 L425.2,501.3 L425.7,501.3 L426.2,501.3 L426.7,501.3 L427.2,501.3 L427.7,501.3 L428.2,501.3 L428.7,501.3 L429.2,501.3 L429.7,501.3 L430.2,501.3 L430.7,501.3 L431.2,501.3 L431.7,501.2 L432.2,501.2 L432.7,501.2 L433.2,501.2 L433.7,501.2 L434.2,501.2 L434.7,501.2 L435.2,501.2 L435.7,501.2 L436.2,501.2 L436.7,501.2 L437.2,501.2 L437.7,501.2 L438.2,501.2 L438.7,501.2 L439.2,501.2 L439.7,501.2 L440.2,501.2 L440.7,501.2 L441.2,501.2 L441.7,501.2 L442.2,501.2 L442.7,501.2 L443.2,501.2 L443.7,501.2 L444.2,501.2 L444.7,501.2 L445.2,501.2 L445.7,501.1 L446.2,501.1 L446.7,501.1 L447.2,501.1 L447.7,501.1 L448.2,501.1 L448.7,501.1 L449.2,501.1 L449.7,501.1 L450.2,501.1 L450.7,501.1 L451.2,501.1 L451.7,501.1 L452.2,501.1 L452.7,501.1 L453.2,501.1 L453.7,501.1 L454.2,501.1 L454.7,501.1 L455.2,501.1 L455.7,501.1 L456.2,501 L456.7,501 L457.2,501 L457.7,501 L458.2,501 L458.7,501 L459.2,501 L459.7,501 L460.2,501 L460.7,501 L461.2,501 L461.7,501 L462.2,501 L462.7,501 L463.2,501 L463.7,501 L464.2,501 L464.7,500.9 L465.2,500.9 L465.7,500.9 L466.2,500.9 L466.7,500.9 L467.2,500.9 L467.7,500.9 L468.2,500.9 L468.7,500.9 L469.2,500.9 L469.7,500.9 L470.2,500.9 L470.7,500.9 L471.2,500.9 L471.7,500.8 L472.2,500.8 L472.7,500.8 L473.2,500.8 L473.7,500.8 L474.2,500.8 L474.7,500.8 L475.2,500.8 L475.7,500.8 L476.2,500.8 L476.7,500.8 L477.2,500.8 L477.7,500.7 L478.2,500.7 L478.7,500.7 L479.2,500.7 L479.7,500.7 L480.2,500.7 L480.7,500.7 L481.2,500.7 L481.7,500.7 L482.2,500.7 L482.7,500.6 L483.2,500.6 L483.7,500.6 L484.2,500.6 L484.7,500.6 L485.2,500.6 L485.7,500.6 L486.2,500.6 L486.7,500.6 L487.2,500.5 L487.7,500.5 L488.2,500.5 L488.7,500.5 L489.2,500.5 L489.7,500.5 L490.2,500.5 L490.7,500.5 L491.2,500.4 L491.7,500.4 L492.2,500.4 L492.7,500.4 L493.2,500.4 L493.7,500.4 L494.2,500.4 L494.7,500.3 L495.2,500.3 L495.7,500.3 L496.2,500.3 L496.7,500.3 L497.2,500.3 L497.7,500.3 L498.2,500.2 L498.7,500.2 L499.2,500.2 L499.7,500.2 L500.2,500.2 L500.7,500.2 L501.2,500.1 L501.7,500.1 L502.2,500.1 L502.7,500.1 L503.2,500.1 L503.7,500.1 L504.2,500 L504.7,500 L505.2,500 L505.7,500 L506.2,500 L506.7,499.9 L507.2,499.9 L507.7,499.9 L508.2,499.9 L508.7,499.8 L509.2,499.8 L509.7,499.8 L510.2,499.8 L510.7,499.8 L511.2,499.7 L511.7,499.7 L512.2,499.7 L512.7,499.7 L513.2,499.6 L513.7,499.6 L514.2,499.6 L514.7,499.6 L515.2,499.5 L515.7,499.5 L516.2,499.5 L516.7,499.4 L517.2,499.4 L517.7,499.4 L518.2,499.4 L518.7,499.3 L519.2,499.3 L519.7,499.3 L520.2,499.2 L520.7,499.2 L521.2,499.2 L521.7,499.1 L522.2,499.1 L522.7,499.1 L523.2,499 L523.7,499 L524.2,499 L524.7,498.9 L525.2,498.9 L525.7,498.9 L526.2,498.8 L526.7,498.8 L527.2,498.7 L527.7,498.7 L528.2,498.7 L528.7,498.6 L529.2,498.6 L529.7,498.5 L530.2,498.5 L530.7,498.4 L531.2,498.4 L531.7,498.3 L532.2,498.3 L532.7,498.3 L533.2,498.2 L533.7,498.2 L534.2,498.1 L534.7,498 L535.2,498 L535.7,497.9 L536.2,497.9 L536.7,497.8 L537.2,497.8 L537.7,497.7 L538.2,497.7 L538.7,497.6 L539.2,497.5 L539.7,497.5 L540.2,497.4 L540.7,497.3 L541.2,497.3 L541.7,497.2 L542.2,497.1 L542.7,497.1 L543.2,497 L543.7,496.9 L544.2,496.8 L544.7,496.8 L545.2,496.7 L545.7,496.6 L546.2,496.5 L546.7,496.4 L547.2,496.3 L547.7,496.3 L548.2,496.2 L548.7,496.1 L549.2,496 L549.7,495.9 L550.2,495.8 L550.7,495.7 L551.2,495.6 L551.7,495.5 L552.2,495.3 L552.7,495.2 L553.2,495.1 L553.7,495 L554.2,494.9 L554.7,494.8 L555.2,494.6 L555.7,494.5 L556.2,494.4 L556.7,494.2 L557.2,494.1 L557.7,493.9 L558.2,493.8 L558.7,493.6 L559.2,493.4 L559.7,493.3 L560.2,493.1 L560.7,492.9 L561.2,492.7 L561.7,492.5 L562.2,492.3 L562.7,492.1 L563.2,491.9 L563.7,491.7 L564.2,491.5 L564.7,491.2 L565.2,491 L565.7,490.7 L566.2,490.5 L566.7,490.2 L567.2,489.9 L567.7,489.6 L568.2,489.3 L568.7,489 L569.2,488.7 L569.7,488.3 L570.2,488 L570.7,487.6 L571.2,487.2 L571.7,486.8 L572.2,486.4 L572.7,486 L573.2,485.5 L573.7,485 L574.2,484.5 L574.7,484 L575.2,483.5 L575.7,483 L576.2,482.4 L576.7,481.8 L577.2,481.2 L577.7,480.5 L578.2,479.9 L578.7,479.2 L579.2,478.5 L579.7,477.7 L580.2,476.9 L580.7,476.1 L581.2,475.3 L581.7,474.4 L582.2,473.5 L582.7,472.6 L583.2,471.6 L583.7,470.6 L584.2,469.6 L584.7,468.5 L585.2,467.4 L585.7,466.3 L586.2,465.1 L586.7,463.9 L587.2,462.6 L587.7,461.3 L588.2,459.9 L588.7,458.5 L589.2,457.1 L589.7,455.6 L590.2,454.1 L590.7,452.6 L591.2,451 L591.7,449.3 L592.2,447.6 L592.7,445.9 L593.2,444.1 L593.7,442.3 L594.2,440.5 L594.7,438.6 L595.2,436.7 L595.7,434.8 L596.2,432.8 L596.7,430.8 L597.2,428.8 L597.7,426.8 L598.2,424.7 L598.7,422.7 L599.2,420.6 L599.7,418.6 L600.2,416.5 L600.7,414.4 L601.2,412.4 L601.7,410.4 L602.2,408.4 L602.7,406.4 L603.2,404.4 L603.7,402.5 L604.2,400.6 L604.7,398.8 L605.2,396.9 L605.7,395.1 L606.2,393.4 L606.7,391.7 L607.2,390 L607.7,388.3 L608.2,386.6 L608.7,385 L609.2,383.4 L609.7,381.8 L610.2,380.3 L610.7,378.7 L611.2,377.2 L611.7,375.6 L612.2,374.1 L612.7,372.6 L613.2,371 L613.7,369.5 L614.2,368 L614.7,366.4 L615.2,364.9 L615.7,363.3 L616.2,361.7 L616.7,360.1 L617.2,358.5 L617.7,356.9 L618.2,355.3 L618.7,353.7 L619.2,352 L619.7,350.4 L620.2,348.7 L620.7,347.1 L621.2,345.5 L621.7,343.9 L622.2,342.3 L622.7,340.7 L623.2,339.1 L623.7,337.5 L624.2,336 L624.7,334.5 L625.2,333 L625.7,331.6 L626.2,330.2 L626.7,328.8 L627.2,327.5 L627.7,326.2 L628.2,325 L628.7,323.8 L629.2,322.7 L629.7,321.7 L630.2,320.8 L630.7,319.9 L631.2,319.1 L631.7,318.4 L632.2,317.8 L632.7,317.3 L633.2,316.9 L633.7,316.6 L634.2,316.4 L634.7,316.3 L635.2,316.4 L635.7,316.5 L636.2,316.8 L636.7,317.2 L637.2,317.7 L637.7,318.4 L638.2,319.2 L638.7,320.1 L639.2,321.2 L639.7,322.3 L640.2,323.7 L640.7,325.1 L641.2,326.7 L641.7,328.3 L642.2,330.1 L642.7,332 L643.2,334 L643.7,336.1 L644.2,338.3 L644.7,340.6 L645.2,342.9 L645.7,345.3 L646.2,347.8 L646.7,350.3 L647.2,352.9 L647.7,355.5 L648.2,358.2 L648.7,360.8 L649.2,363.6 L649.7,366.3 L650.2,369 L650.7,371.8 L651.2,374.6 L651.7,377.3 L652.2,380.1 L652.7,382.9 L653.2,385.6 L653.7,388.4 L654.2,391.1 L654.7,393.8 L655.2,396.5 L655.7,399.1 L656.2,401.7 L656.7,404.3 L657.2,406.9 L657.7,409.4 L658.2,411.9 L658.7,414.4 L659.2,416.8 L659.7,419.2 L660.2,421.5 L660.7,423.8 L661.2,426.1 L661.7,428.3 L662.2,430.5 L662.7,432.6 L663.2,434.7 L663.7,436.8 L664.2,438.8 L664.7,440.7 L665.2,442.6 L665.7,444.5 L666.2,446.3 L666.7,448.1 L667.2,449.8 L667.7,451.5 L668.2,453.2 L668.7,454.8 L669.2,456.4 L669.7,457.9 L670.2,459.4 L670.7,460.8 L671.2,462.2 L671.7,463.6 L672.2,464.9 L672.7,466.2 L673.2,467.4 L673.7,468.6 L674.2,469.8 L674.7,470.9 L675.2,472 L675.7,473.1 L676.2,474.1 L676.7,475.1 L677.2,476.1 L677.7,477 L678.2,477.9 L678.7,478.8 L679.2,479.6 L679.7,480.4 L680.2,481.2 L680.7,482 L681.2,482.7 L681.7,483.4 L682.2,484.1 L682.7,484.8 L683.2,485.4 L683.7,486 L684.2,486.6 L684.7,487.2 L685.2,487.7 L685.7,488.2 L686.2,488.7 L686.7,489.2 L687.2,489.7 L687.7,490.1 L688.2,490.6 L688.7,491 L689.2,491.4 L689.7,491.8 L690.2,492.1 L690.7,492.5 L691.2,492.8 L691.7,493.2 L692.2,493.5 L692.7,493.8 L693.2,494.1 L693.7,494.4 L694.2,494.6 L694.7,494.9 L695.2,495.1 L695.7,495.4 L696.2,495.6 L696.7,495.8 L697.2,496 L697.7,496.3 L698.2,496.5 L698.7,496.6 L699.2,496.8 L699.7,497 L700.2,497.2 L700.7,497.3 L701.2,497.5 L701.7,497.6 L702.2,497.8 L702.7,497.9 L703.2,498.1 L703.7,498.2 L704.2,498.3 L704.7,498.4 L705.2,498.5 L705.7,498.6 L706.2,498.8 L706.7,498.9 L707.2,499 L707.7,499 L708.2,499.1 L708.7,499.2 L709.2,499.3 L709.7,499.4 L710.2,499.5 L710.7,499.6 L711.2,499.6 L711.7,499.7 L712.2,499.8 L712.7,499.8 L713.2,499.9 L713.7,500 L714.2,500 L714.7,500.1 L715.2,500.1 L715.7,500.2 L716.2,500.2 L716.7,500.3 L717.2,500.3 L717.7,500.4 L718.2,500.4 L718.7,500.5 L719.2,500.5 L719.7,500.5 L720.2,500.6 L720.7,500.6 L721.2,500.7 L721.7,500.7 L722.2,500.7 L722.7,500.8 L723.2,500.8 L723.7,500.8 L724.2,500.8 L724.7,500.9 L725.2,500.9 L725.7,500.9 L726.2,501 L726.7,501 L727.2,501 L727.7,501 L728.2,501.1 L728.7,501.1 L729.2,501.1 L729.7,501.1 L730.2,501.1 L730.7,501.2 L731.2,501.2 L731.7,501.2 L732.2,501.2 L732.7,501.2 L733.2,501.2 L733.7,501.3 L734.2,501.3 L734.7,501.3 L735.2,501.3 L735.7,501.3 L736.2,501.3 L736.7,501.3 L737.2,501.4 L737.7,501.4 L738.2,501.4 L738.7,501.4 L739.2,501.4 L739.7,501.4 L740.2,501.4 L740.7,501.4" fill="none" stroke="#ff0000" stroke-width="3" stroke-linejoin="round" stroke-linecap="butt" clip-path="url(#cb)"/>
<rect x="622.7" y="508.2" width="11.1" height="52.7" fill="#bc84a0"/>
<rect x="635.1" y="508.2" width="2.3" height="52.7" fill="#bc84a0"/>
<rect x="639.7" y="508.2" width="2.1" height="52.7" fill="#bc84a0"/>
<rect x="606.3" y="508.2" width="2.4" height="52.7" fill="#5599ff"/>
<path d="M567.2,758.4 L567.7,758.2 L568.2,758.1 L568.7,757.8 L569.2,757.6 L569.7,757.3 L570.2,756.9 L570.7,756.5 L571.2,756.1 L571.7,755.7 L572.2,755.2 L572.7,754.7 L573.2,754.1 L573.7,753.5 L574.2,752.9 L574.7,752.3 L575.2,751.7 L575.7,751 L576.2,750.4 L576.7,749.7 L577.2,749 L577.7,748.4 L578.2,747.7 L578.7,747.1 L579.2,746.5 L579.7,745.9 L580.2,745.3 L580.7,744.9 L581.2,744.4 L581.7,744 L582.2,743.6 L582.7,743.1 L583.2,742.6 L583.7,742.1 L584.2,741.6 L584.7,741 L585.2,740.4 L585.7,739.8 L586.2,739.2 L586.7,738.5 L587.2,737.8 L587.7,737.1 L588.2,736.4 L588.7,735.6 L589.2,734.8 L589.7,733.9 L590.2,733.1 L590.7,732.1 L591.2,731.2 L591.7,730.2 L592.2,729.2 L592.7,728.1 L593.2,727 L593.7,725.8 L594.2,724.7 L594.7,723.4 L595.2,722.1 L595.7,720.8 L596.2,719.5 L596.7,718.1 L597.2,716.6 L597.7,715.1 L598.2,713.6 L598.7,712 L599.2,710.3 L599.7,708.6 L600.2,706.9 L600.7,705.1 L601.2,703.3 L601.7,701.4 L602.2,699.5 L602.7,697.5 L603.2,695.5 L603.7,693.4 L604.2,691.3 L604.7,689.1 L605.2,686.9 L605.7,684.7 L606.2,682.4 L606.7,680.1 L607.2,677.7 L607.7,675.3 L608.2,672.8 L608.7,670.3 L609.2,667.8 L609.7,665.3 L610.2,662.7 L610.7,660.1 L611.2,657.5 L611.7,654.8 L612.2,652.1 L612.7,649.4 L613.2,646.7 L613.7,644 L614.2,641.2 L614.7,638.5 L615.2,635.8 L615.7,633 L616.2,630.3 L616.7,627.5 L617.2,624.8 L617.7,622.1 L618.2,619.4 L618.7,616.8 L619.2,614.1 L619.7,611.5 L620.2,608.9 L620.7,606.4 L621.2,604 L621.7,601.5 L622.2,599.2 L622.7,596.9 L623.2,594.6 L623.7,592.4 L624.2,590.4 L624.7,588.3 L625.2,586.4 L625.7,584.6 L626.2,582.8 L626.7,581.2 L627.2,579.7 L627.7,578.3 L628.2,576.9 L628.7,575.8 L629.2,574.7 L629.7,573.7 L630.2,572.9 L630.7,572.2 L631.2,571.7 L631.7,571.3 L632.2,571 L632.7,570.8 L633.2,570.8 L633.7,570.9 L634.2,571.2 L634.7,571.6 L635.2,572.1 L635.7,572.8 L636.2,573.6 L636.7,574.5 L637.2,575.6 L637.7,576.8 L638.2,578.1 L638.7,579.5 L639.2,581 L639.7,582.7 L640.2,584.4 L640.7,586.2 L641.2,588.2 L641.7,590.2 L642.2,592.3 L642.7,594.5 L643.2,596.7 L643.7,599.1 L644.2,601.5 L644.7,603.9 L645.2,606.4 L645.7,608.9 L646.2,611.5 L646.7,614.2 L647.2,616.8 L647.7,619.5 L648.2,622.2 L648.7,625 L649.2,627.7 L649.7,630.5 L650.2,633.2 L650.7,636 L651.2,638.8 L651.7,641.6 L652.2,644.3 L652.7,647.1 L653.2,649.8 L653.7,652.6 L654.2,655.3 L654.7,657.9 L655.2,660.6 L655.7,663.2 L656.2,665.9 L656.7,668.4 L657.2,671 L657.7,673.5 L658.2,675.9 L658.7,678.4 L659.2,680.8 L659.7,683.1 L660.2,685.4 L660.7,687.7 L661.2,689.9 L661.7,692.1 L662.2,694.2 L662.7,696.3 L663.2,698.3 L663.7,700.3 L664.2,702.3 L664.7,704.1 L665.2,706 L665.7,707.8 L666.2,709.5 L666.7,711.2 L667.2,712.9 L667.7,714.5 L668.2,716 L668.7,717.5 L669.2,719 L669.7,720.4 L670.2,721.7 L670.7,723 L671.2,724.3 L671.7,725.5 L672.2,726.7 L672.7,727.9 L673.2,729 L673.7,730 L674.2,731.1 L674.7,732 L675.2,733 L675.7,733.9 L676.2,734.8 L676.7,735.6 L677.2,736.4 L677.7,737.2 L678.2,737.9 L678.7,738.6 L679.2,739.3 L679.7,740 L680.2,740.6 L680.7,741.2 L681.2,741.8 L681.7,742.3 L682.2,742.8 L682.7,743.3 L683.2,743.8 L683.7,744.3 L684.2,744.7 L684.7,745.1 L685.2,745.5 L685.7,745.9 L686.2,746.3 L686.7,746.6 L687.2,746.9 L687.7,747.3 L688.2,747.6 L688.7,747.8 L689.2,748.1 L689.7,748.4 L690.2,748.6 L690.7,748.9 L691.2,749.1 L691.7,749.3 L692.2,749.5 L692.7,749.7 L693.2,749.9 L693.7,750.1 L694.2,750.3 L694.7,750.5 L695.2,750.6 L695.7,750.8 L696.2,750.9 L696.7,751.1 L697.2,751.2 L697.7,751.5 L698.2,751.8 L698.7,752.2 L699.2,752.7 L699.7,753.3 L700.2,753.8 L700.7,754.4 L701.2,755 L701.7,755.6 L702.2,756.1 L702.7,756.7 L703.2,757.1 L703.7,757.5 L704.2,757.9 L704.7,758.2 L705.2,758.4 L705.2,758.5 L567.2,758.5 Z" fill="#d3adc1" stroke="none" clip-path="url(#cb)"/>
<path d="M424.2,756.6 L425.7,757 L427.2,757.3 L428.7,757.5 L430.2,756.9 L431.7,757.3 L433.2,757 L434.7,757.2 L436.2,757.1 L437.7,756.6 L439.2,757.1 L440.7,757.6 L442.2,756.7 L443.7,757.1 L445.2,757.5 L446.7,756.7 L448.2,757.3 L449.7,756.7 L451.2,757.8 L452.7,758.5 L454.2,758.3 L455.7,757.3 L457.2,757.8 L458.7,757.5 L460.2,757.5 L461.7,758.3 L463.2,756.9 L464.7,758.1 L466.2,757.6 L467.7,758.4 L469.2,757.8 L470.7,757.4 L472.2,757.9 L473.7,758.2 L475.2,757.9 L476.7,758.2 L478.2,757.7 L479.7,757 L481.2,758.5 L482.7,758.5 L484.2,758.3 L485.7,758.3 L487.2,758.8 L488.7,758.1 L490.2,758 L491.7,758.3 L493.2,759.1 L494.7,757.8 L496.2,759.1 L497.7,758.3 L499.2,758.1 L500.7,759.3 L502.2,758.6 L503.7,758 L505.2,758.5 L506.7,759.2 L508.2,759.3 L509.7,758.5 L511.2,758.9 L512.7,759.1 L514.2,758.4 L515.7,758.9 L517.2,758.6 L518.7,758.4 L520.2,758.3 L521.7,758.6 L523.2,758.5 L524.7,758.1 L526.2,758.1 L527.7,758.8 L529.2,758.3 L530.7,758.5 L532.2,758.6 L533.7,758.1 L535.2,758.9 L536.7,757.2 L538.2,757.8 L539.7,757.1 L541.2,758.1 L542.7,757.8 L544.2,755.8 L545.7,756.1 L547.2,756.7 L548.7,756.6 L550.2,756.3 L551.7,755.7 L553.2,755.7 L554.7,755.6 L556.2,754.9 L557.7,755.2 L559.2,753.3 L560.7,754.4 L562.2,753.2 L563.7,753.9 L565.2,752.9 L566.7,752.2 L568.2,752.4 L569.7,751.3 L571.2,750.8 L572.7,749.9 L574.2,750 L575.7,749.5 L577.2,749 L578.7,747.5 L580.2,747 L581.7,745.3 L583.2,744 L584.7,742.8 L586.2,741.3 L587.7,738.6 L589.2,736.5 L590.7,734 L592.2,731.4 L593.7,727.8 L595.2,725.2 L596.7,720.7 L598.2,716.8 L599.7,711.5 L601.2,707 L602.7,701.5 L604.2,695.2 L605.7,690 L607.2,682.5 L608.7,676 L610.2,668.1 L611.7,659.6 L613.2,651.7 L614.7,644 L616.2,635.6 L617.7,627.3 L619.2,619 L620.7,610.4 L622.2,603.6 L623.7,595.5 L625.2,590.3 L626.7,584 L628.2,579.2 L629.7,576.4 L631.2,575.9 L632.7,575.1 L634.2,573.5 L635.7,572.1 L637.2,571.8 L638.7,574.5 L640.2,579.4 L641.7,582.9 L643.2,590 L644.7,596.3 L646.2,605.1 L647.7,613.1 L649.2,621.6 L650.7,630.4 L652.2,639.3 L653.7,646.9 L655.2,655 L656.7,662.5 L658.2,671 L659.7,678 L661.2,685.6 L662.7,691.8 L664.2,698.9 L665.7,702.9 L667.2,709.1 L668.7,714.6 L670.2,718.5 L671.7,722.3 L673.2,726.3 L674.7,729 L676.2,732.7 L677.7,736.5 L679.2,738.2 L680.7,739.1 L682.2,741 L683.7,742.8 L685.2,744.9 L686.7,745.2 L688.2,746.3 L689.7,748 L691.2,748.8 L692.7,748.8 L694.2,749.1 L695.7,749.4 L697.2,750.3 L698.7,749.9 L700.2,751.8 L701.7,751.4 L703.2,752.3 L704.7,753.3 L706.2,753.2 L707.7,752.2 L709.2,753.4 L710.7,753.8 L712.2,753 L713.7,753.1 L715.2,753.7 L716.7,753.1 L718.2,754.8 L719.7,753 L721.2,753.7 L722.7,754.3 L724.2,754.4 L725.7,754.7 L727.2,754.9 L728.7,754.8 L730.2,755.5 L731.7,754 L733.2,755.2 L734.7,754.9 L736.2,755.4 L737.7,755.5 L739.2,755 L740.7,755.2" fill="none" stroke="#000" stroke-width="4.3" stroke-linejoin="round" stroke-linecap="butt" clip-path="url(#cb)"/>
<path d="M424.2,757 L424.7,757 L425.2,757 L425.7,757 L426.2,757 L426.7,757 L427.2,757 L427.7,757 L428.2,757 L428.7,756.9 L429.2,756.9 L429.7,756.9 L430.2,756.9 L430.7,756.9 L431.2,756.9 L431.7,756.9 L432.2,756.9 L432.7,756.9 L433.2,756.9 L433.7,756.9 L434.2,756.9 L434.7,756.9 L435.2,756.9 L435.7,756.9 L436.2,756.9 L436.7,756.9 L437.2,756.9 L437.7,756.9 L438.2,756.9 L438.7,756.9 L439.2,756.9 L439.7,756.9 L440.2,756.9 L440.7,756.9 L441.2,756.9 L441.7,756.9 L442.2,756.9 L442.7,756.8 L443.2,756.8 L443.7,756.8 L444.2,756.8 L444.7,756.8 L445.2,756.8 L445.7,756.8 L446.2,756.8 L446.7,756.8 L447.2,756.8 L447.7,756.8 L448.2,756.8 L448.7,756.8 L449.2,756.8 L449.7,756.8 L450.2,756.8 L450.7,756.8 L451.2,756.8 L451.7,756.8 L452.2,756.8 L452.7,756.8 L453.2,756.8 L453.7,756.8 L454.2,756.7 L454.7,756.7 L455.2,756.7 L455.7,756.7 L456.2,756.7 L456.7,756.7 L457.2,756.7 L457.7,756.7 L458.2,756.7 L458.7,756.7 L459.2,756.7 L459.7,756.7 L460.2,756.7 L460.7,756.7 L461.2,756.7 L461.7,756.7 L462.2,756.7 L462.7,756.7 L463.2,756.7 L463.7,756.6 L464.2,756.6 L464.7,756.6 L465.2,756.6 L465.7,756.6 L466.2,756.6 L466.7,756.6 L467.2,756.6 L467.7,756.6 L468.2,756.6 L468.7,756.6 L469.2,756.6 L469.7,756.6 L470.2,756.6 L470.7,756.6 L471.2,756.6 L471.7,756.5 L472.2,756.5 L472.7,756.5 L473.2,756.5 L473.7,756.5 L474.2,756.5 L474.7,756.5 L475.2,756.5 L475.7,756.5 L476.2,756.5 L476.7,756.5 L477.2,756.5 L477.7,756.5 L478.2,756.5 L478.7,756.4 L479.2,756.4 L479.7,756.4 L480.2,756.4 L480.7,756.4 L481.2,756.4 L481.7,756.4 L482.2,756.4 L482.7,756.4 L483.2,756.4 L483.7,756.4 L484.2,756.4 L484.7,756.3 L485.2,756.3 L485.7,756.3 L486.2,756.3 L486.7,756.3 L487.2,756.3 L487.7,756.3 L488.2,756.3 L488.7,756.3 L489.2,756.3 L489.7,756.3 L490.2,756.2 L490.7,756.2 L491.2,756.2 L491.7,756.2 L492.2,756.2 L492.7,756.2 L493.2,756.2 L493.7,756.2 L494.2,756.2 L494.7,756.2 L495.2,756.1 L495.7,756.1 L496.2,756.1 L496.7,756.1 L497.2,756.1 L497.7,756.1 L498.2,756.1 L498.7,756.1 L499.2,756 L499.7,756 L500.2,756 L500.7,756 L501.2,756 L501.7,756 L502.2,756 L502.7,756 L503.2,755.9 L503.7,755.9 L504.2,755.9 L504.7,755.9 L505.2,755.9 L505.7,755.9 L506.2,755.9 L506.7,755.8 L507.2,755.8 L507.7,755.8 L508.2,755.8 L508.7,755.8 L509.2,755.8 L509.7,755.8 L510.2,755.7 L510.7,755.7 L511.2,755.7 L511.7,755.7 L512.2,755.7 L512.7,755.7 L513.2,755.6 L513.7,755.6 L514.2,755.6 L514.7,755.6 L515.2,755.6 L515.7,755.5 L516.2,755.5 L516.7,755.5 L517.2,755.5 L517.7,755.5 L518.2,755.5 L518.7,755.4 L519.2,755.4 L519.7,755.4 L520.2,755.4 L520.7,755.3 L521.2,755.3 L521.7,755.3 L522.2,755.3 L522.7,755.3 L523.2,755.2 L523.7,755.2 L524.2,755.2 L524.7,755.2 L525.2,755.1 L525.7,755.1 L526.2,755.1 L526.7,755.1 L527.2,755 L527.7,755 L528.2,755 L528.7,755 L529.2,754.9 L529.7,754.9 L530.2,754.9 L530.7,754.9 L531.2,754.8 L531.7,754.8 L532.2,754.8 L532.7,754.8 L533.2,754.7 L533.7,754.7 L534.2,754.7 L534.7,754.6 L535.2,754.6 L535.7,754.6 L536.2,754.5 L536.7,754.5 L537.2,754.5 L537.7,754.4 L538.2,754.4 L538.7,754.4 L539.2,754.3 L539.7,754.3 L540.2,754.3 L540.7,754.2 L541.2,754.2 L541.7,754.2 L542.2,754.1 L542.7,754.1 L543.2,754 L543.7,754 L544.2,754 L544.7,753.9 L545.2,753.9 L545.7,753.8 L546.2,753.8 L546.7,753.7 L547.2,753.7 L547.7,753.7 L548.2,753.6 L548.7,753.6 L549.2,753.5 L549.7,753.5 L550.2,753.4 L550.7,753.4 L551.2,753.3 L551.7,753.3 L552.2,753.2 L552.7,753.2 L553.2,753.1 L553.7,753 L554.2,753 L554.7,752.9 L555.2,752.9 L555.7,752.8 L556.2,752.7 L556.7,752.7 L557.2,752.6 L557.7,752.5 L558.2,752.5 L558.7,752.4 L559.2,752.3 L559.7,752.2 L560.2,752.2 L560.7,752.1 L561.2,752 L561.7,751.9 L562.2,751.8 L562.7,751.7 L563.2,751.7 L563.7,751.6 L564.2,751.5 L564.7,751.4 L565.2,751.3 L565.7,751.1 L566.2,751 L566.7,750.9 L567.2,750.8 L567.7,750.7 L568.2,750.5 L568.7,750.4 L569.2,750.3 L569.7,750.1 L570.2,749.9 L570.7,749.8 L571.2,749.6 L571.7,749.4 L572.2,749.3 L572.7,749.1 L573.2,748.9 L573.7,748.7 L574.2,748.5 L574.7,748.2 L575.2,748 L575.7,747.7 L576.2,747.5 L576.7,747.2 L577.2,746.9 L577.7,746.6 L578.2,746.3 L578.7,746 L579.2,745.7 L579.7,745.3 L580.2,744.9 L580.7,744.5 L581.2,744.1 L581.7,743.7 L582.2,743.3 L582.7,742.8 L583.2,742.3 L583.7,741.8 L584.2,741.3 L584.7,740.7 L585.2,740.1 L585.7,739.5 L586.2,738.9 L586.7,738.2 L587.2,737.5 L587.7,736.8 L588.2,736.1 L588.7,735.3 L589.2,734.5 L589.7,733.6 L590.2,732.8 L590.7,731.8 L591.2,730.9 L591.7,729.9 L592.2,728.9 L592.7,727.8 L593.2,726.7 L593.7,725.5 L594.2,724.4 L594.7,723.1 L595.2,721.8 L595.7,720.5 L596.2,719.2 L596.7,717.8 L597.2,716.3 L597.7,714.8 L598.2,713.3 L598.7,711.7 L599.2,710 L599.7,708.3 L600.2,706.6 L600.7,704.8 L601.2,703 L601.7,701.1 L602.2,699.2 L602.7,697.2 L603.2,695.2 L603.7,693.1 L604.2,691 L604.7,688.8 L605.2,686.6 L605.7,684.4 L606.2,682.1 L606.7,679.8 L607.2,677.4 L607.7,675 L608.2,672.5 L608.7,670 L609.2,667.5 L609.7,665 L610.2,662.4 L610.7,659.8 L611.2,657.2 L611.7,654.5 L612.2,651.8 L612.7,649.1 L613.2,646.4 L613.7,643.7 L614.2,640.9 L614.7,638.2 L615.2,635.5 L615.7,632.7 L616.2,630 L616.7,627.2 L617.2,624.5 L617.7,621.8 L618.2,619.1 L618.7,616.5 L619.2,613.8 L619.7,611.2 L620.2,608.6 L620.7,606.1 L621.2,603.7 L621.7,601.2 L622.2,598.9 L622.7,596.6 L623.2,594.3 L623.7,592.1 L624.2,590.1 L624.7,588 L625.2,586.1 L625.7,584.3 L626.2,582.5 L626.7,580.9 L627.2,579.4 L627.7,578 L628.2,576.6 L628.7,575.5 L629.2,574.4 L629.7,573.4 L630.2,572.6 L630.7,571.9 L631.2,571.4 L631.7,571 L632.2,570.7 L632.7,570.5 L633.2,570.5 L633.7,570.6 L634.2,570.9 L634.7,571.3 L635.2,571.8 L635.7,572.5 L636.2,573.3 L636.7,574.2 L637.2,575.3 L637.7,576.5 L638.2,577.8 L638.7,579.2 L639.2,580.7 L639.7,582.4 L640.2,584.1 L640.7,585.9 L641.2,587.9 L641.7,589.9 L642.2,592 L642.7,594.2 L643.2,596.4 L643.7,598.8 L644.2,601.2 L644.7,603.6 L645.2,606.1 L645.7,608.6 L646.2,611.2 L646.7,613.9 L647.2,616.5 L647.7,619.2 L648.2,621.9 L648.7,624.7 L649.2,627.4 L649.7,630.2 L650.2,632.9 L650.7,635.7 L651.2,638.5 L651.7,641.3 L652.2,644 L652.7,646.8 L653.2,649.5 L653.7,652.3 L654.2,655 L654.7,657.6 L655.2,660.3 L655.7,662.9 L656.2,665.6 L656.7,668.1 L657.2,670.7 L657.7,673.2 L658.2,675.6 L658.7,678.1 L659.2,680.5 L659.7,682.8 L660.2,685.1 L660.7,687.4 L661.2,689.6 L661.7,691.8 L662.2,693.9 L662.7,696 L663.2,698 L663.7,700 L664.2,702 L664.7,703.8 L665.2,705.7 L665.7,707.5 L666.2,709.2 L666.7,710.9 L667.2,712.6 L667.7,714.2 L668.2,715.7 L668.7,717.2 L669.2,718.7 L669.7,720.1 L670.2,721.4 L670.7,722.7 L671.2,724 L671.7,725.2 L672.2,726.4 L672.7,727.6 L673.2,728.7 L673.7,729.7 L674.2,730.8 L674.7,731.7 L675.2,732.7 L675.7,733.6 L676.2,734.5 L676.7,735.3 L677.2,736.1 L677.7,736.9 L678.2,737.6 L678.7,738.3 L679.2,739 L679.7,739.7 L680.2,740.3 L680.7,740.9 L681.2,741.5 L681.7,742 L682.2,742.5 L682.7,743 L683.2,743.5 L683.7,744 L684.2,744.4 L684.7,744.8 L685.2,745.2 L685.7,745.6 L686.2,746 L686.7,746.3 L687.2,746.6 L687.7,747 L688.2,747.3 L688.7,747.5 L689.2,747.8 L689.7,748.1 L690.2,748.3 L690.7,748.6 L691.2,748.8 L691.7,749 L692.2,749.2 L692.7,749.4 L693.2,749.6 L693.7,749.8 L694.2,750 L694.7,750.2 L695.2,750.3 L695.7,750.5 L696.2,750.6 L696.7,750.8 L697.2,750.9 L697.7,751.1 L698.2,751.2 L698.7,751.3 L699.2,751.4 L699.7,751.5 L700.2,751.6 L700.7,751.8 L701.2,751.9 L701.7,752 L702.2,752.1 L702.7,752.1 L703.2,752.2 L703.7,752.3 L704.2,752.4 L704.7,752.5 L705.2,752.6 L705.7,752.7 L706.2,752.7 L706.7,752.8 L707.2,752.9 L707.7,752.9 L708.2,753 L708.7,753.1 L709.2,753.1 L709.7,753.2 L710.2,753.3 L710.7,753.3 L711.2,753.4 L711.7,753.5 L712.2,753.5 L712.7,753.6 L713.2,753.6 L713.7,753.7 L714.2,753.7 L714.7,753.8 L715.2,753.8 L715.7,753.9 L716.2,753.9 L716.7,754 L717.2,754 L717.7,754.1 L718.2,754.1 L718.7,754.2 L719.2,754.2 L719.7,754.3 L720.2,754.3 L720.7,754.3 L721.2,754.4 L721.7,754.4 L722.2,754.5 L722.7,754.5 L723.2,754.5 L723.7,754.6 L724.2,754.6 L724.7,754.7 L725.2,754.7 L725.7,754.7 L726.2,754.8 L726.7,754.8 L727.2,754.8 L727.7,754.9 L728.2,754.9 L728.7,754.9 L729.2,755 L729.7,755 L730.2,755 L730.7,755.1 L731.2,755.1 L731.7,755.1 L732.2,755.2 L732.7,755.2 L733.2,755.2 L733.7,755.2 L734.2,755.3 L734.7,755.3 L735.2,755.3 L735.7,755.4 L736.2,755.4 L736.7,755.4 L737.2,755.4 L737.7,755.5 L738.2,755.5 L738.7,755.5 L739.2,755.5 L739.7,755.6 L740.2,755.6 L740.7,755.6" fill="none" stroke="#ff0000" stroke-width="3" stroke-linejoin="round" stroke-linecap="butt" clip-path="url(#cb)"/>
<rect x="608" y="762.3" width="2.3" height="52.6" fill="#bc84a0"/>
<rect x="615.9" y="762.3" width="15.8" height="52.6" fill="#bc84a0"/>
<g id="fg" opacity="0.999">
<rect x="43.9" y="53.9" width="316.6" height="769.4" fill="none" stroke="#111111" stroke-width="1.3"/>
<rect x="424.2" y="53.9" width="316.7" height="769.4" fill="none" stroke="#111111" stroke-width="1.3"/>
<line x1="43.9" x2="43.9" y1="823.3" y2="828.6" stroke="#111111" stroke-width="1.3"/>
<line x1="59.7" x2="59.7" y1="823.3" y2="826.5" stroke="#111111" stroke-width="0.9"/>
<line x1="75.6" x2="75.6" y1="823.3" y2="826.5" stroke="#111111" stroke-width="0.9"/>
<line x1="91.4" x2="91.4" y1="823.3" y2="826.5" stroke="#111111" stroke-width="0.9"/>
<line x1="107.2" x2="107.2" y1="823.3" y2="828.6" stroke="#111111" stroke-width="1.3"/>
<line x1="123.1" x2="123.1" y1="823.3" y2="826.5" stroke="#111111" stroke-width="0.9"/>
<line x1="138.9" x2="138.9" y1="823.3" y2="826.5" stroke="#111111" stroke-width="0.9"/>
<line x1="154.7" x2="154.7" y1="823.3" y2="826.5" stroke="#111111" stroke-width="0.9"/>
<line x1="170.5" x2="170.5" y1="823.3" y2="828.6" stroke="#111111" stroke-width="1.3"/>
<line x1="186.4" x2="186.4" y1="823.3" y2="826.5" stroke="#111111" stroke-width="0.9"/>
<line x1="202.2" x2="202.2" y1="823.3" y2="826.5" stroke="#111111" stroke-width="0.9"/>
<line x1="218" x2="218" y1="823.3" y2="826.5" stroke="#111111" stroke-width="0.9"/>
<line x1="233.9" x2="233.9" y1="823.3" y2="828.6" stroke="#111111" stroke-width="1.3"/>
<line x1="249.7" x2="249.7" y1="823.3" y2="826.5" stroke="#111111" stroke-width="0.9"/>
<line x1="265.5" x2="265.5" y1="823.3" y2="826.5" stroke="#111111" stroke-width="0.9"/>
<line x1="281.3" x2="281.3" y1="823.3" y2="826.5" stroke="#111111" stroke-width="0.9"/>
<line x1="297.2" x2="297.2" y1="823.3" y2="828.6" stroke="#111111" stroke-width="1.3"/>
<line x1="313" x2="313" y1="823.3" y2="826.5" stroke="#111111" stroke-width="0.9"/>
<line x1="328.8" x2="328.8" y1="823.3" y2="826.5" stroke="#111111" stroke-width="0.9"/>
<line x1="344.7" x2="344.7" y1="823.3" y2="826.5" stroke="#111111" stroke-width="0.9"/>
<line x1="360.5" x2="360.5" y1="823.3" y2="828.6" stroke="#111111" stroke-width="1.3"/>
<text transform="translate(22.5,849.7) scale(1.0703,1)" font-size="23.6" fill="#000">536</text>
<text transform="translate(85.8,849.7) scale(1.0703,1)" font-size="23.6" fill="#000">534</text>
<text transform="translate(149.1,849.7) scale(1.0703,1)" font-size="23.6" fill="#000">532</text>
<text transform="translate(212.5,849.7) scale(1.0703,1)" font-size="23.6" fill="#000">530</text>
<text transform="translate(275.8,849.7) scale(1.0703,1)" font-size="23.6" fill="#000">528</text>
<text transform="translate(339.1,849.7) scale(1.0703,1)" font-size="23.6" fill="#000">526</text>
<line x1="424.2" x2="424.2" y1="823.3" y2="828.6" stroke="#111111" stroke-width="1.3"/>
<line x1="444" x2="444" y1="823.3" y2="826.5" stroke="#111111" stroke-width="0.9"/>
<line x1="463.8" x2="463.8" y1="823.3" y2="826.5" stroke="#111111" stroke-width="0.9"/>
<line x1="483.6" x2="483.6" y1="823.3" y2="826.5" stroke="#111111" stroke-width="0.9"/>
<line x1="503.4" x2="503.4" y1="823.3" y2="828.6" stroke="#111111" stroke-width="1.3"/>
<line x1="523.2" x2="523.2" y1="823.3" y2="826.5" stroke="#111111" stroke-width="0.9"/>
<line x1="543" x2="543" y1="823.3" y2="826.5" stroke="#111111" stroke-width="0.9"/>
<line x1="562.8" x2="562.8" y1="823.3" y2="826.5" stroke="#111111" stroke-width="0.9"/>
<line x1="582.5" x2="582.5" y1="823.3" y2="828.6" stroke="#111111" stroke-width="1.3"/>
<line x1="602.3" x2="602.3" y1="823.3" y2="826.5" stroke="#111111" stroke-width="0.9"/>
<line x1="622.1" x2="622.1" y1="823.3" y2="826.5" stroke="#111111" stroke-width="0.9"/>
<line x1="641.9" x2="641.9" y1="823.3" y2="826.5" stroke="#111111" stroke-width="0.9"/>
<line x1="661.7" x2="661.7" y1="823.3" y2="828.6" stroke="#111111" stroke-width="1.3"/>
<line x1="681.5" x2="681.5" y1="823.3" y2="826.5" stroke="#111111" stroke-width="0.9"/>
<line x1="701.3" x2="701.3" y1="823.3" y2="826.5" stroke="#111111" stroke-width="0.9"/>
<line x1="721.1" x2="721.1" y1="823.3" y2="826.5" stroke="#111111" stroke-width="0.9"/>
<line x1="740.9" x2="740.9" y1="823.3" y2="828.6" stroke="#111111" stroke-width="1.3"/>
<text transform="translate(402.8,849.7) scale(1.0703,1)" font-size="23.6" fill="#000">450</text>
<text transform="translate(482,849.7) scale(1.0703,1)" font-size="23.6" fill="#000">448</text>
<text transform="translate(561.1,849.7) scale(1.0703,1)" font-size="23.6" fill="#000">446</text>
<text transform="translate(640.3,849.7) scale(1.0703,1)" font-size="23.6" fill="#000">444</text>
<text transform="translate(719.5,849.7) scale(1.0703,1)" font-size="23.6" fill="#000">442</text>
<text transform="translate(41.6,45) scale(1.0828,1)" font-size="29.4" fill="#000">(a)</text>
<text transform="translate(170.8,45.3) scale(0.9230,1)" font-size="29.4" fill="#000">O</text>
<text transform="translate(204.1,45.3) scale(0.9367,1)" font-size="29.4" fill="#000">1s</text>
<text transform="translate(424.4,45) scale(1.1023,1)" font-size="29.4" fill="#000">(b)</text>
<text transform="translate(533.1,45.1) scale(0.9191,1)" font-size="29.4" fill="#000">In</text>
<text transform="translate(567.4,45.1) scale(1.0555,1)" font-size="29.4" fill="#000">3d</text>
<text transform="translate(602.6,50.3) scale(0.9982,1)" font-size="20.6" fill="#000">5/2</text>
<text transform="translate(29.6,540.8) rotate(-90) scale(1.0957,1)" font-size="29.4" fill="#000">Intensity,</text>
<text transform="translate(29.6,399.2) rotate(-90) scale(0.9964,1)" font-size="29.4" fill="#000">a.u.</text>
<text transform="translate(64.8,880.6) scale(1.0590,1)" font-size="29.4" fill="#000">Binding</text>
<text transform="translate(180.8,880.6) scale(1.0551,1)" font-size="29.4" fill="#000">Energy,</text>
<text transform="translate(296.9,880.6) scale(1.0119,1)" font-size="29.4" fill="#000">eV</text>
<text transform="translate(448.7,880.6) scale(1.0590,1)" font-size="29.4" fill="#000">Binding</text>
<text transform="translate(564.7,880.6) scale(1.0551,1)" font-size="29.4" fill="#000">Energy,</text>
<text transform="translate(680.8,880.6) scale(1.0119,1)" font-size="29.4" fill="#000">eV</text>
<text transform="translate(59.5,92.2) scale(1.0968,1)" font-size="20.6" fill="#000">stoichiometric</text>
<text transform="translate(59.9,361.5) scale(1.0484,1)" font-size="20.6" fill="#000">reduced</text>
<text transform="translate(59.9,630.5) scale(1.0827,1)" font-size="20.6" fill="#000">hydroxylated</text>
<text transform="translate(266.9,156.1) scale(0.9706,1)" font-size="20.6" fill="#b30000">In</text>
<text transform="translate(283.7,159.5) scale(1.0742,1)" font-size="14.4" fill="#b30000">2</text>
<text transform="translate(293,156.3) scale(0.9955,1)" font-size="20.6" fill="#b30000">O</text>
<text transform="translate(309,159.6) scale(1.0243,1)" font-size="14.4" fill="#b30000">3</text>
<text transform="translate(663.1,155.5) scale(0.9357,1)" font-size="20.6" fill="#c590ab">In</text>
<text transform="translate(679.5,158.9) scale(1.0742,1)" font-size="14.4" fill="#c590ab">2</text>
<text transform="translate(688.8,155.7) scale(0.9892,1)" font-size="20.6" fill="#c590ab">O</text>
<text transform="translate(704.8,159) scale(1.0742,1)" font-size="14.4" fill="#c590ab">3</text>
<text transform="translate(464.2,419.6) scale(0.9531,1)" font-size="20.6" fill="#5599ff">In</text>
<text transform="translate(487.7,419.6) scale(1.0680,1)" font-size="20.6" fill="#5599ff">adatoms</text>
<text transform="translate(124,703.3) scale(0.9253,1)" font-size="20.6" fill="#6a00e0">OH</text>
<text transform="translate(153.3,706.2) scale(1.0679,1)" font-size="14.4" fill="#6a00e0" font-style="italic">ads</text>
<text transform="translate(92.3,740.7) scale(0.8524,1)" font-size="20.6" fill="#ff55ee">O</text>
<text transform="translate(106.7,743.7) scale(1.0815,1)" font-size="14.4" fill="#ff55ee" font-style="italic">s</text>
<text transform="translate(115.8,740.5) scale(0.8695,1)" font-size="20.6" fill="#ff55ee">H</text>
</g>
</svg>
</body></html>
